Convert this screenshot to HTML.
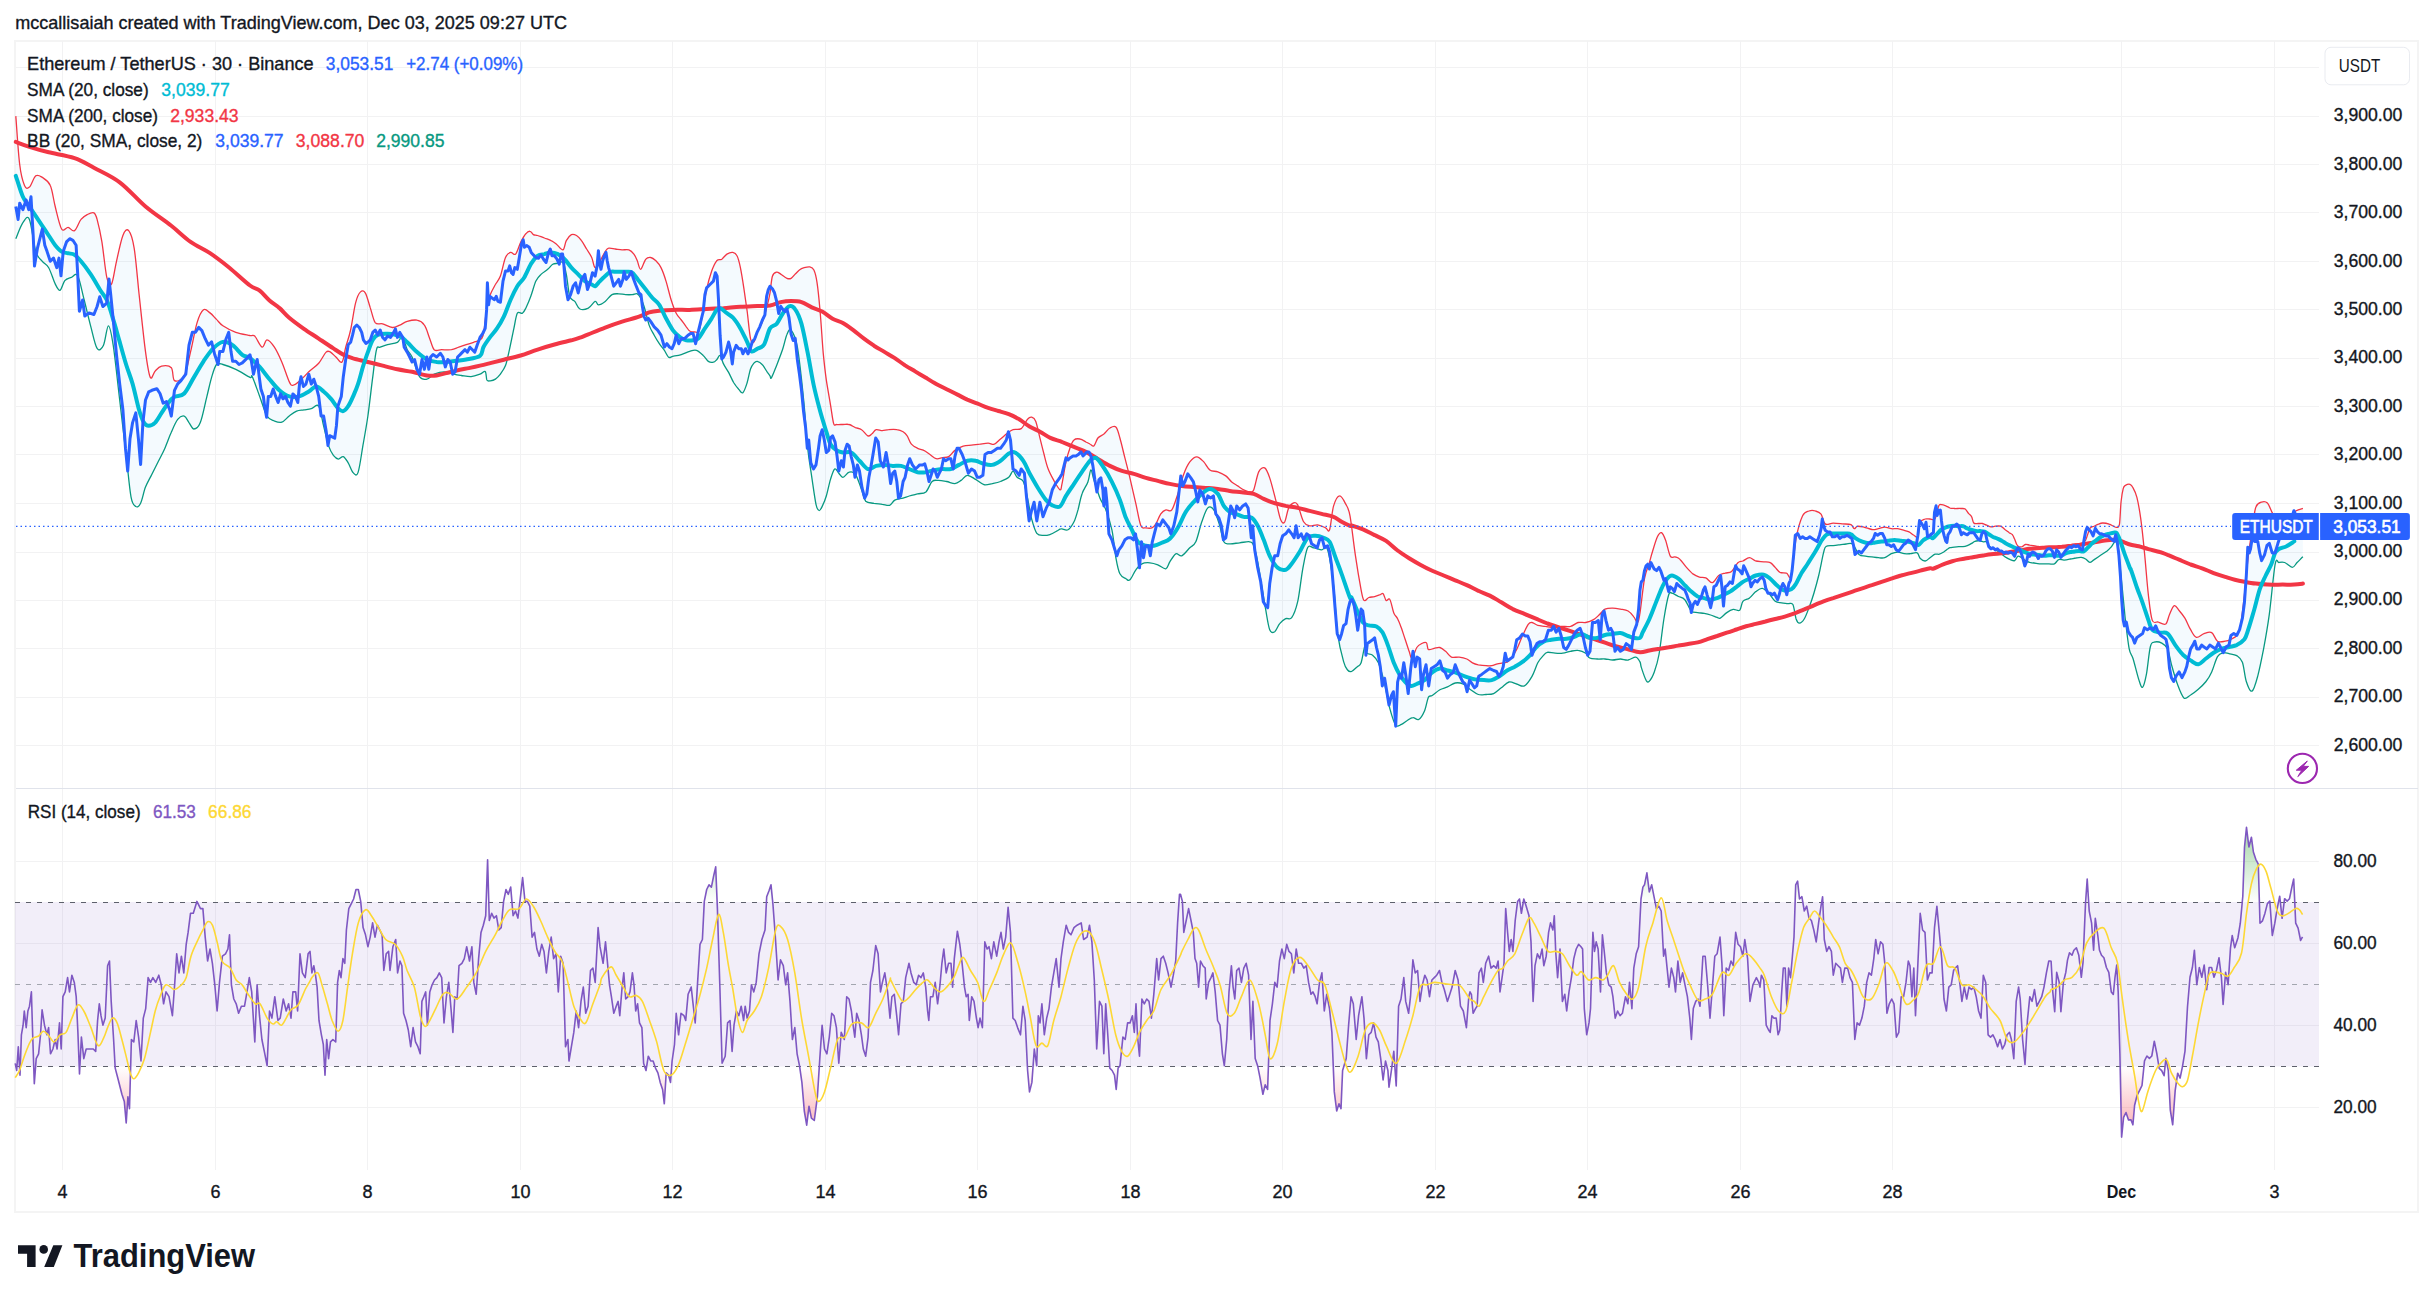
<!DOCTYPE html>
<html><head><meta charset="utf-8"><style>
html,body{margin:0;padding:0;background:#fff;width:2433px;height:1302px;overflow:hidden}
svg{position:absolute;left:0;top:0;font-family:"Liberation Sans", sans-serif}
</style></head><body>
<svg width="2433" height="1302" viewBox="0 0 2433 1302">
<rect x="15" y="41" width="2403" height="1171" fill="none" stroke="#f4f4f4" stroke-width="2"/>
<line x1="62.5" y1="41" x2="62.5" y2="1170" stroke="#f2f2f3" stroke-width="1"/>
<line x1="215.5" y1="41" x2="215.5" y2="1170" stroke="#f2f2f3" stroke-width="1"/>
<line x1="367.5" y1="41" x2="367.5" y2="1170" stroke="#f2f2f3" stroke-width="1"/>
<line x1="520.5" y1="41" x2="520.5" y2="1170" stroke="#f2f2f3" stroke-width="1"/>
<line x1="672.5" y1="41" x2="672.5" y2="1170" stroke="#f2f2f3" stroke-width="1"/>
<line x1="825.5" y1="41" x2="825.5" y2="1170" stroke="#f2f2f3" stroke-width="1"/>
<line x1="977.5" y1="41" x2="977.5" y2="1170" stroke="#f2f2f3" stroke-width="1"/>
<line x1="1130.5" y1="41" x2="1130.5" y2="1170" stroke="#f2f2f3" stroke-width="1"/>
<line x1="1282.5" y1="41" x2="1282.5" y2="1170" stroke="#f2f2f3" stroke-width="1"/>
<line x1="1435.5" y1="41" x2="1435.5" y2="1170" stroke="#f2f2f3" stroke-width="1"/>
<line x1="1587.5" y1="41" x2="1587.5" y2="1170" stroke="#f2f2f3" stroke-width="1"/>
<line x1="1740.5" y1="41" x2="1740.5" y2="1170" stroke="#f2f2f3" stroke-width="1"/>
<line x1="1892.5" y1="41" x2="1892.5" y2="1170" stroke="#f2f2f3" stroke-width="1"/>
<line x1="2121.5" y1="41" x2="2121.5" y2="1170" stroke="#f2f2f3" stroke-width="1"/>
<line x1="2274.5" y1="41" x2="2274.5" y2="1170" stroke="#f2f2f3" stroke-width="1"/>
<line x1="16" y1="67.5" x2="2319" y2="67.5" stroke="#f2f2f3" stroke-width="1"/>
<line x1="16" y1="116.5" x2="2319" y2="116.5" stroke="#f2f2f3" stroke-width="1"/>
<line x1="16" y1="164.5" x2="2319" y2="164.5" stroke="#f2f2f3" stroke-width="1"/>
<line x1="16" y1="212.5" x2="2319" y2="212.5" stroke="#f2f2f3" stroke-width="1"/>
<line x1="16" y1="261.5" x2="2319" y2="261.5" stroke="#f2f2f3" stroke-width="1"/>
<line x1="16" y1="309.5" x2="2319" y2="309.5" stroke="#f2f2f3" stroke-width="1"/>
<line x1="16" y1="358.5" x2="2319" y2="358.5" stroke="#f2f2f3" stroke-width="1"/>
<line x1="16" y1="406.5" x2="2319" y2="406.5" stroke="#f2f2f3" stroke-width="1"/>
<line x1="16" y1="454.5" x2="2319" y2="454.5" stroke="#f2f2f3" stroke-width="1"/>
<line x1="16" y1="503.5" x2="2319" y2="503.5" stroke="#f2f2f3" stroke-width="1"/>
<line x1="16" y1="552.5" x2="2319" y2="552.5" stroke="#f2f2f3" stroke-width="1"/>
<line x1="16" y1="600.5" x2="2319" y2="600.5" stroke="#f2f2f3" stroke-width="1"/>
<line x1="16" y1="648.5" x2="2319" y2="648.5" stroke="#f2f2f3" stroke-width="1"/>
<line x1="16" y1="697.5" x2="2319" y2="697.5" stroke="#f2f2f3" stroke-width="1"/>
<line x1="16" y1="745.5" x2="2319" y2="745.5" stroke="#f2f2f3" stroke-width="1"/>
<line x1="16" y1="861.5" x2="2319" y2="861.5" stroke="#f2f2f3" stroke-width="1"/>
<line x1="16" y1="943.5" x2="2319" y2="943.5" stroke="#f2f2f3" stroke-width="1"/>
<line x1="16" y1="1025.5" x2="2319" y2="1025.5" stroke="#f2f2f3" stroke-width="1"/>
<line x1="16" y1="1107.5" x2="2319" y2="1107.5" stroke="#f2f2f3" stroke-width="1"/>
<line x1="16" y1="788.5" x2="2418" y2="788.5" stroke="#e0e3eb" stroke-width="1"/>
<rect x="15" y="902" width="2304" height="164.5" fill="#7e57c2" fill-opacity="0.1"/>
<line x1="15" y1="902.5" x2="2319" y2="902.5" stroke="#5d606b" stroke-width="1" stroke-dasharray="5,6"/>
<line x1="15" y1="1066.5" x2="2319" y2="1066.5" stroke="#5d606b" stroke-width="1" stroke-dasharray="5,6"/>
<line x1="15" y1="984.5" x2="2319" y2="984.5" stroke="#a3a6af" stroke-width="1" stroke-dasharray="5,6"/>
<path d="M15.8,116.1 L19.7,164.5 L24.5,185.5 L29.4,187.1 L35.8,175.8 L42.3,177.4 L50.3,185.5 L55.2,206.5 L61.6,229.0 L68.1,227.4 L74.5,230.6 L81.0,219.4 L87.4,214.5 L93.9,212.9 L97.1,219.4 L101.9,241.9 L106.8,277.4 L111.6,283.9 L116.5,261.3 L122.9,235.5 L128.7,230.6 L134.2,248.4 L139.0,293.5 L145.5,351.6 L150.3,377.4 L155.2,371.0 L161.6,366.1 L171.3,367.7 L174.5,380.6 L184.2,375.8 L190.6,351.6 L197.1,322.6 L203.5,309.7 L210.0,312.9 L216.5,319.4 L222.9,325.8 L235.8,332.3 L250.0,335.5 L254.8,336.1 L262.1,347.2 L267.0,339.8 L274.4,347.2 L281.8,362.0 L289.2,381.6 L292.9,385.3 L299.0,381.6 L308.8,371.8 L318.7,363.2 L326.1,352.1 L330.5,352.1 L335.9,357.0 L342.0,362.0 L345.7,347.2 L350.6,330.0 L355.6,302.9 L360.5,291.9 L365.4,293.1 L370.3,307.9 L375.2,322.6 L382.6,323.8 L392.4,327.5 L399.8,325.1 L407.2,321.4 L417.0,320.2 L424.4,325.1 L429.3,337.4 L434.2,349.7 L441.6,349.7 L451.5,349.7 L458.8,347.2 L466.2,344.7 L473.6,342.3 L480.0,339.8 L483.5,333.5 L486.9,306.5 L490.3,294.6 L495.4,284.5 L500.4,276.1 L505.5,257.5 L510.6,252.4 L515.6,254.1 L520.7,242.3 L525.8,233.8 L530.0,231.3 L533.4,234.6 L537.6,235.5 L544.4,238.0 L551.1,240.6 L556.2,243.9 L563.0,249.9 L566.3,240.6 L571.4,234.6 L576.5,235.5 L581.5,240.6 L586.6,249.0 L591.7,257.5 L595.1,267.6 L600.1,260.8 L605.2,251.5 L608.6,248.2 L615.3,249.0 L622.1,249.9 L628.9,249.9 L633.9,254.1 L637.3,260.8 L640.7,269.3 L645.8,259.2 L650.8,257.5 L655.9,260.8 L661.0,267.6 L666.0,281.1 L671.1,299.7 L676.2,313.2 L681.3,320.0 L686.3,326.8 L689.7,331.0 L694.8,331.8 L699.8,328.4 L706.6,289.6 L711.7,271.0 L716.7,260.8 L721.8,259.2 L726.9,254.1 L732.8,252.4 L737.0,255.8 L740.4,267.6 L743.8,287.9 L747.2,311.5 L750.5,338.6 L753.9,342.0 L757.3,331.8 L762.4,321.7 L767.4,304.8 L770.0,293.0 L772.4,276.2 L776.6,272.1 L780.7,274.1 L787.0,278.3 L791.1,278.3 L795.2,274.1 L799.4,270.0 L803.5,267.9 L809.8,266.9 L813.9,270.0 L817.0,282.4 L820.1,311.5 L823.2,352.9 L826.3,379.9 L830.5,404.8 L833.6,423.4 L836.7,424.5 L842.9,424.5 L849.2,424.5 L855.4,427.6 L861.6,429.7 L867.8,435.9 L872.0,433.8 L876.1,429.7 L882.3,430.7 L888.6,429.7 L896.8,429.7 L903.1,431.7 L907.2,435.9 L911.4,444.2 L917.6,448.3 L923.8,450.4 L930.0,454.5 L936.2,458.7 L942.5,457.6 L948.7,456.6 L954.9,450.4 L963.2,446.2 L971.5,445.2 L979.8,444.2 L988.1,443.1 L994.3,444.2 L1000.5,439.0 L1006.7,433.8 L1013.0,429.7 L1021.2,428.6 L1027.5,419.3 L1031.6,417.2 L1035.8,421.4 L1039.9,437.9 L1044.1,454.5 L1048.2,469.0 L1054.4,481.5 L1060.0,489.8 L1062.0,483.9 L1066.0,461.9 L1070.0,447.9 L1074.0,440.0 L1080.0,439.0 L1085.9,442.0 L1089.9,444.0 L1093.9,445.9 L1097.9,438.0 L1103.9,434.0 L1109.9,428.0 L1115.9,427.0 L1119.9,438.0 L1124.9,457.9 L1129.9,477.9 L1135.9,503.9 L1140.9,525.8 L1145.9,527.8 L1151.9,527.8 L1155.9,523.8 L1160.8,513.9 L1165.8,509.9 L1171.8,509.9 L1177.8,493.9 L1183.8,473.9 L1189.8,461.9 L1196.8,456.9 L1203.8,461.9 L1209.8,469.9 L1217.8,471.9 L1225.8,475.9 L1231.7,481.9 L1237.7,485.9 L1243.7,489.9 L1249.7,491.9 L1253.7,489.9 L1258.7,471.9 L1264.7,467.9 L1269.7,477.9 L1275.7,499.9 L1280.7,519.8 L1284.7,521.8 L1288.7,507.9 L1293.7,502.9 L1297.7,504.9 L1303.6,521.8 L1309.6,525.8 L1317.6,524.8 L1325.6,527.8 L1329.6,529.8 L1333.6,505.9 L1339.6,495.9 L1345.6,503.9 L1350.0,515.9 L1355.4,555.3 L1361.1,589.9 L1364.0,600.4 L1368.8,597.5 L1374.6,596.6 L1380.3,594.7 L1383.2,593.7 L1386.1,600.4 L1389.9,599.5 L1393.8,612.9 L1397.6,618.7 L1401.5,628.3 L1405.3,639.8 L1409.1,651.3 L1412.0,658.0 L1416.8,647.5 L1421.6,643.6 L1426.4,642.7 L1428.3,649.4 L1434.1,648.4 L1439.9,647.5 L1445.6,651.3 L1451.4,657.1 L1459.1,657.1 L1466.8,659.0 L1472.5,662.8 L1478.3,664.8 L1486.0,665.7 L1491.7,665.7 L1497.5,663.8 L1503.2,662.8 L1509.0,660.9 L1516.7,649.4 L1522.4,636.0 L1528.2,624.4 L1532.0,622.5 L1537.8,625.4 L1545.5,626.4 L1553.2,627.3 L1560.9,626.4 L1570.5,626.4 L1578.1,622.5 L1585.8,622.5 L1593.5,619.6 L1599.3,614.8 L1605.0,609.1 L1612.7,608.1 L1620.4,609.1 L1628.1,611.0 L1633.8,616.8 L1637.7,622.5 L1640.0,612.9 L1644.5,578.7 L1649.4,562.6 L1652.6,551.3 L1657.4,536.8 L1661.5,532.7 L1665.5,540.0 L1670.3,556.1 L1675.2,556.9 L1680.0,559.4 L1686.5,567.4 L1692.9,573.9 L1699.4,577.1 L1705.8,577.9 L1712.3,582.7 L1718.7,575.5 L1725.2,573.1 L1731.6,571.5 L1738.1,562.6 L1742.9,561.0 L1749.4,557.7 L1755.8,561.0 L1763.9,561.8 L1770.3,562.6 L1775.2,567.4 L1780.0,572.3 L1786.5,573.1 L1791.3,575.5 L1796.1,538.4 L1802.6,515.8 L1809.0,511.0 L1815.5,511.0 L1821.1,514.2 L1825.2,523.9 L1833.2,523.1 L1842.9,523.9 L1851.0,524.7 L1854.2,528.7 L1857.4,526.3 L1863.9,527.1 L1871.9,529.5 L1878.4,528.7 L1884.8,527.1 L1891.3,528.7 L1897.7,528.7 L1904.2,530.3 L1909.0,531.9 L1913.9,535.2 L1917.9,536.8 L1920.3,522.3 L1925.2,519.0 L1930.0,519.0 L1935.1,518.7 L1938.8,505.8 L1941.5,504.7 L1945.8,505.8 L1950.1,508.0 L1954.4,508.5 L1960.9,508.5 L1965.2,509.0 L1968.4,513.3 L1971.6,516.6 L1973.8,523.0 L1978.1,523.5 L1982.4,523.5 L1986.7,525.2 L1991.0,526.8 L1995.3,526.2 L2000.6,526.2 L2004.9,529.5 L2009.2,532.7 L2012.5,534.8 L2014.6,539.1 L2016.8,544.5 L2018.9,546.7 L2022.2,546.7 L2025.4,544.5 L2029.7,545.1 L2036.1,546.1 L2042.6,547.2 L2049.0,546.7 L2055.5,546.7 L2061.9,546.1 L2068.4,545.1 L2074.8,544.0 L2081.3,543.4 L2085.6,540.2 L2089.9,528.4 L2094.2,526.2 L2098.5,524.1 L2102.8,523.0 L2109.2,524.1 L2113.5,526.2 L2116.8,527.3 L2119.5,524.1 L2121.1,501.5 L2123.2,488.6 L2125.4,485.4 L2130.0,484.3 L2133.0,487.7 L2136.9,497.3 L2140.7,518.4 L2144.5,552.9 L2148.4,595.2 L2152.2,620.1 L2158.0,622.0 L2165.7,624.0 L2169.5,614.4 L2174.3,605.7 L2179.1,610.5 L2184.9,618.2 L2190.6,629.7 L2196.4,637.4 L2204.0,633.6 L2211.7,632.6 L2217.5,641.2 L2225.2,641.2 L2230.9,639.3 L2236.7,635.5 L2240.5,625.9 L2244.4,595.2 L2248.2,556.8 L2253.0,524.1 L2255.9,506.9 L2261.6,502.1 L2267.4,503.0 L2272.2,512.6 L2275.1,518.4 L2278.9,528.0 L2284.7,522.2 L2290.4,516.5 L2296.2,510.7 L2302.9,508.4 L2302.9,556.8 L2297.1,562.5 L2292.3,567.3 L2284.7,562.5 L2278.9,562.5 L2275.1,564.5 L2269.3,614.4 L2263.6,648.9 L2257.8,675.8 L2252.0,691.1 L2246.3,681.5 L2242.4,662.3 L2236.7,655.6 L2229.0,653.7 L2223.2,652.7 L2217.5,656.6 L2211.7,671.9 L2206.0,681.5 L2198.3,689.2 L2190.6,695.0 L2183.9,697.9 L2177.2,683.5 L2171.4,664.3 L2167.6,648.9 L2161.8,643.1 L2154.1,642.2 L2150.3,647.0 L2146.5,673.9 L2142.6,687.3 L2138.8,679.6 L2133.0,658.5 L2129.2,648.9 L2125.4,620.0 L2124.3,609.0 L2121.1,576.8 L2117.8,544.5 L2114.6,542.4 L2111.4,546.7 L2107.1,551.0 L2100.6,555.3 L2094.2,559.6 L2089.9,562.3 L2085.6,559.0 L2081.3,557.4 L2075.9,558.0 L2070.5,559.0 L2064.1,560.1 L2058.7,559.6 L2054.4,563.9 L2049.0,563.9 L2042.6,563.9 L2036.1,563.3 L2029.7,562.3 L2025.4,560.6 L2021.1,557.4 L2017.8,556.3 L2014.6,560.6 L2010.3,559.6 L2006.0,557.4 L2001.7,554.2 L1997.4,551.0 L1993.1,548.8 L1988.8,545.6 L1986.7,541.8 L1983.4,541.8 L1979.1,540.8 L1974.8,541.3 L1971.6,543.4 L1967.3,545.6 L1963.0,546.7 L1958.7,546.7 L1954.4,547.2 L1950.1,547.7 L1948.0,548.8 L1943.7,552.0 L1939.4,554.2 L1935.1,554.2 L1930.0,557.7 L1925.2,561.0 L1920.3,558.5 L1917.1,552.9 L1910.6,553.7 L1904.2,553.7 L1897.7,552.1 L1891.3,553.7 L1884.8,557.7 L1878.4,557.7 L1871.9,556.9 L1865.5,556.1 L1859.0,554.5 L1852.6,544.0 L1846.1,544.0 L1839.7,544.8 L1833.2,545.6 L1826.0,546.5 L1823.5,552.9 L1818.7,575.5 L1813.9,593.2 L1809.0,607.7 L1804.2,619.0 L1799.4,623.1 L1796.1,619.0 L1792.9,604.5 L1788.1,603.7 L1781.6,602.9 L1775.2,601.3 L1768.7,593.2 L1762.3,588.4 L1755.8,591.6 L1749.4,598.1 L1742.9,601.3 L1739.7,610.2 L1733.2,609.4 L1726.8,612.6 L1720.3,618.2 L1717.1,617.4 L1710.6,615.0 L1704.2,613.4 L1697.7,612.6 L1691.3,611.0 L1684.8,599.7 L1678.4,596.5 L1671.9,593.2 L1668.7,594.8 L1663.9,619.0 L1659.0,654.5 L1654.2,672.3 L1649.4,681.1 L1646.1,680.3 L1641.3,667.4 L1640.0,661.9 L1635.8,657.1 L1628.1,660.0 L1620.4,659.0 L1612.7,660.0 L1605.0,659.0 L1597.3,659.0 L1589.7,658.0 L1585.8,653.2 L1578.1,650.4 L1570.5,651.3 L1562.8,653.2 L1555.1,653.2 L1547.4,652.3 L1543.6,655.2 L1537.8,662.8 L1532.0,676.3 L1524.4,685.9 L1516.7,684.0 L1509.0,682.0 L1501.3,687.8 L1493.6,693.6 L1486.0,694.5 L1478.3,694.5 L1470.6,689.7 L1462.9,684.0 L1455.2,683.0 L1447.5,686.9 L1439.9,689.7 L1432.2,695.5 L1428.3,697.4 L1424.5,710.9 L1418.7,719.5 L1413.0,717.6 L1407.2,720.5 L1401.5,724.3 L1395.7,725.3 L1389.9,708.9 L1384.2,682.0 L1378.4,662.8 L1372.6,655.2 L1366.9,653.2 L1365.0,645.6 L1361.1,662.8 L1357.3,666.7 L1351.5,671.5 L1347.6,670.0 L1343.6,661.6 L1337.6,633.7 L1333.6,585.8 L1327.6,549.8 L1321.6,549.8 L1313.6,547.8 L1307.6,547.8 L1302.6,569.8 L1297.7,601.7 L1291.7,617.7 L1285.7,618.7 L1279.7,623.7 L1274.7,631.7 L1269.7,629.7 L1265.7,609.7 L1261.7,585.8 L1257.7,561.8 L1253.7,545.8 L1249.7,541.8 L1239.7,542.8 L1229.7,543.8 L1223.8,541.8 L1219.8,525.8 L1213.8,509.9 L1207.8,507.9 L1201.8,521.8 L1195.8,541.8 L1189.8,547.8 L1181.8,555.8 L1175.8,553.8 L1169.8,561.8 L1165.8,568.8 L1157.8,564.8 L1149.9,562.8 L1141.9,563.8 L1135.9,569.8 L1129.9,579.8 L1125.9,578.8 L1119.9,573.8 L1115.9,557.8 L1111.9,529.8 L1105.9,509.9 L1099.9,497.9 L1093.9,479.9 L1090.9,469.9 L1087.9,481.9 L1082.0,493.9 L1078.0,509.9 L1074.0,521.8 L1068.0,529.8 L1062.0,528.8 L1060.0,529.2 L1056.5,531.2 L1050.3,534.4 L1044.1,535.4 L1036.8,533.3 L1031.6,518.8 L1027.5,498.1 L1023.3,481.5 L1017.1,477.3 L1013.0,471.1 L1008.8,477.3 L1000.5,481.5 L992.2,483.6 L983.9,484.6 L975.6,479.4 L967.3,475.3 L961.1,480.4 L954.9,483.6 L946.6,481.5 L938.3,480.4 L932.1,481.5 L925.9,491.9 L917.6,493.9 L909.3,496.0 L903.1,498.1 L894.8,500.1 L889.6,505.3 L882.3,504.3 L874.0,503.3 L865.7,501.2 L861.6,489.8 L855.4,474.2 L849.2,472.2 L842.9,477.3 L838.8,473.2 L834.6,469.0 L830.5,479.4 L826.3,496.0 L822.2,506.4 L819.1,510.5 L816.0,504.3 L811.8,477.3 L807.7,448.3 L803.5,398.6 L797.3,346.7 L791.1,330.1 L787.0,334.3 L782.8,348.8 L776.6,365.4 L771.4,377.8 L770.0,375.8 L767.4,372.4 L762.4,364.8 L757.3,361.4 L753.9,363.1 L750.5,369.0 L747.2,382.5 L742.9,392.7 L738.7,389.3 L733.6,382.5 L728.6,372.4 L723.5,363.9 L720.1,355.5 L716.7,359.7 L713.4,362.2 L708.3,361.4 L703.2,355.5 L696.5,350.4 L689.7,351.3 L681.3,354.6 L672.8,356.3 L668.6,357.2 L664.4,350.4 L659.3,343.7 L654.2,335.2 L649.1,325.1 L644.1,306.5 L640.7,298.0 L637.3,293.8 L632.2,294.6 L625.5,294.6 L618.7,293.8 L612.0,294.6 L605.2,301.4 L598.4,304.8 L595.1,301.4 L588.3,308.2 L579.9,309.0 L574.8,301.4 L569.7,296.3 L566.3,274.4 L563.0,262.5 L557.9,263.4 L552.8,264.2 L547.7,269.3 L541.0,274.4 L535.9,281.1 L530.8,296.3 L525.8,308.2 L522.4,313.2 L517.3,313.2 L513.9,328.4 L508.9,352.1 L505.5,365.6 L500.4,374.1 L495.4,379.1 L490.3,380.8 L486.9,380.0 L485.2,371.5 L480.0,374.2 L471.1,376.7 L461.3,375.5 L453.9,374.2 L444.1,371.8 L434.2,374.2 L426.9,379.2 L419.5,376.7 L412.1,357.0 L407.2,349.7 L402.3,337.4 L397.4,342.3 L387.5,344.7 L380.2,347.2 L376.5,349.7 L372.8,376.7 L367.9,416.0 L362.9,445.6 L358.0,472.6 L353.1,472.6 L348.2,462.8 L343.3,456.6 L338.4,459.1 L333.4,455.4 L328.5,445.6 L323.6,425.9 L318.7,406.2 L311.3,408.7 L303.9,409.9 L296.6,411.1 L289.2,416.0 L281.8,422.2 L274.4,421.0 L267.0,416.0 L259.7,396.4 L252.3,376.7 L250.0,377.4 L235.8,369.4 L222.9,364.5 L216.5,364.5 L211.6,377.4 L206.8,396.8 L200.3,422.6 L193.9,429.0 L189.0,422.6 L184.2,416.1 L177.7,419.4 L171.3,432.3 L164.8,448.4 L158.4,461.3 L151.9,474.2 L145.5,487.1 L140.6,503.2 L135.8,506.5 L131.0,496.8 L126.1,454.8 L119.7,400.0 L113.2,345.2 L108.4,325.8 L103.5,345.2 L97.1,348.4 L90.6,325.8 L84.2,300.0 L77.7,275.8 L71.3,277.4 L64.8,280.6 L60.0,290.3 L55.2,283.9 L48.7,267.7 L42.3,261.3 L35.8,251.6 L29.4,219.4 L22.9,222.6 L15.8,238.7 Z" fill="#2196f3" fill-opacity="0.05" stroke="none"/>
<path d="M15.8,116.1 C16.5,124.2 18.2,153.0 19.7,164.5 C21.1,176.1 22.9,181.7 24.5,185.5 C26.1,189.2 27.5,188.7 29.4,187.1 C31.2,185.5 33.7,177.4 35.8,175.8 C38.0,174.2 39.8,175.8 42.3,177.4 C44.7,179.0 48.2,180.6 50.3,185.5 C52.5,190.3 53.3,199.2 55.2,206.5 C57.0,213.7 59.5,225.5 61.6,229.0 C63.8,232.5 65.9,227.2 68.1,227.4 C70.2,227.7 72.4,232.0 74.5,230.6 C76.7,229.3 78.8,222.0 81.0,219.4 C83.1,216.7 85.3,215.6 87.4,214.5 C89.6,213.4 92.3,212.1 93.9,212.9 C95.5,213.7 95.8,214.5 97.1,219.4 C98.4,224.2 100.3,232.3 101.9,241.9 C103.5,251.6 105.2,270.4 106.8,277.4 C108.4,284.4 110.0,286.6 111.6,283.9 C113.2,281.2 114.6,269.4 116.5,261.3 C118.3,253.2 120.9,240.6 122.9,235.5 C124.9,230.4 126.8,228.5 128.7,230.6 C130.6,232.8 132.5,237.9 134.2,248.4 C135.9,258.9 137.2,276.3 139.0,293.5 C140.9,310.8 143.6,337.6 145.5,351.6 C147.4,365.6 148.7,374.2 150.3,377.4 C151.9,380.6 153.3,372.8 155.2,371.0 C157.0,369.1 158.9,366.7 161.6,366.1 C164.3,365.6 169.1,365.3 171.3,367.7 C173.4,370.2 172.4,379.3 174.5,380.6 C176.7,382.0 181.5,380.6 184.2,375.8 C186.9,371.0 188.5,360.5 190.6,351.6 C192.8,342.7 194.9,329.6 197.1,322.6 C199.2,315.6 201.4,311.3 203.5,309.7 C205.7,308.1 207.8,311.3 210.0,312.9 C212.2,314.5 214.3,317.2 216.5,319.4 C218.6,321.5 219.7,323.7 222.9,325.8 C226.1,328.0 231.3,330.6 235.8,332.3 C240.3,333.9 246.8,334.8 250.0,335.5 C253.2,336.1 252.7,334.2 254.8,336.1 C256.8,338.1 260.1,346.6 262.1,347.2 C264.2,347.8 265.0,339.8 267.0,339.8 C269.1,339.8 272.0,343.5 274.4,347.2 C276.9,350.9 279.3,356.2 281.8,362.0 C284.3,367.7 287.3,377.7 289.2,381.6 C291.0,385.5 291.2,385.3 292.9,385.3 C294.5,385.3 296.3,383.9 299.0,381.6 C301.7,379.4 305.6,374.9 308.8,371.8 C312.1,368.7 315.8,366.5 318.7,363.2 C321.6,359.9 324.1,354.0 326.1,352.1 C328.0,350.3 328.8,351.3 330.5,352.1 C332.1,352.9 334.0,355.4 335.9,357.0 C337.8,358.7 340.4,363.6 342.0,362.0 C343.7,360.3 344.3,352.5 345.7,347.2 C347.2,341.9 349.0,337.4 350.6,330.0 C352.3,322.6 353.9,309.3 355.6,302.9 C357.2,296.6 358.8,293.5 360.5,291.9 C362.1,290.2 363.8,290.4 365.4,293.1 C367.0,295.8 368.7,302.9 370.3,307.9 C372.0,312.8 373.2,319.9 375.2,322.6 C377.3,325.3 379.7,323.0 382.6,323.8 C385.5,324.7 389.6,327.3 392.4,327.5 C395.3,327.7 397.4,326.1 399.8,325.1 C402.3,324.0 404.3,322.2 407.2,321.4 C410.1,320.6 414.2,319.5 417.0,320.2 C419.9,320.8 422.4,322.2 424.4,325.1 C426.5,327.9 427.7,333.3 429.3,337.4 C431.0,341.5 432.2,347.6 434.2,349.7 C436.3,351.7 438.8,349.7 441.6,349.7 C444.5,349.7 448.6,350.1 451.5,349.7 C454.3,349.2 456.4,348.0 458.8,347.2 C461.3,346.4 463.8,345.6 466.2,344.7 C468.7,343.9 471.3,343.1 473.6,342.3 C475.9,341.5 478.3,341.3 480.0,339.8 C481.6,338.4 482.4,339.1 483.5,333.5 C484.7,328.0 485.8,313.0 486.9,306.5 C488.0,300.0 488.9,298.3 490.3,294.6 C491.7,291.0 493.7,287.6 495.4,284.5 C497.0,281.4 498.7,280.6 500.4,276.1 C502.1,271.5 503.8,261.4 505.5,257.5 C507.2,253.5 508.9,253.0 510.6,252.4 C512.3,251.8 513.9,255.8 515.6,254.1 C517.3,252.4 519.0,245.6 520.7,242.3 C522.4,238.9 524.2,235.6 525.8,233.8 C527.3,232.0 528.7,231.1 530.0,231.3 C531.3,231.4 532.1,233.9 533.4,234.6 C534.6,235.4 535.8,234.9 537.6,235.5 C539.4,236.1 542.1,237.2 544.4,238.0 C546.6,238.9 549.2,239.6 551.1,240.6 C553.1,241.5 554.2,242.4 556.2,243.9 C558.2,245.5 561.3,250.4 563.0,249.9 C564.6,249.3 564.9,243.1 566.3,240.6 C567.7,238.0 569.7,235.5 571.4,234.6 C573.1,233.8 574.8,234.5 576.5,235.5 C578.2,236.5 579.9,238.3 581.5,240.6 C583.2,242.8 584.9,246.2 586.6,249.0 C588.3,251.8 590.3,254.4 591.7,257.5 C593.1,260.6 593.7,267.0 595.1,267.6 C596.5,268.2 598.4,263.5 600.1,260.8 C601.8,258.2 603.8,253.7 605.2,251.5 C606.6,249.4 606.9,248.6 608.6,248.2 C610.3,247.7 613.1,248.7 615.3,249.0 C617.6,249.3 619.9,249.7 622.1,249.9 C624.4,250.0 626.9,249.2 628.9,249.9 C630.8,250.6 632.5,252.3 633.9,254.1 C635.3,255.9 636.2,258.3 637.3,260.8 C638.4,263.4 639.3,269.6 640.7,269.3 C642.1,269.0 644.1,261.1 645.8,259.2 C647.5,257.2 649.1,257.2 650.8,257.5 C652.5,257.7 654.2,259.2 655.9,260.8 C657.6,262.5 659.3,264.2 661.0,267.6 C662.7,271.0 664.4,275.8 666.0,281.1 C667.7,286.5 669.4,294.4 671.1,299.7 C672.8,305.1 674.5,309.9 676.2,313.2 C677.9,316.6 679.6,317.7 681.3,320.0 C682.9,322.2 684.9,324.9 686.3,326.8 C687.7,328.6 688.3,330.1 689.7,331.0 C691.1,331.8 693.1,332.2 694.8,331.8 C696.5,331.4 697.9,335.5 699.8,328.4 C701.8,321.4 704.6,299.1 706.6,289.6 C708.6,280.0 710.0,275.8 711.7,271.0 C713.4,266.2 715.1,262.8 716.7,260.8 C718.4,258.9 720.1,260.3 721.8,259.2 C723.5,258.0 725.1,255.2 726.9,254.1 C728.7,253.0 731.1,252.1 732.8,252.4 C734.5,252.7 735.8,253.2 737.0,255.8 C738.3,258.3 739.3,262.3 740.4,267.6 C741.5,273.0 742.7,280.6 743.8,287.9 C744.9,295.2 746.0,303.1 747.2,311.5 C748.3,320.0 749.4,333.5 750.5,338.6 C751.7,343.7 752.8,343.1 753.9,342.0 C755.1,340.8 755.9,335.2 757.3,331.8 C758.7,328.4 760.7,326.2 762.4,321.7 C764.1,317.2 766.2,309.6 767.4,304.8 C768.7,300.0 769.2,297.7 770.0,293.0 C770.8,288.2 771.3,279.7 772.4,276.2 C773.5,272.7 775.2,272.4 776.6,272.1 C778.0,271.7 779.0,273.1 780.7,274.1 C782.5,275.2 785.2,277.6 787.0,278.3 C788.7,279.0 789.7,279.0 791.1,278.3 C792.5,277.6 793.9,275.5 795.2,274.1 C796.6,272.8 798.0,271.0 799.4,270.0 C800.8,269.0 801.8,268.4 803.5,267.9 C805.3,267.4 808.0,266.5 809.8,266.9 C811.5,267.2 812.7,267.4 813.9,270.0 C815.1,272.6 816.0,275.5 817.0,282.4 C818.1,289.4 819.1,299.7 820.1,311.5 C821.2,323.2 822.2,341.5 823.2,352.9 C824.3,364.3 825.1,371.3 826.3,379.9 C827.6,388.5 829.3,397.5 830.5,404.8 C831.7,412.0 832.6,420.1 833.6,423.4 C834.6,426.7 835.2,424.3 836.7,424.5 C838.3,424.6 840.9,424.5 842.9,424.5 C845.0,424.5 847.1,423.9 849.2,424.5 C851.2,425.0 853.3,426.7 855.4,427.6 C857.4,428.4 859.5,428.3 861.6,429.7 C863.7,431.0 866.1,435.2 867.8,435.9 C869.5,436.6 870.6,434.8 872.0,433.8 C873.3,432.8 874.4,430.2 876.1,429.7 C877.8,429.1 880.3,430.7 882.3,430.7 C884.4,430.7 886.1,429.8 888.6,429.7 C891.0,429.5 894.4,429.3 896.8,429.7 C899.3,430.0 901.3,430.7 903.1,431.7 C904.8,432.8 905.8,433.8 907.2,435.9 C908.6,437.9 909.6,442.1 911.4,444.2 C913.1,446.2 915.5,447.3 917.6,448.3 C919.7,449.3 921.7,449.3 923.8,450.4 C925.9,451.4 927.9,453.2 930.0,454.5 C932.1,455.9 934.2,458.2 936.2,458.7 C938.3,459.2 940.4,458.0 942.5,457.6 C944.5,457.3 946.6,457.8 948.7,456.6 C950.8,455.4 952.5,452.1 954.9,450.4 C957.3,448.7 960.4,447.1 963.2,446.2 C966.0,445.4 968.7,445.5 971.5,445.2 C974.3,444.9 977.0,444.5 979.8,444.2 C982.5,443.8 985.7,443.1 988.1,443.1 C990.5,443.1 992.2,444.9 994.3,444.2 C996.4,443.5 998.4,440.7 1000.5,439.0 C1002.6,437.3 1004.7,435.4 1006.7,433.8 C1008.8,432.2 1010.5,430.5 1013.0,429.7 C1015.4,428.8 1018.8,430.3 1021.2,428.6 C1023.7,426.9 1025.7,421.2 1027.5,419.3 C1029.2,417.4 1030.2,416.9 1031.6,417.2 C1033.0,417.6 1034.4,417.9 1035.8,421.4 C1037.1,424.8 1038.5,432.4 1039.9,437.9 C1041.3,443.5 1042.7,449.3 1044.1,454.5 C1045.4,459.7 1046.5,464.6 1048.2,469.0 C1049.9,473.5 1052.5,478.0 1054.4,481.5 C1056.4,484.9 1058.8,489.4 1060.0,489.8 C1061.3,490.2 1061.0,488.5 1062.0,483.9 C1063.0,479.3 1064.6,467.9 1066.0,461.9 C1067.3,455.9 1068.6,451.6 1070.0,447.9 C1071.3,444.3 1072.3,441.5 1074.0,440.0 C1075.6,438.5 1078.0,438.6 1080.0,439.0 C1082.0,439.3 1084.3,441.1 1085.9,442.0 C1087.6,442.8 1088.6,443.3 1089.9,444.0 C1091.3,444.6 1092.6,446.9 1093.9,445.9 C1095.3,445.0 1096.3,440.0 1097.9,438.0 C1099.6,436.0 1101.9,435.6 1103.9,434.0 C1105.9,432.3 1107.9,429.1 1109.9,428.0 C1111.9,426.8 1114.2,425.3 1115.9,427.0 C1117.6,428.6 1118.4,432.8 1119.9,438.0 C1121.4,443.1 1123.2,451.3 1124.9,457.9 C1126.6,464.6 1128.1,470.2 1129.9,477.9 C1131.7,485.6 1134.0,495.9 1135.9,503.9 C1137.7,511.9 1139.2,521.8 1140.9,525.8 C1142.5,529.8 1144.0,527.5 1145.9,527.8 C1147.7,528.2 1150.2,528.5 1151.9,527.8 C1153.5,527.2 1154.4,526.2 1155.9,523.8 C1157.3,521.5 1159.2,516.2 1160.8,513.9 C1162.5,511.5 1164.0,510.5 1165.8,509.9 C1167.7,509.2 1169.8,512.5 1171.8,509.9 C1173.8,507.2 1175.8,499.9 1177.8,493.9 C1179.8,487.9 1181.8,479.2 1183.8,473.9 C1185.8,468.6 1187.6,464.8 1189.8,461.9 C1192.0,459.1 1194.5,456.9 1196.8,456.9 C1199.1,456.9 1201.6,459.8 1203.8,461.9 C1205.9,464.1 1207.4,468.3 1209.8,469.9 C1212.1,471.6 1215.1,470.9 1217.8,471.9 C1220.4,472.9 1223.4,474.2 1225.8,475.9 C1228.1,477.6 1229.7,480.2 1231.7,481.9 C1233.7,483.6 1235.7,484.6 1237.7,485.9 C1239.7,487.2 1241.7,488.9 1243.7,489.9 C1245.7,490.9 1248.1,491.9 1249.7,491.9 C1251.4,491.9 1252.2,493.2 1253.7,489.9 C1255.2,486.6 1256.9,475.6 1258.7,471.9 C1260.5,468.3 1262.9,466.9 1264.7,467.9 C1266.5,468.9 1267.9,472.6 1269.7,477.9 C1271.5,483.2 1273.9,492.9 1275.7,499.9 C1277.5,506.9 1279.2,516.2 1280.7,519.8 C1282.2,523.5 1283.3,523.8 1284.7,521.8 C1286.0,519.8 1287.2,511.0 1288.7,507.9 C1290.2,504.7 1292.2,503.4 1293.7,502.9 C1295.2,502.4 1296.0,501.7 1297.7,504.9 C1299.3,508.0 1301.6,518.3 1303.6,521.8 C1305.6,525.3 1307.3,525.3 1309.6,525.8 C1312.0,526.3 1315.0,524.5 1317.6,524.8 C1320.3,525.2 1323.6,527.0 1325.6,527.8 C1327.6,528.7 1328.3,533.5 1329.6,529.8 C1330.9,526.2 1331.9,511.5 1333.6,505.9 C1335.3,500.2 1337.6,496.2 1339.6,495.9 C1341.6,495.5 1343.9,500.5 1345.6,503.9 C1347.3,507.2 1348.4,507.3 1350.0,515.9 C1351.6,524.4 1353.5,543.0 1355.4,555.3 C1357.2,567.6 1359.7,582.3 1361.1,589.9 C1362.6,597.4 1362.7,599.1 1364.0,600.4 C1365.3,601.7 1367.0,598.2 1368.8,597.5 C1370.6,596.9 1372.6,597.1 1374.6,596.6 C1376.5,596.1 1378.9,595.1 1380.3,594.7 C1381.8,594.2 1382.3,592.7 1383.2,593.7 C1384.2,594.7 1385.0,599.5 1386.1,600.4 C1387.2,601.4 1388.7,597.4 1389.9,599.5 C1391.2,601.5 1392.5,609.7 1393.8,612.9 C1395.1,616.1 1396.3,616.1 1397.6,618.7 C1398.9,621.2 1400.2,624.8 1401.5,628.3 C1402.7,631.8 1404.0,636.0 1405.3,639.8 C1406.6,643.6 1408.0,648.3 1409.1,651.3 C1410.3,654.4 1410.7,658.7 1412.0,658.0 C1413.3,657.4 1415.2,649.9 1416.8,647.5 C1418.4,645.1 1420.0,644.4 1421.6,643.6 C1423.2,642.8 1425.3,641.7 1426.4,642.7 C1427.5,643.6 1427.1,648.4 1428.3,649.4 C1429.6,650.4 1432.2,648.8 1434.1,648.4 C1436.0,648.1 1437.9,647.0 1439.9,647.5 C1441.8,648.0 1443.7,649.7 1445.6,651.3 C1447.5,652.9 1449.1,656.1 1451.4,657.1 C1453.6,658.0 1456.5,656.8 1459.1,657.1 C1461.6,657.4 1464.5,658.0 1466.8,659.0 C1469.0,660.0 1470.6,661.9 1472.5,662.8 C1474.4,663.8 1476.0,664.3 1478.3,664.8 C1480.5,665.2 1483.7,665.6 1486.0,665.7 C1488.2,665.9 1489.8,666.0 1491.7,665.7 C1493.6,665.4 1495.6,664.3 1497.5,663.8 C1499.4,663.3 1501.3,663.3 1503.2,662.8 C1505.2,662.4 1506.8,663.2 1509.0,660.9 C1511.2,658.7 1514.4,653.6 1516.7,649.4 C1518.9,645.2 1520.5,640.1 1522.4,636.0 C1524.4,631.8 1526.6,626.7 1528.2,624.4 C1529.8,622.2 1530.4,622.4 1532.0,622.5 C1533.6,622.7 1535.6,624.8 1537.8,625.4 C1540.1,626.0 1542.9,626.0 1545.5,626.4 C1548.1,626.7 1550.6,627.3 1553.2,627.3 C1555.7,627.3 1558.0,626.5 1560.9,626.4 C1563.7,626.2 1567.6,627.0 1570.5,626.4 C1573.3,625.7 1575.6,623.2 1578.1,622.5 C1580.7,621.9 1583.3,623.0 1585.8,622.5 C1588.4,622.0 1591.3,620.9 1593.5,619.6 C1595.7,618.4 1597.3,616.6 1599.3,614.8 C1601.2,613.1 1602.8,610.2 1605.0,609.1 C1607.3,608.0 1610.1,608.1 1612.7,608.1 C1615.3,608.1 1617.8,608.6 1620.4,609.1 C1623.0,609.6 1625.8,609.7 1628.1,611.0 C1630.3,612.3 1632.2,614.8 1633.8,616.8 C1635.4,618.7 1636.7,623.2 1637.7,622.5 C1638.7,621.9 1638.8,620.2 1640.0,612.9 C1641.1,605.6 1643.0,587.1 1644.5,578.7 C1646.1,570.3 1648.0,567.2 1649.4,562.6 C1650.7,558.0 1651.2,555.6 1652.6,551.3 C1653.9,547.0 1655.9,539.9 1657.4,536.8 C1658.9,533.7 1660.1,532.2 1661.5,532.7 C1662.8,533.3 1664.0,536.1 1665.5,540.0 C1667.0,543.9 1668.7,553.3 1670.3,556.1 C1671.9,559.0 1673.5,556.4 1675.2,556.9 C1676.8,557.5 1678.1,557.6 1680.0,559.4 C1681.9,561.1 1684.3,565.0 1686.5,567.4 C1688.6,569.8 1690.8,572.3 1692.9,573.9 C1695.1,575.5 1697.2,576.4 1699.4,577.1 C1701.5,577.8 1703.7,577.0 1705.8,577.9 C1708.0,578.8 1710.1,583.1 1712.3,582.7 C1714.4,582.3 1716.6,577.1 1718.7,575.5 C1720.9,573.9 1723.0,573.7 1725.2,573.1 C1727.3,572.4 1729.5,573.2 1731.6,571.5 C1733.8,569.7 1736.2,564.3 1738.1,562.6 C1739.9,560.8 1741.0,561.8 1742.9,561.0 C1744.8,560.2 1747.2,557.7 1749.4,557.7 C1751.5,557.7 1753.4,560.3 1755.8,561.0 C1758.2,561.6 1761.5,561.5 1763.9,561.8 C1766.3,562.0 1768.4,561.6 1770.3,562.6 C1772.2,563.5 1773.5,565.8 1775.2,567.4 C1776.8,569.0 1778.1,571.3 1780.0,572.3 C1781.9,573.2 1784.6,572.5 1786.5,573.1 C1788.3,573.6 1789.7,581.3 1791.3,575.5 C1792.9,569.7 1794.2,548.3 1796.1,538.4 C1798.0,528.4 1800.4,520.4 1802.6,515.8 C1804.7,511.2 1806.9,511.8 1809.0,511.0 C1811.2,510.2 1813.5,510.4 1815.5,511.0 C1817.5,511.5 1819.5,512.0 1821.1,514.2 C1822.7,516.3 1823.1,522.4 1825.2,523.9 C1827.2,525.3 1830.3,523.1 1833.2,523.1 C1836.2,523.1 1839.9,523.6 1842.9,523.9 C1845.9,524.1 1849.1,523.9 1851.0,524.7 C1852.8,525.5 1853.1,528.4 1854.2,528.7 C1855.3,529.0 1855.8,526.6 1857.4,526.3 C1859.0,526.0 1861.5,526.6 1863.9,527.1 C1866.3,527.6 1869.5,529.2 1871.9,529.5 C1874.4,529.8 1876.2,529.1 1878.4,528.7 C1880.5,528.3 1882.7,527.1 1884.8,527.1 C1887.0,527.1 1889.1,528.4 1891.3,528.7 C1893.4,529.0 1895.6,528.4 1897.7,528.7 C1899.9,529.0 1902.3,529.8 1904.2,530.3 C1906.1,530.9 1907.4,531.1 1909.0,531.9 C1910.6,532.7 1912.4,534.4 1913.9,535.2 C1915.3,536.0 1916.8,538.9 1917.9,536.8 C1919.0,534.6 1919.1,525.2 1920.3,522.3 C1921.5,519.3 1923.5,519.6 1925.2,519.0 C1926.8,518.5 1928.4,519.1 1930.0,519.0 C1931.6,519.0 1933.6,520.9 1935.1,518.7 C1936.5,516.5 1937.7,508.1 1938.8,505.8 C1939.9,503.5 1940.3,504.7 1941.5,504.7 C1942.7,504.7 1944.4,505.3 1945.8,505.8 C1947.2,506.3 1948.7,507.5 1950.1,508.0 C1951.5,508.4 1952.6,508.4 1954.4,508.5 C1956.2,508.6 1959.1,508.4 1960.9,508.5 C1962.7,508.6 1963.9,508.2 1965.2,509.0 C1966.4,509.8 1967.3,512.1 1968.4,513.3 C1969.5,514.6 1970.7,514.9 1971.6,516.6 C1972.5,518.2 1972.7,521.8 1973.8,523.0 C1974.8,524.2 1976.6,523.5 1978.1,523.5 C1979.5,523.6 1980.9,523.3 1982.4,523.5 C1983.8,523.8 1985.2,524.6 1986.7,525.2 C1988.1,525.7 1989.5,526.6 1991.0,526.8 C1992.4,527.0 1993.7,526.3 1995.3,526.2 C1996.9,526.1 1999.0,525.7 2000.6,526.2 C2002.3,526.8 2003.5,528.4 2004.9,529.5 C2006.4,530.5 2008.0,531.8 2009.2,532.7 C2010.5,533.6 2011.6,533.8 2012.5,534.8 C2013.4,535.9 2013.9,537.5 2014.6,539.1 C2015.3,540.8 2016.1,543.3 2016.8,544.5 C2017.5,545.8 2018.0,546.3 2018.9,546.7 C2019.8,547.0 2021.1,547.0 2022.2,546.7 C2023.2,546.3 2024.1,544.8 2025.4,544.5 C2026.6,544.2 2027.9,544.8 2029.7,545.1 C2031.5,545.3 2034.0,545.8 2036.1,546.1 C2038.3,546.5 2040.4,547.1 2042.6,547.2 C2044.7,547.3 2046.9,546.8 2049.0,546.7 C2051.2,546.6 2053.3,546.8 2055.5,546.7 C2057.6,546.6 2059.8,546.4 2061.9,546.1 C2064.1,545.9 2066.2,545.4 2068.4,545.1 C2070.5,544.7 2072.7,544.2 2074.8,544.0 C2077.0,543.7 2079.5,544.1 2081.3,543.4 C2083.1,542.8 2084.2,542.7 2085.6,540.2 C2087.0,537.7 2088.5,530.7 2089.9,528.4 C2091.3,526.1 2092.8,527.0 2094.2,526.2 C2095.6,525.5 2097.1,524.6 2098.5,524.1 C2099.9,523.5 2101.0,523.0 2102.8,523.0 C2104.6,523.0 2107.5,523.5 2109.2,524.1 C2111.0,524.6 2112.3,525.7 2113.5,526.2 C2114.8,526.8 2115.8,527.7 2116.8,527.3 C2117.8,527.0 2118.7,528.4 2119.5,524.1 C2120.2,519.8 2120.4,507.4 2121.1,501.5 C2121.7,495.6 2122.5,491.3 2123.2,488.6 C2123.9,485.9 2124.2,486.1 2125.4,485.4 C2126.5,484.7 2128.7,483.9 2130.0,484.3 C2131.3,484.7 2131.9,485.5 2133.0,487.7 C2134.2,489.8 2135.6,492.2 2136.9,497.3 C2138.2,502.4 2139.4,509.1 2140.7,518.4 C2142.0,527.7 2143.3,540.1 2144.5,552.9 C2145.8,565.7 2147.1,584.0 2148.4,595.2 C2149.7,606.4 2150.6,615.6 2152.2,620.1 C2153.8,624.6 2155.7,621.4 2158.0,622.0 C2160.2,622.7 2163.7,625.2 2165.7,624.0 C2167.6,622.7 2168.1,617.4 2169.5,614.4 C2170.9,611.3 2172.7,606.4 2174.3,605.7 C2175.9,605.1 2177.3,608.4 2179.1,610.5 C2180.9,612.6 2182.9,615.0 2184.9,618.2 C2186.8,621.4 2188.7,626.5 2190.6,629.7 C2192.5,632.9 2194.1,636.7 2196.4,637.4 C2198.6,638.0 2201.5,634.4 2204.0,633.6 C2206.6,632.8 2209.5,631.3 2211.7,632.6 C2214.0,633.9 2215.2,639.8 2217.5,641.2 C2219.7,642.7 2222.9,641.5 2225.2,641.2 C2227.4,640.9 2229.0,640.3 2230.9,639.3 C2232.8,638.3 2235.1,637.7 2236.7,635.5 C2238.3,633.2 2239.2,632.6 2240.5,625.9 C2241.8,619.2 2243.1,606.7 2244.4,595.2 C2245.6,583.6 2246.8,568.6 2248.2,556.8 C2249.6,544.9 2251.7,532.5 2253.0,524.1 C2254.3,515.8 2254.4,510.6 2255.9,506.9 C2257.3,503.2 2259.7,502.7 2261.6,502.1 C2263.6,501.4 2265.6,501.3 2267.4,503.0 C2269.1,504.8 2270.9,510.1 2272.2,512.6 C2273.5,515.2 2273.9,515.8 2275.1,518.4 C2276.2,520.9 2277.3,527.3 2278.9,528.0 C2280.5,528.6 2282.7,524.1 2284.7,522.2 C2286.6,520.3 2288.5,518.4 2290.4,516.5 C2292.3,514.5 2294.1,512.1 2296.2,510.7 C2298.3,509.4 2301.8,508.8 2302.9,508.4" fill="none" stroke="#f23645" stroke-width="1.3" stroke-linejoin="round"/>
<path d="M15.8,238.7 C17.0,236.0 20.6,225.8 22.9,222.6 C25.2,219.4 27.2,214.5 29.4,219.4 C31.5,224.2 33.7,244.6 35.8,251.6 C38.0,258.6 40.1,258.6 42.3,261.3 C44.4,264.0 46.6,264.0 48.7,267.7 C50.9,271.5 53.3,280.1 55.2,283.9 C57.0,287.6 58.4,290.9 60.0,290.3 C61.6,289.8 63.0,282.8 64.8,280.6 C66.7,278.5 69.1,278.2 71.3,277.4 C73.4,276.6 75.6,272.0 77.7,275.8 C79.9,279.6 82.0,291.7 84.2,300.0 C86.3,308.3 88.5,317.7 90.6,325.8 C92.8,333.9 94.9,345.2 97.1,348.4 C99.2,351.6 101.7,348.9 103.5,345.2 C105.4,341.4 106.8,325.8 108.4,325.8 C110.0,325.8 111.3,332.8 113.2,345.2 C115.1,357.5 117.5,381.7 119.7,400.0 C121.8,418.3 124.2,438.7 126.1,454.8 C128.0,471.0 129.4,488.2 131.0,496.8 C132.6,505.4 134.2,505.4 135.8,506.5 C137.4,507.5 139.0,506.5 140.6,503.2 C142.3,500.0 143.6,491.9 145.5,487.1 C147.4,482.3 149.8,478.5 151.9,474.2 C154.1,469.9 156.2,465.6 158.4,461.3 C160.5,457.0 162.7,453.2 164.8,448.4 C167.0,443.5 169.1,437.1 171.3,432.3 C173.4,427.4 175.6,422.0 177.7,419.4 C179.9,416.7 182.3,415.6 184.2,416.1 C186.1,416.7 187.4,420.4 189.0,422.6 C190.6,424.7 192.0,429.0 193.9,429.0 C195.8,429.0 198.2,428.0 200.3,422.6 C202.5,417.2 204.9,404.3 206.8,396.8 C208.7,389.2 210.0,382.8 211.6,377.4 C213.2,372.0 214.6,366.7 216.5,364.5 C218.3,362.4 219.7,363.7 222.9,364.5 C226.1,365.3 231.3,367.2 235.8,369.4 C240.3,371.5 247.3,376.2 250.0,377.4 C252.7,378.6 250.7,373.5 252.3,376.7 C253.9,379.9 257.2,389.8 259.7,396.4 C262.1,402.9 264.6,411.9 267.0,416.0 C269.5,420.1 272.0,419.9 274.4,421.0 C276.9,422.0 279.3,423.0 281.8,422.2 C284.3,421.4 286.7,417.9 289.2,416.0 C291.6,414.2 294.1,412.2 296.6,411.1 C299.0,410.1 301.5,410.3 303.9,409.9 C306.4,409.5 308.8,409.3 311.3,408.7 C313.8,408.1 316.6,403.3 318.7,406.2 C320.7,409.1 322.0,419.3 323.6,425.9 C325.2,432.4 326.9,440.6 328.5,445.6 C330.2,450.5 331.8,453.1 333.4,455.4 C335.1,457.6 336.7,458.9 338.4,459.1 C340.0,459.3 341.6,456.0 343.3,456.6 C344.9,457.2 346.5,460.1 348.2,462.8 C349.8,465.4 351.5,471.0 353.1,472.6 C354.7,474.2 356.4,477.1 358.0,472.6 C359.7,468.1 361.3,455.0 362.9,445.6 C364.6,436.1 366.2,427.5 367.9,416.0 C369.5,404.6 371.3,387.8 372.8,376.7 C374.2,365.6 375.2,354.6 376.5,349.7 C377.7,344.7 378.3,348.0 380.2,347.2 C382.0,346.4 384.7,345.6 387.5,344.7 C390.4,343.9 394.9,343.5 397.4,342.3 C399.8,341.1 400.6,336.1 402.3,337.4 C403.9,338.6 405.6,346.4 407.2,349.7 C408.8,352.9 410.1,352.5 412.1,357.0 C414.2,361.5 417.0,373.0 419.5,376.7 C422.0,380.4 424.4,379.6 426.9,379.2 C429.3,378.8 431.4,375.5 434.2,374.2 C437.1,373.0 440.8,371.8 444.1,371.8 C447.4,371.8 451.0,373.6 453.9,374.2 C456.8,374.9 458.4,375.1 461.3,375.5 C464.2,375.9 468.0,376.9 471.1,376.7 C474.2,376.5 477.6,375.1 480.0,374.2 C482.3,373.4 484.1,370.6 485.2,371.5 C486.4,372.5 486.1,378.4 486.9,380.0 C487.7,381.5 488.9,381.0 490.3,380.8 C491.7,380.7 493.7,380.3 495.4,379.1 C497.0,378.0 498.7,376.3 500.4,374.1 C502.1,371.8 504.1,369.3 505.5,365.6 C506.9,362.0 507.5,358.3 508.9,352.1 C510.3,345.9 512.5,334.9 513.9,328.4 C515.3,322.0 515.9,315.8 517.3,313.2 C518.7,310.7 521.0,314.1 522.4,313.2 C523.8,312.4 524.4,311.0 525.8,308.2 C527.2,305.3 529.2,300.8 530.8,296.3 C532.5,291.8 534.2,284.8 535.9,281.1 C537.6,277.5 539.0,276.3 541.0,274.4 C543.0,272.4 545.8,271.0 547.7,269.3 C549.7,267.6 551.1,265.2 552.8,264.2 C554.5,263.2 556.2,263.7 557.9,263.4 C559.6,263.1 561.5,260.7 563.0,262.5 C564.4,264.4 565.2,268.7 566.3,274.4 C567.5,280.0 568.3,291.8 569.7,296.3 C571.1,300.8 573.1,299.3 574.8,301.4 C576.5,303.5 577.6,307.9 579.9,309.0 C582.1,310.1 585.8,309.4 588.3,308.2 C590.8,306.9 593.4,302.0 595.1,301.4 C596.8,300.8 596.8,304.8 598.4,304.8 C600.1,304.8 603.0,303.1 605.2,301.4 C607.5,299.7 609.7,295.9 612.0,294.6 C614.2,293.4 616.5,293.8 618.7,293.8 C621.0,293.8 623.2,294.5 625.5,294.6 C627.7,294.8 630.3,294.8 632.2,294.6 C634.2,294.5 635.9,293.2 637.3,293.8 C638.7,294.4 639.6,295.9 640.7,298.0 C641.8,300.1 642.7,302.0 644.1,306.5 C645.5,311.0 647.5,320.3 649.1,325.1 C650.8,329.9 652.5,332.1 654.2,335.2 C655.9,338.3 657.6,341.1 659.3,343.7 C661.0,346.2 662.8,348.2 664.4,350.4 C665.9,352.7 667.2,356.2 668.6,357.2 C670.0,358.2 670.7,356.8 672.8,356.3 C674.9,355.9 678.4,355.5 681.3,354.6 C684.1,353.8 687.2,352.0 689.7,351.3 C692.2,350.6 694.2,349.7 696.5,350.4 C698.7,351.1 701.3,353.7 703.2,355.5 C705.2,357.3 706.6,360.3 708.3,361.4 C710.0,362.5 712.0,362.5 713.4,362.2 C714.8,362.0 715.6,360.8 716.7,359.7 C717.9,358.6 719.0,354.8 720.1,355.5 C721.3,356.2 722.1,361.1 723.5,363.9 C724.9,366.8 726.9,369.3 728.6,372.4 C730.3,375.5 732.0,379.7 733.6,382.5 C735.3,385.3 737.2,387.6 738.7,389.3 C740.3,391.0 741.5,393.8 742.9,392.7 C744.4,391.5 745.9,386.5 747.2,382.5 C748.4,378.6 749.4,372.2 750.5,369.0 C751.7,365.8 752.8,364.4 753.9,363.1 C755.1,361.8 755.9,361.1 757.3,361.4 C758.7,361.7 760.7,362.9 762.4,364.8 C764.1,366.6 766.2,370.6 767.4,372.4 C768.7,374.2 769.3,374.9 770.0,375.8 C770.6,376.7 770.3,379.5 771.4,377.8 C772.5,376.1 774.7,370.2 776.6,365.4 C778.5,360.5 781.1,354.0 782.8,348.8 C784.5,343.6 785.6,337.4 787.0,334.3 C788.3,331.2 789.4,328.1 791.1,330.1 C792.8,332.2 795.2,335.3 797.3,346.7 C799.4,358.1 801.8,381.6 803.5,398.6 C805.3,415.5 806.3,435.2 807.7,448.3 C809.1,461.4 810.5,468.0 811.8,477.3 C813.2,486.7 814.8,498.8 816.0,504.3 C817.2,509.8 818.1,510.2 819.1,510.5 C820.1,510.9 821.0,508.8 822.2,506.4 C823.4,503.9 825.0,500.5 826.3,496.0 C827.7,491.5 829.1,483.9 830.5,479.4 C831.9,474.9 833.3,470.1 834.6,469.0 C836.0,468.0 837.4,471.8 838.8,473.2 C840.2,474.6 841.2,477.5 842.9,477.3 C844.7,477.2 847.1,472.7 849.2,472.2 C851.2,471.6 853.3,471.3 855.4,474.2 C857.4,477.2 859.9,485.3 861.6,489.8 C863.3,494.3 863.7,498.9 865.7,501.2 C867.8,503.4 871.3,502.7 874.0,503.3 C876.8,503.8 879.7,503.9 882.3,504.3 C884.9,504.6 887.5,506.0 889.6,505.3 C891.7,504.6 892.5,501.4 894.8,500.1 C897.0,498.9 900.6,498.8 903.1,498.1 C905.5,497.4 906.9,496.7 909.3,496.0 C911.7,495.3 914.8,494.6 917.6,493.9 C920.3,493.2 923.5,493.9 925.9,491.9 C928.3,489.8 930.0,483.4 932.1,481.5 C934.2,479.6 935.9,480.4 938.3,480.4 C940.7,480.4 943.8,481.0 946.6,481.5 C949.4,482.0 952.5,483.7 954.9,483.6 C957.3,483.4 959.0,481.8 961.1,480.4 C963.2,479.1 964.9,475.4 967.3,475.3 C969.8,475.1 972.9,477.9 975.6,479.4 C978.4,481.0 981.2,483.9 983.9,484.6 C986.7,485.3 989.5,484.1 992.2,483.6 C995.0,483.0 997.7,482.5 1000.5,481.5 C1003.3,480.4 1006.7,479.1 1008.8,477.3 C1010.9,475.6 1011.6,471.1 1013.0,471.1 C1014.3,471.1 1015.4,475.6 1017.1,477.3 C1018.8,479.1 1021.6,478.0 1023.3,481.5 C1025.0,484.9 1026.1,491.9 1027.5,498.1 C1028.9,504.3 1030.1,512.9 1031.6,518.8 C1033.2,524.7 1034.7,530.6 1036.8,533.3 C1038.9,536.1 1041.8,535.2 1044.1,535.4 C1046.3,535.6 1048.2,535.0 1050.3,534.4 C1052.3,533.7 1054.9,532.1 1056.5,531.2 C1058.1,530.4 1059.1,529.6 1060.0,529.2 C1060.9,528.8 1060.7,528.7 1062.0,528.8 C1063.3,528.9 1066.0,531.0 1068.0,529.8 C1070.0,528.7 1072.3,525.2 1074.0,521.8 C1075.6,518.5 1076.6,514.5 1078.0,509.9 C1079.3,505.2 1080.3,498.5 1082.0,493.9 C1083.6,489.2 1086.4,485.9 1087.9,481.9 C1089.4,477.9 1089.9,470.2 1090.9,469.9 C1091.9,469.6 1092.4,475.2 1093.9,479.9 C1095.4,484.6 1097.9,492.9 1099.9,497.9 C1101.9,502.9 1103.9,504.5 1105.9,509.9 C1107.9,515.2 1110.2,521.8 1111.9,529.8 C1113.6,537.8 1114.6,550.5 1115.9,557.8 C1117.2,565.1 1118.2,570.3 1119.9,573.8 C1121.6,577.3 1124.2,577.8 1125.9,578.8 C1127.6,579.8 1128.2,581.3 1129.9,579.8 C1131.6,578.3 1133.9,572.4 1135.9,569.8 C1137.9,567.1 1139.5,564.9 1141.9,563.8 C1144.2,562.6 1147.2,562.6 1149.9,562.8 C1152.5,563.0 1155.2,563.8 1157.8,564.8 C1160.5,565.8 1163.8,569.3 1165.8,568.8 C1167.8,568.3 1168.2,564.3 1169.8,561.8 C1171.5,559.3 1173.8,554.8 1175.8,553.8 C1177.8,552.8 1179.5,556.8 1181.8,555.8 C1184.1,554.8 1187.5,550.1 1189.8,547.8 C1192.1,545.5 1193.8,546.1 1195.8,541.8 C1197.8,537.5 1199.8,527.5 1201.8,521.8 C1203.8,516.2 1205.8,509.9 1207.8,507.9 C1209.8,505.9 1211.8,506.9 1213.8,509.9 C1215.8,512.9 1218.1,520.5 1219.8,525.8 C1221.4,531.2 1222.1,538.8 1223.8,541.8 C1225.4,544.8 1227.1,543.6 1229.7,543.8 C1232.4,544.0 1236.4,543.1 1239.7,542.8 C1243.1,542.5 1247.4,541.3 1249.7,541.8 C1252.1,542.3 1252.4,542.5 1253.7,545.8 C1255.0,549.1 1256.4,555.1 1257.7,561.8 C1259.0,568.4 1260.4,577.8 1261.7,585.8 C1263.0,593.7 1264.4,602.4 1265.7,609.7 C1267.0,617.0 1268.2,626.0 1269.7,629.7 C1271.2,633.4 1273.0,632.7 1274.7,631.7 C1276.3,630.7 1277.8,625.9 1279.7,623.7 C1281.5,621.5 1283.7,619.7 1285.7,618.7 C1287.7,617.7 1289.7,620.5 1291.7,617.7 C1293.7,614.9 1295.8,609.7 1297.7,601.7 C1299.5,593.7 1301.0,578.8 1302.6,569.8 C1304.3,560.8 1305.8,551.5 1307.6,547.8 C1309.5,544.1 1311.3,547.5 1313.6,547.8 C1316.0,548.1 1319.3,549.5 1321.6,549.8 C1323.9,550.1 1325.6,543.8 1327.6,549.8 C1329.6,555.8 1331.9,571.8 1333.6,585.8 C1335.3,599.7 1335.9,621.0 1337.6,633.7 C1339.3,646.3 1341.9,655.6 1343.6,661.6 C1345.3,667.7 1346.3,668.4 1347.6,670.0 C1348.9,671.7 1349.9,672.0 1351.5,671.5 C1353.1,670.9 1355.7,668.1 1357.3,666.7 C1358.9,665.2 1359.8,666.4 1361.1,662.8 C1362.4,659.3 1364.0,647.2 1365.0,645.6 C1365.9,644.0 1365.6,651.6 1366.9,653.2 C1368.2,654.8 1370.7,653.6 1372.6,655.2 C1374.6,656.8 1376.5,658.4 1378.4,662.8 C1380.3,667.3 1382.3,674.4 1384.2,682.0 C1386.1,689.7 1388.0,701.7 1389.9,708.9 C1391.9,716.1 1393.8,722.7 1395.7,725.3 C1397.6,727.8 1399.5,725.1 1401.5,724.3 C1403.4,723.5 1405.3,721.6 1407.2,720.5 C1409.1,719.3 1411.1,717.7 1413.0,717.6 C1414.9,717.4 1416.8,720.6 1418.7,719.5 C1420.7,718.4 1422.9,714.5 1424.5,710.9 C1426.1,707.2 1427.1,700.0 1428.3,697.4 C1429.6,694.9 1430.3,696.8 1432.2,695.5 C1434.1,694.2 1437.3,691.2 1439.9,689.7 C1442.4,688.3 1445.0,688.0 1447.5,686.9 C1450.1,685.7 1452.7,683.5 1455.2,683.0 C1457.8,682.5 1460.4,682.8 1462.9,684.0 C1465.5,685.1 1468.0,688.0 1470.6,689.7 C1473.2,691.5 1475.7,693.7 1478.3,694.5 C1480.8,695.3 1483.4,694.7 1486.0,694.5 C1488.5,694.4 1491.1,694.7 1493.6,693.6 C1496.2,692.5 1498.8,689.7 1501.3,687.8 C1503.9,685.9 1506.4,682.7 1509.0,682.0 C1511.6,681.4 1514.1,683.3 1516.7,684.0 C1519.2,684.6 1521.8,687.2 1524.4,685.9 C1526.9,684.6 1529.8,680.1 1532.0,676.3 C1534.3,672.4 1535.9,666.4 1537.8,662.8 C1539.7,659.3 1542.0,656.9 1543.6,655.2 C1545.2,653.4 1545.5,652.6 1547.4,652.3 C1549.3,652.0 1552.5,653.1 1555.1,653.2 C1557.7,653.4 1560.2,653.6 1562.8,653.2 C1565.3,652.9 1567.9,651.8 1570.5,651.3 C1573.0,650.8 1575.6,650.0 1578.1,650.4 C1580.7,650.7 1583.9,652.0 1585.8,653.2 C1587.7,654.5 1587.7,657.1 1589.7,658.0 C1591.6,659.0 1594.8,658.8 1597.3,659.0 C1599.9,659.2 1602.5,658.8 1605.0,659.0 C1607.6,659.2 1610.1,660.0 1612.7,660.0 C1615.3,660.0 1617.8,659.0 1620.4,659.0 C1623.0,659.0 1625.5,660.3 1628.1,660.0 C1630.6,659.6 1633.8,656.8 1635.8,657.1 C1637.7,657.4 1639.1,660.2 1640.0,661.9 C1640.9,663.6 1640.3,664.3 1641.3,667.4 C1642.3,670.5 1644.8,678.0 1646.1,680.3 C1647.5,682.6 1648.0,682.5 1649.4,681.1 C1650.7,679.8 1652.6,676.7 1654.2,672.3 C1655.8,667.8 1657.4,663.4 1659.0,654.5 C1660.6,645.6 1662.3,629.0 1663.9,619.0 C1665.5,609.1 1667.4,599.1 1668.7,594.8 C1670.1,590.5 1670.3,593.0 1671.9,593.2 C1673.5,593.5 1676.2,595.4 1678.4,596.5 C1680.5,597.5 1682.7,597.3 1684.8,599.7 C1687.0,602.1 1689.1,608.8 1691.3,611.0 C1693.4,613.1 1695.6,612.2 1697.7,612.6 C1699.9,613.0 1702.0,613.0 1704.2,613.4 C1706.3,613.8 1708.5,614.3 1710.6,615.0 C1712.8,615.7 1715.5,616.9 1717.1,617.4 C1718.7,618.0 1718.7,619.0 1720.3,618.2 C1721.9,617.4 1724.6,614.1 1726.8,612.6 C1728.9,611.1 1731.1,609.8 1733.2,609.4 C1735.4,609.0 1738.1,611.5 1739.7,610.2 C1741.3,608.8 1741.3,603.3 1742.9,601.3 C1744.5,599.3 1747.2,599.7 1749.4,598.1 C1751.5,596.5 1753.7,593.2 1755.8,591.6 C1758.0,590.0 1760.1,588.1 1762.3,588.4 C1764.4,588.7 1766.6,591.1 1768.7,593.2 C1770.9,595.4 1773.0,599.7 1775.2,601.3 C1777.3,602.9 1779.5,602.5 1781.6,602.9 C1783.8,603.3 1786.2,603.4 1788.1,603.7 C1789.9,604.0 1791.6,602.0 1792.9,604.5 C1794.2,607.1 1795.1,615.9 1796.1,619.0 C1797.2,622.1 1798.0,623.1 1799.4,623.1 C1800.7,623.1 1802.6,621.6 1804.2,619.0 C1805.8,616.5 1807.4,612.0 1809.0,607.7 C1810.6,603.4 1812.3,598.6 1813.9,593.2 C1815.5,587.8 1817.1,582.2 1818.7,575.5 C1820.3,568.8 1822.3,557.7 1823.5,552.9 C1824.8,548.1 1824.4,547.7 1826.0,546.5 C1827.6,545.2 1830.9,545.9 1833.2,545.6 C1835.5,545.4 1837.5,545.1 1839.7,544.8 C1841.8,544.6 1844.0,544.2 1846.1,544.0 C1848.3,543.9 1850.4,542.3 1852.6,544.0 C1854.7,545.8 1856.9,552.5 1859.0,554.5 C1861.2,556.5 1863.3,555.7 1865.5,556.1 C1867.6,556.5 1869.8,556.7 1871.9,556.9 C1874.1,557.2 1876.2,557.6 1878.4,557.7 C1880.5,557.9 1882.7,558.4 1884.8,557.7 C1887.0,557.1 1889.1,554.7 1891.3,553.7 C1893.4,552.8 1895.6,552.1 1897.7,552.1 C1899.9,552.1 1902.0,553.4 1904.2,553.7 C1906.3,554.0 1908.5,553.8 1910.6,553.7 C1912.8,553.6 1915.5,552.1 1917.1,552.9 C1918.7,553.7 1919.0,557.2 1920.3,558.5 C1921.7,559.9 1923.5,561.1 1925.2,561.0 C1926.8,560.8 1928.4,558.9 1930.0,557.7 C1931.6,556.6 1933.5,554.8 1935.1,554.2 C1936.6,553.6 1937.9,554.6 1939.4,554.2 C1940.8,553.8 1942.2,552.9 1943.7,552.0 C1945.1,551.1 1946.9,549.5 1948.0,548.8 C1949.0,548.1 1949.0,548.0 1950.1,547.7 C1951.2,547.5 1953.0,547.4 1954.4,547.2 C1955.8,547.0 1957.3,546.8 1958.7,546.7 C1960.1,546.6 1961.6,546.8 1963.0,546.7 C1964.4,546.5 1965.9,546.1 1967.3,545.6 C1968.7,545.1 1970.4,544.2 1971.6,543.4 C1972.9,542.7 1973.6,541.7 1974.8,541.3 C1976.1,540.8 1977.7,540.7 1979.1,540.8 C1980.6,540.8 1982.2,541.6 1983.4,541.8 C1984.7,542.0 1985.8,541.2 1986.7,541.8 C1987.6,542.5 1987.7,544.4 1988.8,545.6 C1989.9,546.8 1991.7,547.9 1993.1,548.8 C1994.6,549.7 1996.0,550.1 1997.4,551.0 C1998.9,551.9 2000.3,553.1 2001.7,554.2 C2003.2,555.3 2004.6,556.5 2006.0,557.4 C2007.5,558.3 2008.9,559.0 2010.3,559.6 C2011.8,560.1 2013.4,561.2 2014.6,560.6 C2015.9,560.1 2016.8,556.9 2017.8,556.3 C2018.9,555.8 2019.8,556.7 2021.1,557.4 C2022.3,558.1 2023.9,559.8 2025.4,560.6 C2026.8,561.5 2027.9,561.8 2029.7,562.3 C2031.5,562.7 2034.0,563.1 2036.1,563.3 C2038.3,563.6 2040.4,563.8 2042.6,563.9 C2044.7,564.0 2047.1,563.9 2049.0,563.9 C2051.0,563.9 2052.8,564.6 2054.4,563.9 C2056.0,563.2 2057.1,560.2 2058.7,559.6 C2060.3,558.9 2062.1,560.2 2064.1,560.1 C2066.1,560.0 2068.6,559.4 2070.5,559.0 C2072.5,558.7 2074.1,558.2 2075.9,558.0 C2077.7,557.7 2079.7,557.2 2081.3,557.4 C2082.9,557.6 2084.2,558.2 2085.6,559.0 C2087.0,559.8 2088.5,562.2 2089.9,562.3 C2091.3,562.3 2092.4,560.7 2094.2,559.6 C2096.0,558.4 2098.5,556.7 2100.6,555.3 C2102.8,553.8 2105.3,552.4 2107.1,551.0 C2108.9,549.5 2110.1,548.1 2111.4,546.7 C2112.7,545.2 2113.5,542.7 2114.6,542.4 C2115.7,542.0 2116.8,538.8 2117.8,544.5 C2118.9,550.3 2120.0,566.0 2121.1,576.8 C2122.2,587.5 2123.6,601.8 2124.3,609.0 C2125.0,616.2 2124.6,613.4 2125.4,620.0 C2126.2,626.6 2127.9,642.5 2129.2,648.9 C2130.5,655.3 2131.4,653.4 2133.0,658.5 C2134.6,663.6 2137.2,674.8 2138.8,679.6 C2140.4,684.4 2141.3,688.3 2142.6,687.3 C2143.9,686.3 2145.2,680.6 2146.5,673.9 C2147.7,667.1 2149.0,652.3 2150.3,647.0 C2151.6,641.7 2152.2,642.8 2154.1,642.2 C2156.1,641.5 2159.6,642.0 2161.8,643.1 C2164.1,644.3 2166.0,645.4 2167.6,648.9 C2169.2,652.4 2169.8,658.5 2171.4,664.3 C2173.0,670.0 2175.1,677.9 2177.2,683.5 C2179.3,689.1 2181.7,695.9 2183.9,697.9 C2186.1,699.8 2188.2,696.4 2190.6,695.0 C2193.0,693.5 2195.7,691.5 2198.3,689.2 C2200.9,687.0 2203.7,684.4 2206.0,681.5 C2208.2,678.7 2209.8,676.1 2211.7,671.9 C2213.6,667.8 2215.6,659.8 2217.5,656.6 C2219.4,653.4 2221.3,653.2 2223.2,652.7 C2225.2,652.3 2226.8,653.2 2229.0,653.7 C2231.2,654.2 2234.4,654.2 2236.7,655.6 C2238.9,657.1 2240.8,658.0 2242.4,662.3 C2244.0,666.7 2244.7,676.7 2246.3,681.5 C2247.9,686.3 2250.1,692.1 2252.0,691.1 C2254.0,690.2 2255.9,682.8 2257.8,675.8 C2259.7,668.7 2261.6,659.1 2263.6,648.9 C2265.5,638.7 2267.4,628.4 2269.3,614.4 C2271.2,600.3 2273.5,573.1 2275.1,564.5 C2276.7,555.8 2277.3,562.9 2278.9,562.5 C2280.5,562.2 2282.4,561.7 2284.7,562.5 C2286.9,563.3 2290.3,567.3 2292.3,567.3 C2294.4,567.3 2295.4,564.3 2297.1,562.5 C2298.9,560.8 2301.9,557.7 2302.9,556.8" fill="none" stroke="#089981" stroke-width="1.3" stroke-linejoin="round"/>
<path d="M15.8,141.9 C18.1,142.7 23.9,145.1 29.4,146.8 C34.8,148.5 41.2,150.4 48.7,152.3 C56.2,154.1 67.0,155.5 74.5,158.1 C82.0,160.6 86.3,163.7 93.9,167.7 C101.4,171.8 111.1,175.8 119.7,182.3 C128.3,188.7 136.9,199.2 145.5,206.5 C154.1,213.7 163.8,219.9 171.3,225.8 C178.8,231.7 184.2,237.4 190.6,241.9 C197.1,246.5 203.5,248.9 210.0,253.2 C216.5,257.5 222.7,262.4 229.4,267.7 C236.0,273.1 244.9,281.7 250.0,285.5 C255.1,289.3 256.4,288.1 259.7,290.6 C262.9,293.1 266.2,297.6 269.5,300.5 C272.8,303.4 276.1,305.0 279.3,307.9 C282.6,310.7 285.1,314.2 289.2,317.7 C293.3,321.2 299.0,325.3 303.9,328.8 C308.8,332.2 313.8,335.3 318.7,338.6 C323.6,341.9 329.3,345.8 333.4,348.4 C337.5,351.1 340.0,352.9 343.3,354.6 C346.5,356.2 349.0,357.0 353.1,358.3 C357.2,359.5 362.9,360.7 367.9,362.0 C372.8,363.2 377.7,364.4 382.6,365.6 C387.5,366.9 392.4,368.3 397.4,369.3 C402.3,370.4 407.2,370.8 412.1,371.8 C417.0,372.8 422.8,374.9 426.9,375.5 C431.0,376.1 433.4,375.9 436.7,375.5 C440.0,375.1 443.3,373.8 446.5,373.0 C449.8,372.2 452.7,371.4 456.4,370.6 C460.1,369.7 464.7,368.9 468.7,368.1 C472.6,367.3 476.4,366.5 480.0,365.6 C483.6,364.8 486.3,364.1 490.3,363.1 C494.3,362.1 498.7,361.0 503.8,359.7 C508.9,358.4 515.1,357.2 520.7,355.5 C526.3,353.8 532.0,351.4 537.6,349.6 C543.2,347.7 548.9,346.0 554.5,344.5 C560.1,342.9 567.2,341.4 571.4,340.3 C575.6,339.1 577.0,338.7 579.9,337.7 C582.7,336.8 584.1,336.0 588.3,334.4 C592.5,332.7 599.6,329.7 605.2,327.6 C610.8,325.5 616.5,323.5 622.1,321.7 C627.7,319.9 634.5,318.2 639.0,316.6 C643.5,315.1 645.8,313.4 649.1,312.4 C652.5,311.4 655.3,311.1 659.3,310.7 C663.2,310.3 667.7,310.0 672.8,309.9 C677.9,309.7 684.1,310.0 689.7,309.9 C695.3,309.7 701.0,309.3 706.6,309.0 C712.2,308.7 717.9,308.5 723.5,308.2 C729.1,307.8 734.8,307.1 740.4,306.8 C746.0,306.5 752.4,306.3 757.3,306.1 C762.2,305.9 766.1,306.3 770.0,305.6 C773.9,305.0 777.2,302.9 780.7,302.1 C784.3,301.4 787.6,301.1 791.1,301.1 C794.6,301.1 798.0,301.1 801.5,302.1 C804.9,303.2 808.4,305.8 811.8,307.3 C815.3,308.9 818.7,309.6 822.2,311.5 C825.7,313.4 829.1,316.8 832.6,318.7 C836.0,320.6 839.5,321.0 842.9,322.9 C846.4,324.8 849.8,327.5 853.3,330.1 C856.8,332.7 860.2,335.8 863.7,338.4 C867.1,341.0 870.6,343.4 874.0,345.7 C877.5,347.9 880.9,349.8 884.4,351.9 C887.9,354.0 891.3,355.9 894.8,358.1 C898.2,360.4 901.7,363.1 905.1,365.4 C908.6,367.6 912.0,369.5 915.5,371.6 C919.0,373.7 922.4,375.7 925.9,377.8 C929.3,379.9 932.8,382.1 936.2,384.0 C939.7,385.9 943.2,387.5 946.6,389.2 C950.1,390.9 953.5,392.7 957.0,394.4 C960.4,396.1 963.9,398.0 967.3,399.6 C970.8,401.1 974.3,402.4 977.7,403.7 C981.2,405.1 984.6,406.7 988.1,407.9 C991.5,409.1 995.0,410.0 998.4,411.0 C1001.9,412.0 1005.4,412.7 1008.8,414.1 C1012.3,415.5 1015.7,417.2 1019.2,419.3 C1022.6,421.4 1026.1,424.5 1029.5,426.5 C1033.0,428.6 1036.5,429.8 1039.9,431.7 C1043.4,433.6 1046.9,436.4 1050.3,437.9 C1053.6,439.5 1058.1,440.4 1060.0,441.1 C1062.0,441.7 1059.7,441.0 1062.0,442.0 C1064.3,442.9 1070.0,445.3 1074.0,446.9 C1078.0,448.6 1082.0,449.9 1085.9,451.9 C1089.9,453.9 1093.9,456.6 1097.9,458.9 C1101.9,461.3 1105.9,463.9 1109.9,465.9 C1113.9,467.9 1117.9,469.6 1121.9,470.9 C1125.9,472.2 1129.9,472.7 1133.9,473.9 C1137.9,475.1 1141.9,476.7 1145.9,477.9 C1149.9,479.1 1153.9,479.9 1157.8,480.9 C1161.8,481.9 1165.8,483.1 1169.8,483.9 C1173.8,484.7 1177.8,485.4 1181.8,485.9 C1185.8,486.4 1189.8,486.6 1193.8,486.9 C1197.8,487.2 1201.8,487.6 1205.8,487.9 C1209.8,488.2 1213.8,488.4 1217.8,488.9 C1221.8,489.4 1225.8,490.3 1229.7,490.9 C1233.7,491.5 1237.7,491.8 1241.7,492.3 C1245.7,492.8 1250.1,492.8 1253.7,493.9 C1257.4,495.0 1260.4,497.4 1263.7,498.9 C1267.0,500.4 1270.0,501.7 1273.7,502.9 C1277.3,504.0 1281.7,505.0 1285.7,505.9 C1289.7,506.7 1293.7,507.0 1297.7,507.9 C1301.6,508.7 1305.6,509.9 1309.6,510.9 C1313.6,511.9 1317.6,512.9 1321.6,513.9 C1325.6,514.9 1330.3,515.5 1333.6,516.9 C1336.9,518.2 1338.9,520.3 1341.6,521.8 C1344.3,523.3 1348.3,525.2 1350.0,525.8 C1351.6,526.5 1349.3,524.9 1351.5,525.5 C1353.7,526.1 1359.2,527.8 1363.0,529.4 C1366.9,531.0 1370.7,533.2 1374.6,535.1 C1378.4,537.1 1382.3,538.3 1386.1,540.9 C1389.9,543.5 1393.8,547.6 1397.6,550.5 C1401.5,553.4 1405.3,555.8 1409.1,558.2 C1413.0,560.6 1416.8,562.8 1420.7,564.9 C1424.5,567.0 1428.3,568.9 1432.2,570.7 C1436.0,572.4 1439.9,573.9 1443.7,575.5 C1447.5,577.1 1451.4,578.7 1455.2,580.3 C1459.1,581.9 1462.9,583.3 1466.8,585.1 C1470.6,586.8 1474.4,589.1 1478.3,590.8 C1482.1,592.6 1486.0,593.7 1489.8,595.6 C1493.6,597.5 1497.5,600.1 1501.3,602.3 C1505.2,604.6 1509.0,607.1 1512.8,609.1 C1516.7,611.0 1520.5,612.3 1524.4,613.9 C1528.2,615.5 1532.0,617.1 1535.9,618.7 C1539.7,620.3 1543.6,622.0 1547.4,623.5 C1551.3,624.9 1555.1,626.0 1558.9,627.3 C1562.8,628.6 1566.6,629.9 1570.5,631.2 C1574.3,632.4 1578.1,633.7 1582.0,635.0 C1585.8,636.3 1589.7,637.6 1593.5,638.8 C1597.3,640.1 1601.2,641.4 1605.0,642.7 C1608.9,644.0 1612.7,645.4 1616.6,646.5 C1620.4,647.6 1624.2,648.4 1628.1,649.4 C1632.0,650.4 1636.4,652.1 1640.0,652.3 C1643.5,652.5 1646.2,651.1 1649.4,650.5 C1652.5,649.9 1655.8,649.4 1659.0,648.9 C1662.3,648.3 1665.5,647.8 1668.7,647.3 C1671.9,646.7 1675.2,646.2 1678.4,645.6 C1681.6,645.1 1684.8,644.6 1688.1,644.0 C1691.3,643.5 1694.5,643.2 1697.7,642.4 C1701.0,641.6 1704.2,640.3 1707.4,639.2 C1710.6,638.1 1713.9,637.0 1717.1,636.0 C1720.3,634.9 1723.5,633.8 1726.8,632.7 C1730.0,631.7 1733.2,630.6 1736.5,629.5 C1739.7,628.4 1742.9,627.2 1746.1,626.3 C1749.4,625.3 1752.6,624.7 1755.8,623.9 C1759.0,623.1 1762.3,622.3 1765.5,621.5 C1768.7,620.6 1771.9,619.8 1775.2,619.0 C1778.4,618.2 1781.6,617.6 1784.8,616.6 C1788.1,615.7 1791.3,614.6 1794.5,613.4 C1797.7,612.2 1801.0,610.7 1804.2,609.4 C1807.4,608.0 1810.6,606.7 1813.9,605.3 C1817.1,604.0 1820.3,602.5 1823.5,601.3 C1826.8,600.1 1830.0,599.1 1833.2,598.1 C1836.5,597.0 1839.7,595.9 1842.9,594.8 C1846.1,593.8 1849.4,592.7 1852.6,591.6 C1855.8,590.5 1859.0,589.5 1862.3,588.4 C1865.5,587.3 1868.7,586.2 1871.9,585.2 C1875.2,584.1 1878.4,583.0 1881.6,581.9 C1884.8,580.9 1888.1,579.8 1891.3,578.7 C1894.5,577.6 1897.7,576.4 1901.0,575.5 C1904.2,574.5 1907.4,573.9 1910.6,573.1 C1913.9,572.3 1917.1,571.5 1920.3,570.6 C1923.5,569.8 1927.9,568.5 1930.0,568.2 C1932.1,567.9 1931.3,569.1 1932.9,568.7 C1934.5,568.3 1937.2,566.9 1939.4,566.0 C1941.5,565.1 1943.7,564.1 1945.8,563.3 C1948.0,562.5 1950.1,561.8 1952.3,561.2 C1954.4,560.6 1956.6,560.0 1958.7,559.6 C1960.9,559.1 1963.0,558.9 1965.2,558.5 C1967.3,558.1 1969.5,557.8 1971.6,557.4 C1973.8,557.1 1975.9,556.7 1978.1,556.3 C1980.2,556.0 1982.4,555.6 1984.5,555.3 C1986.7,554.9 1988.8,554.5 1991.0,554.2 C1993.1,553.9 1995.3,553.8 1997.4,553.7 C1999.6,553.5 2001.7,553.4 2003.9,553.1 C2006.0,552.8 2008.2,552.4 2010.3,552.0 C2012.5,551.7 2014.6,551.3 2016.8,551.0 C2018.9,550.6 2021.1,550.3 2023.2,549.9 C2025.4,549.5 2027.5,549.1 2029.7,548.8 C2031.8,548.5 2034.0,548.5 2036.1,548.3 C2038.3,548.1 2040.4,547.9 2042.6,547.7 C2044.7,547.6 2046.9,547.3 2049.0,547.2 C2051.2,547.1 2053.3,547.3 2055.5,547.2 C2057.6,547.1 2059.8,546.8 2061.9,546.7 C2064.1,546.5 2066.2,546.3 2068.4,546.1 C2070.5,545.9 2072.7,545.9 2074.8,545.6 C2077.0,545.3 2079.1,544.9 2081.3,544.5 C2083.4,544.2 2085.6,543.8 2087.7,543.4 C2089.9,543.1 2092.0,542.7 2094.2,542.4 C2096.3,542.0 2098.5,541.6 2100.6,541.3 C2102.8,540.9 2104.9,540.5 2107.1,540.2 C2109.2,539.9 2111.4,539.6 2113.5,539.7 C2115.7,539.8 2118.2,540.3 2120.0,540.8 C2121.8,541.2 2122.6,541.7 2124.3,542.4 C2126.0,543.0 2127.6,543.9 2130.0,544.5 C2132.4,545.2 2135.7,545.5 2138.8,546.2 C2141.9,547.0 2144.9,548.1 2148.4,549.1 C2151.9,550.1 2156.7,551.0 2159.9,552.0 C2163.1,552.9 2164.4,553.6 2167.6,554.9 C2170.8,556.1 2175.3,558.1 2179.1,559.7 C2182.9,561.3 2186.8,563.0 2190.6,564.5 C2194.5,565.9 2198.3,566.9 2202.1,568.3 C2206.0,569.7 2209.8,571.7 2213.6,573.1 C2217.5,574.5 2221.6,575.8 2225.2,576.9 C2228.7,578.0 2231.6,579.0 2234.8,579.8 C2238.0,580.6 2240.8,581.1 2244.4,581.7 C2247.9,582.4 2252.0,583.2 2255.9,583.6 C2259.7,584.1 2262.9,584.4 2267.4,584.6 C2271.9,584.8 2278.3,584.6 2282.7,584.6 C2287.2,584.6 2290.9,584.8 2294.3,584.6 C2297.6,584.4 2301.5,583.8 2302.9,583.6" fill="none" stroke="#f23645" stroke-width="4" stroke-linejoin="round" stroke-linecap="round"/>
<path d="M15.8,175.8 C17.0,179.3 20.6,191.7 22.9,196.8 C25.2,201.9 27.2,203.2 29.4,206.5 C31.5,209.7 33.7,212.9 35.8,216.1 C38.0,219.4 40.1,222.6 42.3,225.8 C44.4,229.0 46.6,232.3 48.7,235.5 C50.9,238.7 53.0,242.5 55.2,245.2 C57.3,247.8 59.5,250.3 61.6,251.6 C63.8,253.0 65.9,252.7 68.1,253.2 C70.2,253.8 72.4,253.5 74.5,254.8 C76.7,256.2 78.3,258.1 81.0,261.3 C83.7,264.5 87.4,269.4 90.6,274.2 C93.9,279.0 97.6,286.0 100.3,290.3 C103.0,294.6 104.6,295.2 106.8,300.0 C108.9,304.8 111.1,312.4 113.2,319.4 C115.4,326.3 117.5,334.4 119.7,341.9 C121.8,349.5 124.0,357.5 126.1,364.5 C128.3,371.5 130.4,376.3 132.6,383.9 C134.7,391.4 137.2,403.2 139.0,409.7 C140.9,416.1 142.3,419.9 143.9,422.6 C145.5,425.3 146.8,425.8 148.7,425.8 C150.6,425.8 153.0,424.7 155.2,422.6 C157.3,420.4 159.5,416.1 161.6,412.9 C163.8,409.7 165.9,405.9 168.1,403.2 C170.2,400.5 171.8,398.4 174.5,396.8 C177.2,395.2 181.0,396.8 184.2,393.5 C187.4,390.3 190.6,382.8 193.9,377.4 C197.1,372.0 200.3,366.1 203.5,361.3 C206.8,356.5 210.0,351.6 213.2,348.4 C216.5,345.2 219.7,342.5 222.9,341.9 C226.1,341.4 229.4,343.0 232.6,345.2 C235.8,347.3 239.4,352.7 242.3,354.8 C245.2,357.0 247.1,356.1 250.0,358.1 C252.9,360.1 256.4,363.4 259.7,366.9 C262.9,370.4 266.2,375.3 269.5,379.2 C272.8,383.1 276.1,387.4 279.3,390.2 C282.6,393.1 285.9,395.4 289.2,396.4 C292.5,397.4 295.7,397.2 299.0,396.4 C302.3,395.6 306.0,393.1 308.8,391.5 C311.7,389.8 313.8,386.5 316.2,386.5 C318.7,386.5 321.1,389.4 323.6,391.5 C326.1,393.5 328.5,396.0 331.0,398.8 C333.4,401.7 336.3,406.6 338.4,408.7 C340.4,410.7 341.6,411.5 343.3,411.1 C344.9,410.7 346.5,408.7 348.2,406.2 C349.8,403.8 351.5,400.1 353.1,396.4 C354.7,392.7 356.4,389.0 358.0,384.1 C359.7,379.2 361.3,372.2 362.9,366.9 C364.6,361.5 366.2,356.6 367.9,352.1 C369.5,347.6 371.1,342.7 372.8,339.8 C374.4,337.0 375.2,335.9 377.7,334.9 C380.2,333.9 383.8,333.5 387.5,333.7 C391.2,333.9 396.5,334.7 399.8,336.1 C403.1,337.6 404.3,339.6 407.2,342.3 C410.1,344.9 413.8,349.2 417.0,352.1 C420.3,355.0 423.6,357.9 426.9,359.5 C430.1,361.1 433.4,361.5 436.7,362.0 C440.0,362.4 443.3,362.2 446.5,362.0 C449.8,361.7 453.1,361.1 456.4,360.7 C459.7,360.3 462.3,360.3 466.2,359.5 C470.1,358.7 477.1,357.9 480.0,355.8 C482.9,353.7 481.8,350.2 483.5,347.0 C485.2,343.9 488.0,340.0 490.3,336.9 C492.5,333.8 494.8,331.8 497.0,328.4 C499.3,325.1 501.5,321.4 503.8,316.6 C506.1,311.8 508.3,304.8 510.6,299.7 C512.8,294.6 515.1,289.9 517.3,286.2 C519.6,282.5 521.8,281.4 524.1,277.7 C526.3,274.1 528.6,267.9 530.8,264.2 C533.1,260.6 535.3,257.5 537.6,255.8 C539.9,254.1 542.1,254.6 544.4,254.1 C546.6,253.5 548.9,252.4 551.1,252.4 C553.4,252.4 555.6,253.0 557.9,254.1 C560.1,255.2 562.4,256.9 564.6,259.2 C566.9,261.4 569.1,265.1 571.4,267.6 C573.7,270.1 575.9,272.1 578.2,274.4 C580.4,276.6 582.7,279.4 584.9,281.1 C587.2,282.8 590.0,283.7 591.7,284.5 C593.4,285.3 593.9,286.5 595.1,286.2 C596.2,285.9 596.8,284.5 598.4,282.8 C600.1,281.1 603.2,277.9 605.2,276.1 C607.2,274.2 608.3,272.5 610.3,271.8 C612.2,271.1 614.5,271.8 617.0,271.8 C619.6,271.8 622.9,271.7 625.5,271.8 C628.0,272.0 630.0,271.1 632.2,272.7 C634.5,274.2 636.8,278.3 639.0,281.1 C641.3,283.9 643.5,286.8 645.8,289.6 C648.0,292.4 650.3,295.5 652.5,298.0 C654.8,300.6 657.0,301.4 659.3,304.8 C661.5,308.2 663.8,314.1 666.0,318.3 C668.3,322.5 670.6,327.0 672.8,330.1 C675.1,333.2 677.3,335.2 679.6,336.9 C681.8,338.6 684.1,339.7 686.3,340.3 C688.6,340.8 691.1,340.6 693.1,340.3 C695.1,340.0 696.2,340.6 698.2,338.6 C700.1,336.6 702.7,331.8 704.9,328.4 C707.2,325.1 709.7,321.4 711.7,318.3 C713.6,315.2 715.3,311.5 716.7,309.9 C718.2,308.2 718.4,307.6 720.1,308.2 C721.8,308.7 724.6,311.5 726.9,313.2 C729.1,314.9 731.4,315.8 733.6,318.3 C735.9,320.8 738.2,324.5 740.4,328.4 C742.7,332.4 745.3,338.2 747.2,342.0 C749.0,345.8 749.7,350.1 751.4,351.3 C753.1,352.4 755.2,349.9 757.3,348.7 C759.4,347.6 762.0,347.9 764.1,344.5 C766.2,341.1 767.9,331.9 770.0,328.4 C772.1,325.0 774.4,326.4 776.6,323.9 C778.7,321.4 780.7,316.5 782.8,313.5 C784.9,310.6 787.0,307.0 789.0,306.3 C791.1,305.6 793.2,306.5 795.2,309.4 C797.3,312.3 799.4,316.7 801.5,323.9 C803.5,331.2 805.6,342.6 807.7,352.9 C809.8,363.3 811.8,376.4 813.9,386.1 C816.0,395.8 818.1,403.4 820.1,411.0 C822.2,418.6 824.6,426.2 826.3,431.7 C828.1,437.3 828.8,441.1 830.5,444.2 C832.2,447.3 834.6,449.0 836.7,450.4 C838.8,451.8 840.5,452.1 842.9,452.5 C845.4,452.8 848.5,451.1 851.2,452.5 C854.0,453.8 856.8,458.0 859.5,460.8 C862.3,463.5 865.1,468.2 867.8,469.0 C870.6,469.9 873.3,466.6 876.1,465.9 C878.9,465.2 881.6,464.9 884.4,464.9 C887.2,464.9 889.9,465.8 892.7,465.9 C895.5,466.1 898.2,465.4 901.0,465.9 C903.8,466.5 906.5,468.0 909.3,469.0 C912.0,470.1 914.8,471.6 917.6,472.2 C920.3,472.7 923.1,472.5 925.9,472.2 C928.6,471.8 931.4,470.6 934.2,470.1 C936.9,469.6 939.7,469.2 942.5,469.0 C945.2,468.9 948.0,469.7 950.8,469.0 C953.5,468.4 956.3,466.3 959.0,464.9 C961.8,463.5 964.6,461.4 967.3,460.8 C970.1,460.1 972.9,460.2 975.6,460.8 C978.4,461.3 981.2,463.2 983.9,463.9 C986.7,464.6 989.5,465.4 992.2,464.9 C995.0,464.4 997.7,462.7 1000.5,460.8 C1003.3,458.9 1006.4,454.9 1008.8,453.5 C1011.2,452.1 1012.6,451.2 1015.0,452.5 C1017.4,453.7 1020.9,457.3 1023.3,460.8 C1025.7,464.2 1027.1,468.7 1029.5,473.2 C1032.0,477.7 1035.1,483.2 1037.8,487.7 C1040.6,492.2 1043.7,497.2 1046.1,500.1 C1048.5,503.1 1050.0,504.3 1052.3,505.3 C1054.7,506.4 1057.7,507.9 1060.0,506.4 C1062.3,504.8 1063.7,499.6 1066.0,495.9 C1068.3,492.1 1071.3,487.9 1074.0,483.9 C1076.6,479.9 1079.3,475.7 1082.0,471.9 C1084.6,468.1 1087.6,463.3 1089.9,460.9 C1092.3,458.6 1093.6,456.8 1095.9,457.9 C1098.3,459.1 1101.3,463.9 1103.9,467.9 C1106.6,471.9 1109.3,476.6 1111.9,481.9 C1114.6,487.2 1117.6,493.9 1119.9,499.9 C1122.2,505.9 1123.9,512.9 1125.9,517.8 C1127.9,522.8 1129.9,525.8 1131.9,529.8 C1133.9,533.8 1135.5,539.2 1137.9,541.8 C1140.2,544.5 1143.2,545.1 1145.9,545.8 C1148.5,546.5 1151.2,546.3 1153.9,545.8 C1156.5,545.3 1159.2,544.0 1161.8,542.8 C1164.5,541.6 1167.2,541.3 1169.8,538.8 C1172.5,536.3 1175.2,532.3 1177.8,527.8 C1180.5,523.3 1183.1,516.2 1185.8,511.9 C1188.5,507.5 1191.1,504.9 1193.8,501.9 C1196.5,498.9 1199.1,496.0 1201.8,493.9 C1204.5,491.7 1207.1,488.9 1209.8,488.9 C1212.4,488.9 1215.4,491.1 1217.8,493.9 C1220.1,496.7 1221.8,502.9 1223.8,505.9 C1225.8,508.9 1227.8,510.5 1229.7,511.9 C1231.7,513.2 1233.4,513.0 1235.7,513.9 C1238.1,514.7 1241.1,516.2 1243.7,516.9 C1246.4,517.5 1249.4,516.4 1251.7,517.8 C1254.0,519.3 1255.7,522.2 1257.7,525.8 C1259.7,529.5 1261.7,534.8 1263.7,539.8 C1265.7,544.8 1267.4,551.1 1269.7,555.8 C1272.0,560.5 1275.0,565.4 1277.7,567.8 C1280.3,570.1 1283.3,570.4 1285.7,569.8 C1288.0,569.1 1289.3,566.8 1291.7,563.8 C1294.0,560.8 1297.0,556.1 1299.7,551.8 C1302.3,547.5 1305.0,540.5 1307.6,537.8 C1310.3,535.2 1313.0,535.8 1315.6,535.8 C1318.3,535.8 1321.3,536.8 1323.6,537.8 C1325.9,538.8 1327.6,538.5 1329.6,541.8 C1331.6,545.1 1333.6,552.5 1335.6,557.8 C1337.6,563.1 1339.2,567.1 1341.6,573.8 C1344.0,580.4 1348.3,593.8 1350.0,597.7 C1351.6,601.7 1350.3,595.3 1351.5,597.5 C1352.7,599.8 1355.4,606.8 1357.3,611.0 C1359.2,615.2 1361.1,620.1 1363.0,622.5 C1365.0,624.9 1366.6,624.8 1368.8,625.4 C1371.0,626.0 1374.2,625.2 1376.5,626.4 C1378.7,627.5 1380.3,628.9 1382.3,632.1 C1384.2,635.3 1386.1,640.4 1388.0,645.6 C1389.9,650.7 1391.9,658.0 1393.8,662.8 C1395.7,667.6 1397.6,671.2 1399.5,674.4 C1401.5,677.6 1403.4,680.1 1405.3,682.0 C1407.2,684.0 1409.1,685.6 1411.1,685.9 C1413.0,686.2 1414.6,684.9 1416.8,684.0 C1419.1,683.0 1421.9,682.0 1424.5,680.1 C1427.1,678.2 1429.6,674.4 1432.2,672.4 C1434.7,670.5 1437.3,668.9 1439.9,668.6 C1442.4,668.3 1445.0,669.9 1447.5,670.5 C1450.1,671.2 1452.3,671.5 1455.2,672.4 C1458.1,673.4 1461.6,675.2 1464.8,676.3 C1468.0,677.4 1471.2,678.5 1474.4,679.2 C1477.6,679.8 1481.2,680.0 1484.0,680.1 C1486.9,680.3 1489.2,680.8 1491.7,680.1 C1494.3,679.5 1496.8,677.9 1499.4,676.3 C1502.0,674.7 1504.5,672.1 1507.1,670.5 C1509.6,668.9 1512.2,668.1 1514.8,666.7 C1517.3,665.2 1519.9,663.8 1522.4,661.9 C1525.0,660.0 1527.9,657.6 1530.1,655.2 C1532.4,652.8 1533.6,649.7 1535.9,647.5 C1538.1,645.2 1541.0,643.0 1543.6,641.7 C1546.1,640.4 1548.7,640.3 1551.3,639.8 C1553.8,639.3 1556.4,639.0 1558.9,638.8 C1561.5,638.7 1564.1,639.2 1566.6,638.8 C1569.2,638.5 1571.7,637.7 1574.3,636.9 C1576.9,636.1 1579.4,633.9 1582.0,634.0 C1584.5,634.2 1587.1,637.2 1589.7,637.9 C1592.2,638.5 1594.8,638.4 1597.3,637.9 C1599.9,637.4 1602.5,635.6 1605.0,635.0 C1607.6,634.4 1610.1,634.4 1612.7,634.0 C1615.3,633.7 1617.8,632.8 1620.4,633.1 C1623.0,633.4 1625.8,635.2 1628.1,636.0 C1630.3,636.8 1631.9,637.6 1633.8,637.9 C1635.8,638.2 1638.5,638.9 1640.0,637.9 C1641.5,636.9 1641.3,635.1 1642.9,631.9 C1644.5,628.8 1647.2,623.9 1649.4,619.0 C1651.5,614.2 1653.7,608.3 1655.8,602.9 C1658.0,597.5 1660.4,590.8 1662.3,586.8 C1664.1,582.7 1665.5,580.6 1667.1,578.7 C1668.7,576.8 1670.1,575.5 1671.9,575.5 C1673.8,575.5 1676.2,577.1 1678.4,578.7 C1680.5,580.3 1682.7,583.0 1684.8,585.2 C1687.0,587.3 1689.1,589.7 1691.3,591.6 C1693.4,593.5 1695.6,595.4 1697.7,596.5 C1699.9,597.5 1702.0,597.5 1704.2,598.1 C1706.3,598.6 1708.5,599.7 1710.6,599.7 C1712.8,599.7 1714.9,598.9 1717.1,598.1 C1719.2,597.3 1721.4,595.9 1723.5,594.8 C1725.7,593.8 1727.8,593.0 1730.0,591.6 C1732.2,590.3 1734.3,588.4 1736.5,586.8 C1738.6,585.2 1740.8,583.3 1742.9,581.9 C1745.1,580.6 1747.2,579.8 1749.4,578.7 C1751.5,577.6 1753.4,576.2 1755.8,575.5 C1758.2,574.8 1761.5,574.1 1763.9,574.7 C1766.3,575.2 1768.2,577.0 1770.3,578.7 C1772.5,580.5 1774.6,583.3 1776.8,585.2 C1778.9,587.0 1780.8,589.3 1783.2,590.0 C1785.6,590.7 1789.1,590.3 1791.3,589.2 C1793.4,588.1 1794.5,586.1 1796.1,583.5 C1797.7,581.0 1799.1,577.1 1801.0,573.9 C1802.8,570.6 1805.0,568.0 1807.4,564.2 C1809.8,560.4 1813.1,555.3 1815.5,551.3 C1817.9,547.3 1820.1,542.8 1821.9,540.0 C1823.8,537.2 1824.9,535.4 1826.8,534.4 C1828.7,533.3 1831.1,533.7 1833.2,533.5 C1835.4,533.4 1837.5,533.5 1839.7,533.5 C1841.8,533.5 1844.2,533.4 1846.1,533.5 C1848.0,533.7 1849.4,533.5 1851.0,534.4 C1852.6,535.2 1853.9,537.2 1855.8,538.4 C1857.7,539.6 1860.1,540.8 1862.3,541.6 C1864.4,542.4 1866.6,543.1 1868.7,543.2 C1870.9,543.4 1873.0,542.7 1875.2,542.4 C1877.3,542.2 1879.5,541.9 1881.6,541.6 C1883.8,541.3 1885.9,541.1 1888.1,540.8 C1890.2,540.5 1892.4,540.0 1894.5,540.0 C1896.7,540.0 1898.8,540.5 1901.0,540.8 C1903.1,541.1 1905.3,541.2 1907.4,541.6 C1909.6,542.0 1912.0,542.7 1913.9,543.2 C1915.8,543.8 1917.1,545.4 1918.7,544.8 C1920.3,544.3 1921.7,541.3 1923.5,540.0 C1925.4,538.7 1928.4,537.1 1930.0,536.8 C1931.6,536.5 1931.7,538.6 1932.9,538.1 C1934.1,537.6 1935.8,535.2 1937.2,533.8 C1938.6,532.3 1940.1,530.5 1941.5,529.5 C1942.9,528.4 1944.4,527.8 1945.8,527.3 C1947.2,526.8 1948.7,526.5 1950.1,526.2 C1951.5,526.0 1953.0,525.7 1954.4,525.7 C1955.8,525.7 1957.3,526.1 1958.7,526.2 C1960.1,526.3 1961.6,525.9 1963.0,526.2 C1964.4,526.6 1965.9,527.8 1967.3,528.4 C1968.7,529.0 1970.2,529.6 1971.6,530.0 C1973.0,530.4 1974.5,530.9 1975.9,531.1 C1977.3,531.3 1978.8,531.0 1980.2,531.1 C1981.6,531.2 1983.1,531.1 1984.5,531.6 C1985.9,532.2 1987.4,533.4 1988.8,534.3 C1990.3,535.2 1991.7,536.3 1993.1,537.0 C1994.6,537.7 1996.0,538.0 1997.4,538.6 C1998.9,539.2 2000.3,539.9 2001.7,540.8 C2003.2,541.6 2004.6,542.6 2006.0,543.4 C2007.5,544.2 2008.9,544.9 2010.3,545.6 C2011.8,546.3 2013.2,547.1 2014.6,547.7 C2016.1,548.4 2017.5,548.7 2018.9,549.4 C2020.4,550.0 2021.8,550.9 2023.2,551.5 C2024.7,552.1 2026.1,552.7 2027.5,553.1 C2029.0,553.6 2030.4,553.9 2031.8,554.2 C2033.3,554.5 2034.7,554.6 2036.1,554.7 C2037.6,554.9 2039.0,555.1 2040.4,555.3 C2041.9,555.4 2043.3,555.8 2044.7,555.8 C2046.2,555.8 2047.6,555.4 2049.0,555.3 C2050.5,555.2 2051.9,555.2 2053.3,555.3 C2054.8,555.4 2056.2,555.8 2057.6,555.8 C2059.1,555.8 2060.5,555.7 2061.9,555.3 C2063.4,554.8 2064.8,553.7 2066.2,553.1 C2067.7,552.6 2069.1,552.3 2070.5,552.0 C2072.0,551.8 2073.4,551.7 2074.8,551.5 C2076.3,551.3 2077.7,551.0 2079.1,551.0 C2080.6,551.0 2082.0,552.0 2083.4,551.5 C2084.9,551.0 2086.3,549.1 2087.7,547.7 C2089.2,546.4 2090.6,544.7 2092.0,543.4 C2093.5,542.2 2094.9,541.3 2096.3,540.2 C2097.8,539.1 2099.2,537.9 2100.6,537.0 C2102.1,536.1 2103.5,535.4 2104.9,534.8 C2106.4,534.3 2107.8,534.1 2109.2,533.8 C2110.7,533.4 2112.3,532.8 2113.5,532.7 C2114.8,532.6 2115.7,532.0 2116.8,533.2 C2117.8,534.5 2118.7,536.9 2120.0,540.2 C2121.3,543.5 2122.6,548.5 2124.3,553.1 C2126.0,557.8 2128.9,565.3 2130.0,568.2 C2131.1,571.0 2130.0,567.0 2131.1,570.2 C2132.3,573.4 2135.0,582.0 2136.9,587.5 C2138.8,592.9 2140.7,597.4 2142.6,602.8 C2144.5,608.3 2146.8,615.6 2148.4,620.1 C2150.0,624.6 2150.3,627.6 2152.2,629.7 C2154.1,631.8 2157.3,632.0 2159.9,632.6 C2162.5,633.2 2165.0,631.5 2167.6,633.6 C2170.1,635.6 2172.7,641.5 2175.3,645.1 C2177.8,648.6 2180.4,652.1 2182.9,654.7 C2185.5,657.2 2188.1,658.8 2190.6,660.4 C2193.2,662.0 2195.7,664.6 2198.3,664.3 C2200.9,663.9 2203.4,660.4 2206.0,658.5 C2208.5,656.6 2211.1,654.3 2213.6,652.7 C2216.2,651.1 2218.8,649.9 2221.3,648.9 C2223.9,647.9 2226.4,647.6 2229.0,647.0 C2231.6,646.3 2234.1,646.3 2236.7,645.1 C2239.2,643.8 2242.4,641.9 2244.4,639.3 C2246.3,636.7 2246.6,634.5 2248.2,629.7 C2249.8,624.9 2252.0,617.2 2254.0,610.5 C2255.9,603.8 2257.8,595.2 2259.7,589.4 C2261.6,583.6 2263.6,580.1 2265.5,576.0 C2267.4,571.8 2269.6,568.3 2271.2,564.5 C2272.8,560.6 2273.8,555.5 2275.1,552.9 C2276.3,550.4 2277.0,550.2 2278.9,549.1 C2280.8,548.0 2284.0,547.5 2286.6,546.2 C2289.1,544.9 2293.0,542.2 2294.3,541.4" fill="none" stroke="#00bcd4" stroke-width="4" stroke-linejoin="round" stroke-linecap="round"/>
<path d="M15.8,206.5 L18.1,219.4 L19.7,203.2 L22.9,209.7 L26.1,200.0 L28.7,209.7 L31.0,196.8 L33.2,235.5 L34.5,266.1 L37.4,248.4 L42.3,229.0 L44.8,245.2 L47.1,251.6 L50.3,261.3 L53.5,258.1 L56.8,267.7 L59.0,258.1 L61.0,275.8 L63.2,251.6 L66.5,241.9 L69.7,238.7 L72.9,240.3 L76.1,245.2 L77.7,274.2 L79.4,311.3 L82.6,300.0 L84.8,316.1 L89.0,312.9 L93.9,314.5 L97.1,306.5 L99.7,296.8 L102.9,306.5 L106.8,303.2 L109.0,279.0 L110.6,293.5 L113.2,319.4 L116.5,354.8 L119.7,383.9 L122.9,409.7 L125.5,448.4 L127.7,471.0 L130.0,438.7 L132.6,422.6 L135.8,412.9 L138.4,438.7 L140.6,464.5 L142.9,422.6 L145.5,400.0 L148.7,391.9 L151.9,390.3 L156.8,388.7 L160.0,393.5 L163.2,403.2 L166.5,401.6 L169.7,409.7 L171.3,416.1 L174.5,390.3 L177.7,383.9 L181.0,380.6 L185.8,374.2 L189.0,345.2 L192.3,332.3 L195.5,332.3 L198.7,327.4 L201.9,330.6 L205.2,338.7 L208.4,345.2 L211.6,341.9 L214.8,354.8 L218.1,364.5 L219.7,351.6 L222.9,351.6 L226.1,338.7 L228.7,332.3 L231.0,351.6 L232.6,361.3 L235.8,361.3 L239.0,364.5 L242.3,362.9 L247.1,358.1 L250.0,354.8 L251.1,359.5 L253.5,374.2 L255.2,366.9 L257.2,359.5 L259.2,376.7 L260.9,389.0 L263.4,396.4 L264.6,406.2 L266.6,417.3 L268.3,396.4 L270.7,396.4 L273.2,389.0 L275.7,396.4 L278.1,402.5 L280.6,393.9 L283.0,398.8 L285.5,396.4 L287.9,402.5 L290.4,406.2 L292.9,393.9 L295.3,396.4 L297.8,402.5 L299.5,384.1 L301.0,376.7 L303.4,386.5 L305.9,384.1 L308.8,374.2 L311.3,384.1 L313.8,379.2 L316.2,386.5 L318.7,396.4 L321.1,416.0 L323.6,416.0 L326.1,430.8 L328.0,445.6 L329.7,435.7 L332.2,436.9 L334.7,438.2 L336.4,425.9 L337.9,406.2 L339.6,401.3 L341.3,396.4 L343.3,376.7 L345.7,359.5 L348.2,344.7 L350.6,342.3 L352.6,334.9 L354.3,327.5 L356.8,325.1 L359.3,327.5 L361.7,332.4 L363.4,339.8 L365.9,343.5 L367.9,342.3 L370.3,339.8 L372.8,332.4 L375.2,330.0 L377.7,334.9 L380.2,330.0 L382.6,337.4 L385.1,339.8 L387.5,336.1 L390.5,337.4 L393.7,332.4 L395.4,328.8 L397.4,337.4 L399.8,332.4 L402.8,337.4 L404.2,347.2 L407.2,352.1 L409.7,357.0 L412.1,362.0 L414.6,359.5 L417.0,369.3 L419.5,374.2 L422.0,359.5 L424.4,369.3 L426.9,357.0 L428.8,369.3 L430.6,357.0 L433.0,354.6 L436.7,357.0 L440.4,353.3 L442.9,357.0 L445.3,366.9 L447.8,359.5 L450.2,362.0 L452.7,374.2 L455.1,371.8 L457.6,357.0 L460.1,354.6 L462.5,352.1 L465.0,349.7 L467.4,352.1 L469.9,347.2 L472.4,349.7 L474.8,352.1 L477.3,344.7 L480.0,337.4 L482.7,333.5 L485.2,328.4 L486.6,309.9 L487.4,282.8 L488.6,304.8 L489.9,296.3 L492.0,298.0 L494.5,299.7 L496.2,296.3 L497.9,301.4 L500.4,302.2 L503.0,281.1 L505.5,271.0 L508.0,271.0 L509.7,265.9 L511.4,272.7 L513.1,274.4 L514.8,267.6 L517.3,269.3 L519.3,257.5 L521.5,243.9 L523.2,239.7 L524.4,247.3 L526.6,245.6 L529.2,247.3 L531.2,252.4 L533.4,254.9 L535.9,257.5 L538.4,258.3 L541.0,254.9 L543.5,259.2 L546.1,262.5 L548.6,252.4 L550.3,249.0 L552.0,255.8 L554.5,255.8 L557.0,259.2 L559.2,264.2 L561.3,254.1 L562.6,254.1 L563.8,264.2 L565.5,286.2 L568.0,299.7 L570.6,294.6 L573.1,286.2 L575.6,282.8 L578.2,293.0 L581.5,279.4 L584.9,274.4 L587.5,289.6 L590.0,282.8 L592.5,272.7 L595.1,276.1 L597.1,265.9 L598.4,250.7 L599.8,264.2 L601.0,269.3 L602.7,260.8 L604.4,255.8 L606.0,252.4 L607.2,260.8 L608.6,267.6 L611.1,276.1 L613.7,286.2 L616.2,282.8 L618.7,279.4 L620.4,286.2 L622.9,279.4 L624.1,271.8 L626.3,279.4 L628.9,276.1 L631.4,271.8 L633.1,277.7 L635.6,284.5 L639.0,293.0 L641.0,294.6 L642.4,306.5 L644.1,316.6 L645.8,320.0 L648.3,318.3 L650.8,321.7 L654.2,326.8 L657.6,330.1 L661.0,335.2 L664.4,347.0 L666.9,343.7 L669.4,347.0 L672.0,348.7 L674.2,343.7 L676.2,335.2 L678.7,343.7 L681.3,338.6 L684.6,338.6 L688.0,335.2 L690.6,333.5 L693.1,333.5 L695.6,343.7 L698.2,331.8 L700.7,321.7 L703.2,311.5 L704.9,294.6 L706.6,287.9 L710.0,284.5 L713.4,281.1 L715.4,272.7 L717.1,276.1 L718.4,298.0 L720.1,335.2 L721.8,358.9 L723.5,357.2 L726.0,352.1 L728.6,342.0 L730.3,348.7 L732.3,363.9 L733.6,352.1 L736.2,345.3 L738.7,348.7 L741.3,348.7 L742.9,353.8 L745.5,348.7 L748.0,353.8 L750.2,348.7 L752.2,342.0 L754.8,338.6 L757.3,331.8 L759.8,326.8 L762.4,320.0 L764.9,314.9 L766.6,296.3 L768.3,289.6 L770.0,286.2 L772.4,288.7 L774.5,292.8 L776.6,301.1 L778.7,313.5 L780.7,306.3 L782.8,309.4 L784.9,311.5 L787.0,309.4 L789.0,317.7 L791.1,334.3 L793.2,340.5 L795.2,338.4 L797.3,359.2 L799.4,373.7 L801.5,390.3 L803.5,411.0 L805.6,427.6 L807.3,448.3 L808.7,440.0 L810.8,462.8 L813.5,469.0 L816.0,464.9 L818.5,448.3 L820.1,435.9 L822.2,429.7 L824.3,440.0 L826.3,452.5 L828.8,450.4 L830.5,437.9 L832.6,435.9 L835.1,442.1 L837.1,456.6 L838.8,471.1 L841.3,460.8 L843.4,467.0 L845.0,450.4 L847.1,444.2 L849.2,446.2 L851.2,456.6 L853.3,464.9 L855.0,477.3 L857.4,464.9 L859.5,471.1 L862.0,487.7 L864.7,498.1 L866.8,493.9 L868.9,477.3 L870.9,467.0 L873.0,454.5 L875.7,437.9 L878.2,442.1 L880.3,460.8 L883.4,467.0 L886.1,452.5 L888.6,467.0 L890.6,483.6 L892.7,473.2 L894.8,471.1 L896.8,481.5 L898.5,498.1 L900.6,496.0 L903.1,481.5 L905.1,477.3 L907.6,464.9 L909.7,458.7 L912.4,464.9 L915.5,469.0 L917.6,467.0 L919.7,464.9 L922.8,464.9 L924.8,463.9 L926.9,471.1 L929.0,481.5 L931.1,475.3 L933.1,469.0 L935.2,471.1 L937.3,477.3 L939.3,473.2 L941.4,469.0 L943.5,458.7 L945.6,460.8 L948.7,458.7 L950.8,458.7 L953.2,469.0 L954.9,456.6 L957.0,448.3 L959.0,448.3 L962.2,454.5 L965.3,462.8 L968.4,473.2 L971.5,469.0 L974.6,471.1 L977.3,477.3 L979.8,477.3 L982.9,475.3 L985.0,454.5 L988.1,452.5 L991.2,452.5 L994.3,450.4 L997.4,448.3 L1000.5,448.3 L1003.6,444.2 L1006.3,440.0 L1008.4,431.7 L1010.5,440.0 L1013.0,469.0 L1016.1,471.1 L1019.2,475.3 L1021.2,469.0 L1024.4,473.2 L1026.4,496.0 L1029.1,520.9 L1031.6,510.5 L1034.1,502.2 L1036.8,520.9 L1039.9,502.2 L1043.0,516.7 L1046.1,508.4 L1049.2,502.2 L1052.3,489.8 L1055.5,483.6 L1058.6,479.4 L1060.0,477.3 L1062.0,473.9 L1064.0,465.9 L1066.0,457.9 L1068.0,459.9 L1070.0,457.9 L1073.0,455.9 L1076.0,455.9 L1079.0,453.9 L1081.0,451.9 L1083.0,455.9 L1085.0,453.9 L1086.9,451.9 L1088.9,451.9 L1090.9,455.9 L1092.9,465.9 L1094.9,479.9 L1096.9,491.9 L1098.9,479.9 L1100.9,477.9 L1102.9,489.9 L1103.9,505.9 L1105.5,487.9 L1106.9,501.9 L1108.9,533.8 L1111.9,539.8 L1114.9,549.8 L1116.9,555.8 L1118.9,549.8 L1121.9,545.8 L1124.9,539.8 L1127.9,537.8 L1130.9,537.8 L1133.5,539.8 L1135.5,533.8 L1137.5,549.8 L1139.5,567.8 L1141.5,541.8 L1143.5,557.8 L1145.5,545.8 L1148.3,545.8 L1150.3,555.8 L1152.3,541.8 L1154.3,533.8 L1156.9,523.8 L1159.8,525.8 L1162.8,519.8 L1165.8,523.8 L1168.8,527.8 L1170.8,533.8 L1173.8,525.8 L1176.8,511.9 L1178.8,493.9 L1180.8,475.9 L1182.8,485.9 L1184.8,481.9 L1187.8,473.9 L1190.8,477.9 L1193.4,481.9 L1195.8,491.9 L1197.8,501.9 L1199.8,489.9 L1202.8,493.9 L1205.4,503.9 L1207.8,495.9 L1210.8,497.9 L1213.4,495.9 L1215.8,513.9 L1218.8,517.8 L1221.4,525.8 L1223.4,539.8 L1225.8,537.8 L1228.4,521.8 L1230.7,505.9 L1232.7,509.9 L1234.7,517.8 L1236.7,505.9 L1239.7,509.9 L1242.7,505.9 L1245.7,503.9 L1248.1,507.9 L1249.7,521.8 L1251.3,537.8 L1252.7,525.8 L1254.7,549.8 L1257.7,567.8 L1260.7,581.8 L1263.3,601.7 L1265.7,605.7 L1267.7,607.7 L1269.7,583.8 L1272.1,567.8 L1274.7,555.8 L1277.7,555.8 L1280.1,543.8 L1282.7,535.8 L1285.7,533.8 L1288.7,529.8 L1291.7,533.8 L1294.1,537.8 L1296.1,525.8 L1298.1,537.8 L1301.2,533.8 L1303.6,539.8 L1306.6,533.8 L1309.2,535.8 L1311.6,543.8 L1314.6,545.8 L1317.2,547.8 L1319.6,539.8 L1322.0,537.8 L1324.6,547.8 L1327.6,545.8 L1329.6,551.8 L1331.6,565.8 L1333.6,589.7 L1335.2,609.7 L1337.2,633.7 L1339.6,639.7 L1341.6,633.7 L1343.6,625.7 L1346.0,623.7 L1348.0,609.7 L1350.0,601.7 L1351.9,599.5 L1353.8,603.3 L1355.7,614.8 L1357.7,630.2 L1359.2,620.6 L1361.1,609.1 L1362.7,611.0 L1364.6,624.4 L1365.9,655.2 L1367.3,643.6 L1369.8,641.7 L1372.6,639.8 L1374.6,637.9 L1376.5,647.5 L1378.4,655.2 L1380.3,666.7 L1382.3,685.9 L1384.6,678.2 L1387.1,693.6 L1389.0,705.1 L1391.5,695.5 L1393.4,691.7 L1395.7,726.2 L1397.6,682.0 L1399.5,674.4 L1401.5,678.2 L1403.8,662.8 L1405.7,674.4 L1408.2,693.6 L1410.7,668.6 L1413.0,651.3 L1415.3,666.7 L1417.2,657.1 L1419.7,659.0 L1421.6,689.7 L1423.5,674.4 L1426.0,664.8 L1428.7,685.9 L1431.2,668.6 L1434.1,666.7 L1437.0,664.8 L1439.9,660.9 L1442.7,670.5 L1445.2,672.4 L1447.5,678.2 L1450.4,674.4 L1453.3,672.4 L1455.2,664.8 L1457.5,670.5 L1460.0,676.3 L1462.9,682.0 L1465.2,684.0 L1467.1,691.7 L1469.6,680.1 L1472.1,684.0 L1474.4,687.8 L1476.7,685.9 L1478.7,676.3 L1481.7,674.4 L1484.4,672.4 L1486.9,670.5 L1489.8,668.6 L1493.6,670.5 L1496.5,671.5 L1499.0,676.3 L1501.3,672.4 L1503.2,666.7 L1505.2,653.2 L1507.1,660.9 L1510.0,659.0 L1512.8,657.1 L1514.8,649.4 L1516.7,639.8 L1519.6,637.9 L1522.4,634.0 L1525.3,636.0 L1527.8,636.0 L1530.1,641.7 L1532.0,655.2 L1534.0,649.4 L1536.9,643.6 L1539.7,641.7 L1542.6,641.7 L1545.5,639.8 L1548.4,630.2 L1551.3,630.2 L1553.6,626.4 L1556.1,632.1 L1558.9,628.3 L1561.2,636.0 L1563.7,647.5 L1566.2,649.4 L1568.5,645.6 L1571.4,639.8 L1574.3,634.0 L1577.2,630.2 L1580.1,628.3 L1582.9,636.0 L1585.4,647.5 L1587.7,655.2 L1590.0,651.3 L1592.5,622.5 L1595.4,622.5 L1598.3,620.6 L1600.2,639.8 L1602.1,614.8 L1604.1,611.0 L1606.0,620.6 L1608.5,630.2 L1610.8,628.3 L1612.7,632.1 L1615.0,651.3 L1617.5,647.5 L1620.4,651.3 L1623.3,649.4 L1626.2,643.6 L1629.0,645.6 L1631.5,649.4 L1633.8,632.1 L1636.7,624.4 L1638.6,609.1 L1640.0,589.9 L1641.3,581.9 L1642.9,580.3 L1644.5,570.6 L1646.1,565.8 L1647.7,564.2 L1649.4,569.0 L1651.0,562.6 L1652.6,565.8 L1654.2,569.0 L1656.6,570.6 L1659.0,567.4 L1660.6,570.6 L1662.3,575.5 L1663.9,580.3 L1665.5,578.7 L1667.1,585.2 L1668.7,591.6 L1670.3,586.8 L1672.3,588.4 L1674.4,591.6 L1676.8,583.5 L1678.4,585.2 L1680.3,586.8 L1682.4,588.4 L1684.8,590.0 L1686.8,594.8 L1688.4,599.7 L1690.0,602.9 L1691.3,612.6 L1693.2,604.5 L1695.3,601.3 L1697.4,604.5 L1699.4,599.7 L1701.0,598.1 L1703.4,590.0 L1705.0,586.8 L1707.1,594.8 L1709.0,601.3 L1710.6,607.7 L1712.3,599.7 L1713.9,586.8 L1716.3,585.2 L1718.4,580.3 L1720.6,575.5 L1721.9,586.8 L1723.5,606.1 L1725.2,586.8 L1727.6,585.2 L1730.0,581.9 L1732.4,583.5 L1734.0,573.9 L1735.6,565.8 L1737.3,569.0 L1739.7,570.6 L1742.1,573.9 L1743.7,565.8 L1745.3,569.0 L1747.4,573.9 L1749.4,578.7 L1751.0,586.8 L1752.6,583.5 L1755.0,580.3 L1757.4,581.9 L1759.8,578.7 L1762.3,577.1 L1764.2,580.3 L1765.8,588.4 L1767.9,593.2 L1770.3,593.2 L1772.3,594.8 L1774.4,593.2 L1776.0,596.5 L1777.6,599.7 L1779.2,594.8 L1780.8,588.4 L1782.9,583.5 L1784.8,586.8 L1786.8,594.8 L1788.9,583.5 L1790.5,580.3 L1792.1,570.6 L1793.7,554.5 L1795.3,535.2 L1797.7,533.5 L1800.2,538.4 L1802.6,536.8 L1805.0,538.4 L1807.4,538.4 L1809.8,536.8 L1812.3,538.4 L1814.7,540.0 L1817.1,541.6 L1819.5,535.2 L1821.1,528.7 L1822.3,519.0 L1823.5,525.5 L1825.2,530.3 L1827.6,531.9 L1830.0,531.9 L1832.4,536.8 L1834.8,536.8 L1837.3,535.2 L1839.7,538.4 L1842.1,536.8 L1844.5,536.8 L1846.9,535.2 L1849.4,536.8 L1851.8,538.4 L1853.4,544.8 L1855.0,554.5 L1856.6,552.9 L1859.0,551.3 L1861.5,552.9 L1863.9,549.7 L1866.3,546.5 L1868.7,543.2 L1871.1,541.6 L1873.5,538.4 L1875.2,533.5 L1877.6,535.2 L1880.0,533.5 L1882.4,533.5 L1884.8,538.4 L1886.8,544.8 L1888.9,544.8 L1891.3,546.5 L1893.7,544.8 L1896.1,549.7 L1898.5,551.3 L1901.0,548.1 L1903.4,544.8 L1905.8,543.2 L1908.2,540.0 L1910.6,541.6 L1913.1,544.8 L1915.5,549.7 L1917.9,535.2 L1919.5,520.6 L1921.9,523.9 L1924.4,528.7 L1926.0,522.3 L1927.6,536.8 L1930.0,535.2 L1931.8,533.8 L1933.4,532.7 L1934.5,512.3 L1936.1,505.8 L1937.2,515.5 L1938.3,510.1 L1939.4,513.3 L1940.4,510.1 L1941.5,520.9 L1942.6,529.5 L1944.2,535.9 L1945.8,541.3 L1946.9,542.4 L1948.0,534.8 L1950.1,531.6 L1952.3,526.2 L1954.4,526.2 L1956.6,524.1 L1958.2,525.2 L1959.8,529.5 L1961.4,534.8 L1963.0,532.7 L1965.2,533.8 L1967.3,534.8 L1969.5,532.7 L1971.6,532.7 L1973.8,532.7 L1975.9,535.9 L1978.1,539.1 L1980.2,540.2 L1981.8,533.8 L1983.4,531.6 L1985.6,533.8 L1987.2,541.3 L1988.8,546.7 L1991.0,548.8 L1993.1,547.7 L1995.3,549.9 L1997.4,548.8 L1999.6,551.0 L2001.7,551.0 L2003.9,553.1 L2006.0,552.0 L2008.2,553.1 L2010.3,552.0 L2012.5,553.1 L2014.6,556.3 L2016.2,551.0 L2017.8,547.7 L2019.5,548.8 L2021.6,554.2 L2023.2,559.6 L2024.8,566.0 L2026.5,561.7 L2028.1,554.2 L2029.7,556.3 L2031.3,553.1 L2032.9,552.0 L2035.1,553.1 L2036.7,555.3 L2038.3,558.5 L2039.9,555.3 L2041.5,556.3 L2043.7,555.3 L2045.8,551.0 L2048.0,548.8 L2050.1,548.8 L2052.3,551.0 L2054.4,557.4 L2056.6,549.9 L2058.7,552.0 L2060.9,557.4 L2063.0,554.2 L2065.2,551.0 L2067.3,548.8 L2069.5,546.7 L2071.6,547.7 L2073.8,545.6 L2075.9,546.7 L2078.1,545.6 L2080.2,548.8 L2082.4,549.9 L2084.0,540.2 L2085.6,531.6 L2087.2,527.3 L2088.8,529.5 L2091.0,531.6 L2093.1,535.9 L2095.3,528.4 L2097.4,531.6 L2099.6,533.8 L2101.7,533.8 L2103.9,534.8 L2106.0,535.9 L2108.2,535.9 L2110.3,538.1 L2112.5,540.2 L2114.1,541.3 L2115.7,534.8 L2117.3,542.4 L2118.9,555.3 L2120.5,576.8 L2121.6,598.3 L2123.2,620.0 L2124.4,625.9 L2126.3,622.0 L2128.2,631.6 L2130.7,635.5 L2132.6,637.4 L2134.6,643.1 L2136.9,637.4 L2139.8,635.5 L2142.6,633.6 L2144.5,627.8 L2147.4,629.7 L2150.3,627.8 L2153.2,629.7 L2155.7,625.9 L2158.0,631.6 L2160.9,635.5 L2163.7,637.4 L2166.0,639.3 L2167.6,647.0 L2169.5,668.1 L2171.4,677.7 L2173.7,681.5 L2176.2,675.8 L2179.1,671.9 L2182.0,677.7 L2184.9,671.9 L2186.8,666.2 L2188.7,656.6 L2190.6,648.9 L2192.9,645.1 L2194.8,641.2 L2196.8,648.9 L2199.3,648.9 L2201.7,645.1 L2204.0,647.0 L2206.9,648.9 L2209.8,645.1 L2212.7,647.0 L2215.6,648.9 L2218.4,643.1 L2220.4,647.0 L2223.2,652.7 L2226.1,647.0 L2229.0,645.1 L2230.9,635.5 L2233.8,633.6 L2236.7,635.5 L2239.6,629.7 L2242.4,618.2 L2244.4,602.8 L2246.3,576.0 L2247.8,547.2 L2249.2,552.9 L2250.5,549.1 L2252.0,539.5 L2254.9,541.4 L2257.8,541.4 L2259.7,552.9 L2261.6,560.6 L2264.5,554.9 L2267.0,545.3 L2269.3,543.3 L2272.2,552.9 L2275.1,552.9 L2277.9,543.3 L2279.9,537.6 L2282.7,528.0 L2290.4,522.2 L2293.9,510.7 L2297.1,518.4 L2301.9,526.1" fill="none" stroke="#2962ff" stroke-width="3" stroke-linejoin="round"/>
<defs><linearGradient id="gob" x1="0" y1="829.1" x2="0" y2="902.7" gradientUnits="userSpaceOnUse"><stop offset="0" stop-color="#4caf50" stop-opacity="0.5"/><stop offset="1" stop-color="#4caf50" stop-opacity="0"/></linearGradient><linearGradient id="gos" x1="0" y1="1066.3" x2="0" y2="1139.9" gradientUnits="userSpaceOnUse"><stop offset="0" stop-color="#f23645" stop-opacity="0"/><stop offset="1" stop-color="#f23645" stop-opacity="0.45"/></linearGradient></defs>
<path d="M15.2,902.7 L16.7,902.7 L18.3,902.7 L20.0,902.7 L21.4,902.7 L23.1,902.7 L24.3,902.7 L26.2,902.7 L27.9,902.7 L29.5,902.7 L31.4,902.7 L32.6,902.7 L34.3,902.7 L36.2,902.7 L38.6,902.7 L40.5,902.7 L42.1,902.7 L44.5,902.7 L46.9,902.7 L48.6,902.7 L50.5,902.7 L52.9,902.7 L55.2,902.7 L57.1,902.7 L59.5,902.7 L61.2,902.7 L62.9,902.7 L65.2,902.7 L67.6,902.7 L69.5,902.7 L71.9,902.7 L74.3,902.7 L76.2,902.7 L77.9,902.7 L79.5,902.7 L81.4,902.7 L83.8,902.7 L86.2,902.7 L89.8,902.7 L93.3,902.7 L95.7,902.7 L97.6,902.7 L99.3,902.7 L101.0,902.7 L102.9,902.7 L105.2,902.7 L107.6,902.7 L109.5,902.7 L111.2,902.7 L113.6,902.7 L115.2,902.7 L118.3,902.7 L121.9,902.7 L124.3,902.7 L126.2,902.7 L127.9,902.7 L129.5,902.7 L131.4,902.7 L133.8,902.7 L136.2,902.7 L138.6,902.7 L141.0,902.7 L143.3,902.7 L145.7,902.7 L148.1,902.7 L150.5,902.7 L152.9,902.7 L155.7,902.7 L158.8,902.7 L161.2,902.7 L163.6,902.7 L166.0,902.7 L169.0,902.7 L172.4,902.7 L174.8,902.7 L176.7,902.7 L179.0,902.7 L181.4,902.7 L183.8,902.7 L186.2,902.7 L188.1,902.7 L190.5,902.7 L193.3,902.7 L196.9,901.4 L200.5,902.7 L202.9,902.7 L205.2,902.7 L207.6,902.7 L210.0,902.7 L212.4,902.7 L214.8,902.7 L217.1,902.7 L219.5,902.7 L222.4,902.7 L225.5,902.7 L227.9,902.7 L229.5,902.7 L231.4,902.7 L233.8,902.7 L236.2,902.7 L238.6,902.7 L241.4,902.7 L244.5,902.7 L246.2,902.7 L249.3,902.7 L251.7,902.7 L254.8,902.7 L257.1,902.7 L259.5,902.7 L261.9,902.7 L264.3,902.7 L267.1,902.7 L269.5,902.7 L271.9,902.7 L274.8,902.7 L277.9,902.7 L280.2,902.7 L283.3,902.7 L286.2,902.7 L288.6,902.7 L291.0,902.7 L292.9,902.7 L295.7,902.7 L297.6,902.7 L300.0,902.7 L302.4,902.7 L305.2,902.7 L308.1,902.7 L310.0,902.7 L311.9,902.7 L313.8,902.7 L315.5,902.7 L317.1,902.7 L319.0,902.7 L321.4,902.7 L323.3,902.7 L325.0,902.7 L326.7,902.7 L328.6,902.7 L330.5,902.7 L332.9,902.7 L335.7,902.7 L337.6,902.7 L339.3,902.7 L341.0,902.7 L342.9,902.7 L344.8,902.7 L346.4,902.7 L348.8,902.7 L351.2,902.7 L353.6,899.0 L356.0,889.5 L358.3,889.5 L360.7,901.4 L363.1,902.7 L365.5,902.7 L367.9,902.7 L370.2,902.7 L372.6,902.7 L375.0,902.7 L377.4,902.7 L379.8,902.7 L382.1,902.7 L383.8,902.7 L386.2,902.7 L388.6,902.7 L390.0,902.7 L392.9,902.7 L395.7,902.7 L397.6,902.7 L400.0,902.7 L401.9,902.7 L403.6,902.7 L406.0,902.7 L408.3,902.7 L410.7,902.7 L413.1,902.7 L415.5,902.7 L417.9,902.7 L420.2,902.7 L421.9,902.7 L423.8,902.7 L425.7,902.7 L427.4,902.7 L429.8,902.7 L432.1,902.7 L434.5,902.7 L436.9,902.7 L439.3,902.7 L441.7,902.7 L444.0,902.7 L446.4,902.7 L448.8,902.7 L451.2,902.7 L452.9,902.7 L454.8,902.7 L457.1,902.7 L459.0,902.7 L461.9,902.7 L464.3,902.7 L466.7,902.7 L469.5,902.7 L471.9,902.7 L473.8,902.7 L476.2,902.7 L478.6,902.7 L481.0,902.7 L483.3,902.7 L485.7,902.7 L487.6,859.8 L489.3,902.7 L491.7,902.7 L494.0,902.7 L496.4,902.7 L498.8,902.7 L501.2,902.7 L503.6,901.4 L506.0,889.5 L508.3,894.3 L510.7,887.1 L513.1,902.7 L515.5,902.7 L517.9,902.7 L520.2,899.0 L522.6,877.6 L525.0,901.4 L527.4,901.4 L529.8,902.7 L532.1,902.7 L534.5,902.7 L536.9,902.7 L539.3,902.7 L541.7,902.7 L544.0,902.7 L546.4,902.7 L548.8,902.7 L551.2,902.7 L553.6,902.7 L556.0,902.7 L558.3,902.7 L560.7,902.7 L563.1,902.7 L565.5,902.7 L567.9,902.7 L569.0,902.7 L571.4,902.7 L573.8,902.7 L576.2,902.7 L578.6,902.7 L581.0,902.7 L583.3,902.7 L585.7,902.7 L588.1,902.7 L590.5,902.7 L592.9,902.7 L595.2,902.7 L598.1,902.7 L600.0,902.7 L603.1,902.7 L605.5,902.7 L607.1,902.7 L609.5,902.7 L611.4,902.7 L613.8,902.7 L616.2,902.7 L618.1,902.7 L619.8,902.7 L622.1,902.7 L623.8,902.7 L625.7,902.7 L628.1,902.7 L630.0,902.7 L632.4,902.7 L634.0,902.7 L635.7,902.7 L637.6,902.7 L639.5,902.7 L641.9,902.7 L643.6,902.7 L646.0,902.7 L648.3,902.7 L650.7,902.7 L653.1,902.7 L655.5,902.7 L657.9,902.7 L660.2,902.7 L662.6,902.7 L664.3,902.7 L666.2,902.7 L668.6,902.7 L670.5,902.7 L672.1,902.7 L674.5,902.7 L676.2,902.7 L678.6,902.7 L681.0,902.7 L684.0,902.7 L685.7,902.7 L688.1,902.7 L691.2,902.7 L693.6,902.7 L695.2,902.7 L697.6,902.7 L700.0,902.7 L702.4,902.7 L704.3,901.4 L706.7,889.5 L709.0,884.8 L711.4,887.1 L713.8,875.2 L715.7,866.9 L717.4,902.7 L719.8,902.7 L722.1,902.7 L725.2,902.7 L727.6,902.7 L730.0,902.7 L732.1,902.7 L734.0,902.7 L736.4,902.7 L738.8,902.7 L741.2,902.7 L743.6,902.7 L745.2,902.7 L747.1,902.7 L749.5,902.7 L751.4,902.7 L753.8,902.7 L756.2,902.7 L759.0,902.7 L761.9,902.7 L765.0,902.7 L766.7,896.7 L769.0,890.7 L771.0,884.8 L772.9,902.7 L775.2,902.7 L778.1,902.7 L780.5,902.7 L783.3,902.7 L785.7,902.7 L787.6,902.7 L790.0,902.7 L792.4,902.7 L794.8,902.7 L797.1,902.7 L799.5,902.7 L801.9,902.7 L804.3,902.7 L806.7,902.7 L809.0,902.7 L811.4,902.7 L814.3,902.7 L817.4,902.7 L819.8,902.7 L822.1,902.7 L824.5,902.7 L826.9,902.7 L829.3,902.7 L831.7,902.7 L834.0,902.7 L836.4,902.7 L838.8,902.7 L841.2,902.7 L844.3,902.7 L846.7,902.7 L849.0,902.7 L851.4,902.7 L853.1,902.7 L854.8,902.7 L856.7,902.7 L859.0,902.7 L861.4,902.7 L863.3,902.7 L865.7,902.7 L868.1,902.7 L870.5,902.7 L872.9,902.7 L875.7,902.7 L878.1,902.7 L880.5,902.7 L882.4,902.7 L884.8,902.7 L887.6,902.7 L890.0,902.7 L891.9,902.7 L894.3,902.7 L896.7,902.7 L898.6,902.7 L901.0,902.7 L903.3,902.7 L905.7,902.7 L909.0,902.7 L911.0,902.7 L913.8,902.7 L916.2,902.7 L918.6,902.7 L921.0,902.7 L923.3,902.7 L925.7,902.7 L927.6,902.7 L928.8,902.7 L930.5,902.7 L932.9,902.7 L935.2,902.7 L937.6,902.7 L940.0,902.7 L941.9,902.7 L943.8,902.7 L946.2,902.7 L948.6,902.7 L951.0,902.7 L952.6,902.7 L954.3,902.7 L957.4,902.7 L959.8,902.7 L962.1,902.7 L964.5,902.7 L966.2,902.7 L968.1,902.7 L969.3,902.7 L971.7,902.7 L974.0,902.7 L976.4,902.7 L978.1,902.7 L980.0,902.7 L982.4,902.7 L984.8,902.7 L987.1,902.7 L989.0,902.7 L991.4,902.7 L993.8,902.7 L996.7,902.7 L999.0,902.7 L1001.0,902.7 L1003.3,902.7 L1005.7,902.7 L1008.1,902.7 L1010.5,902.7 L1012.9,902.7 L1015.2,902.7 L1017.6,902.7 L1020.5,902.7 L1022.9,902.7 L1025.2,902.7 L1027.6,902.7 L1029.5,902.7 L1031.9,902.7 L1034.3,902.7 L1036.7,902.7 L1038.3,902.7 L1040.0,902.7 L1041.9,902.7 L1044.3,902.7 L1046.7,902.7 L1049.0,902.7 L1051.4,902.7 L1053.8,902.7 L1056.2,902.7 L1059.0,902.7 L1061.0,902.7 L1063.3,902.7 L1066.2,902.7 L1068.6,902.7 L1071.0,902.7 L1074.0,902.7 L1077.1,902.7 L1081.2,902.7 L1083.6,902.7 L1087.1,902.7 L1089.5,902.7 L1091.9,902.7 L1094.3,902.7 L1096.7,902.7 L1099.5,902.7 L1101.9,902.7 L1103.8,902.7 L1105.7,902.7 L1108.1,902.7 L1109.8,902.7 L1112.1,902.7 L1114.5,902.7 L1116.2,902.7 L1118.1,902.7 L1120.0,902.7 L1122.9,902.7 L1125.2,902.7 L1127.6,902.7 L1130.0,902.7 L1132.4,902.7 L1134.3,902.7 L1136.0,902.7 L1137.6,902.7 L1139.5,902.7 L1141.9,902.7 L1144.3,902.7 L1146.7,902.7 L1149.0,902.7 L1151.4,902.7 L1153.8,902.7 L1156.7,902.7 L1158.6,902.7 L1161.0,902.7 L1163.3,902.7 L1165.7,902.7 L1168.1,902.7 L1171.0,902.7 L1173.3,902.7 L1175.7,902.7 L1177.6,902.7 L1179.5,894.3 L1180.5,894.3 L1182.4,901.4 L1183.8,902.7 L1186.2,902.7 L1188.6,902.7 L1191.0,902.7 L1193.3,902.7 L1195.0,902.7 L1196.7,902.7 L1198.6,902.7 L1200.5,902.7 L1202.9,902.7 L1205.2,902.7 L1206.2,902.7 L1208.6,902.7 L1211.0,902.7 L1212.9,902.7 L1215.2,902.7 L1217.6,902.7 L1220.0,902.7 L1222.4,902.7 L1224.3,902.7 L1226.7,902.7 L1229.0,902.7 L1231.4,902.7 L1233.1,902.7 L1234.8,902.7 L1236.7,902.7 L1239.0,902.7 L1241.4,902.7 L1243.8,902.7 L1246.2,902.7 L1248.6,902.7 L1251.0,902.7 L1252.9,902.7 L1255.2,902.7 L1257.6,902.7 L1260.0,902.7 L1262.9,902.7 L1265.2,902.7 L1267.6,902.7 L1270.0,902.7 L1272.4,902.7 L1274.8,902.7 L1277.1,902.7 L1279.5,902.7 L1281.9,902.7 L1284.3,902.7 L1286.7,902.7 L1289.0,902.7 L1291.4,902.7 L1293.8,902.7 L1296.2,902.7 L1298.6,902.7 L1301.4,902.7 L1303.8,902.7 L1306.2,902.7 L1308.6,902.7 L1311.0,902.7 L1312.9,902.7 L1315.2,902.7 L1317.1,902.7 L1319.5,902.7 L1321.9,902.7 L1324.3,902.7 L1326.7,902.7 L1329.5,902.7 L1331.9,902.7 L1334.3,902.7 L1336.7,902.7 L1339.0,902.7 L1341.0,902.7 L1342.6,902.7 L1346.2,902.7 L1348.6,902.7 L1351.0,902.7 L1353.3,902.7 L1356.2,902.7 L1358.6,902.7 L1361.9,902.7 L1364.0,902.7 L1366.4,902.7 L1368.8,902.7 L1371.2,902.7 L1373.6,902.7 L1376.0,902.7 L1378.3,902.7 L1380.7,902.7 L1383.1,902.7 L1385.5,902.7 L1387.9,902.7 L1389.0,902.7 L1391.4,902.7 L1393.8,902.7 L1396.2,902.7 L1398.6,902.7 L1401.0,902.7 L1403.8,902.7 L1405.7,902.7 L1408.6,902.7 L1410.5,902.7 L1412.9,902.7 L1415.2,902.7 L1417.6,902.7 L1420.0,902.7 L1422.4,902.7 L1424.8,902.7 L1427.1,902.7 L1429.5,902.7 L1431.9,902.7 L1434.3,902.7 L1436.7,902.7 L1439.5,902.7 L1441.9,902.7 L1444.3,902.7 L1447.4,902.7 L1449.8,902.7 L1452.1,902.7 L1455.2,902.7 L1458.1,902.7 L1460.5,902.7 L1463.3,902.7 L1466.4,902.7 L1468.8,902.7 L1470.0,902.7 L1471.4,902.7 L1473.1,902.7 L1475.5,902.7 L1477.1,902.7 L1479.0,902.7 L1481.4,902.7 L1483.3,902.7 L1485.7,902.7 L1488.6,902.7 L1491.0,902.7 L1493.8,902.7 L1496.2,902.7 L1498.1,902.7 L1500.0,902.7 L1502.4,902.7 L1504.0,902.7 L1505.7,902.7 L1507.6,902.7 L1509.3,902.7 L1511.2,902.7 L1512.9,902.7 L1515.2,902.7 L1517.6,901.4 L1519.5,899.0 L1521.4,902.7 L1523.8,899.0 L1526.2,902.7 L1529.0,902.7 L1531.0,902.7 L1533.1,902.7 L1535.0,902.7 L1537.4,902.7 L1539.8,902.7 L1542.1,902.7 L1543.8,902.7 L1546.2,902.7 L1548.6,902.7 L1550.5,902.7 L1552.9,902.7 L1554.3,902.7 L1555.7,902.7 L1557.6,902.7 L1560.0,902.7 L1562.4,902.7 L1564.8,902.7 L1566.7,902.7 L1569.0,902.7 L1571.4,902.7 L1573.8,902.7 L1576.2,902.7 L1578.6,902.7 L1581.0,902.7 L1582.6,902.7 L1584.3,902.7 L1586.7,902.7 L1589.0,902.7 L1590.5,902.7 L1592.9,902.7 L1594.5,902.7 L1596.2,902.7 L1598.1,902.7 L1600.5,902.7 L1602.4,902.7 L1604.0,902.7 L1606.4,902.7 L1608.8,902.7 L1611.2,902.7 L1612.9,902.7 L1615.2,902.7 L1617.6,902.7 L1620.0,902.7 L1622.4,902.7 L1625.5,902.7 L1627.9,902.7 L1629.5,902.7 L1631.9,902.7 L1633.8,902.7 L1636.2,902.7 L1638.6,902.7 L1641.0,899.0 L1642.9,887.1 L1644.5,884.8 L1646.9,872.9 L1649.3,891.9 L1651.7,884.8 L1654.0,896.7 L1656.4,902.7 L1658.8,902.7 L1661.2,902.7 L1663.6,902.7 L1665.2,902.7 L1667.1,902.7 L1669.0,902.7 L1671.4,902.7 L1673.8,902.7 L1675.5,902.7 L1677.9,902.7 L1680.2,902.7 L1682.6,902.7 L1685.0,902.7 L1687.4,902.7 L1689.8,902.7 L1691.4,902.7 L1693.3,902.7 L1695.7,902.7 L1698.1,902.7 L1700.0,902.7 L1702.9,902.7 L1705.2,902.7 L1707.6,902.7 L1710.0,902.7 L1712.4,902.7 L1714.8,902.7 L1717.1,902.7 L1720.0,902.7 L1721.9,902.7 L1723.8,902.7 L1726.2,902.7 L1728.6,902.7 L1731.0,902.7 L1733.3,902.7 L1735.7,902.7 L1738.1,902.7 L1740.5,902.7 L1742.9,902.7 L1744.8,902.7 L1747.6,902.7 L1750.0,902.7 L1752.9,902.7 L1756.4,902.7 L1758.8,902.7 L1760.0,902.7 L1761.4,902.7 L1763.8,902.7 L1766.2,902.7 L1768.6,902.7 L1770.2,902.7 L1771.9,902.7 L1773.8,902.7 L1776.2,902.7 L1778.1,902.7 L1779.8,902.7 L1781.4,902.7 L1783.3,902.7 L1785.2,902.7 L1786.9,902.7 L1788.6,902.7 L1790.5,902.7 L1792.4,902.7 L1794.0,902.7 L1795.7,884.8 L1797.6,881.2 L1799.5,899.0 L1801.9,896.7 L1804.3,902.7 L1806.7,902.7 L1809.0,902.7 L1811.4,902.7 L1813.8,902.7 L1816.2,902.7 L1818.6,902.7 L1821.0,902.7 L1822.6,896.7 L1824.3,902.7 L1826.7,902.7 L1829.0,902.7 L1831.4,902.7 L1833.3,902.7 L1835.7,902.7 L1838.1,902.7 L1840.5,902.7 L1842.4,902.7 L1844.8,902.7 L1847.6,902.7 L1850.0,902.7 L1852.4,902.7 L1854.8,902.7 L1857.1,902.7 L1859.5,902.7 L1861.9,902.7 L1864.3,902.7 L1866.7,902.7 L1869.0,902.7 L1871.4,902.7 L1873.8,902.7 L1875.7,902.7 L1878.1,902.7 L1880.5,902.7 L1882.9,902.7 L1884.8,902.7 L1886.9,902.7 L1889.3,902.7 L1891.7,902.7 L1894.0,902.7 L1896.4,902.7 L1898.8,902.7 L1901.2,902.7 L1903.6,902.7 L1906.0,902.7 L1908.3,902.7 L1910.0,902.7 L1911.9,902.7 L1913.8,902.7 L1915.5,902.7 L1917.9,902.7 L1920.2,902.7 L1922.6,902.7 L1925.0,902.7 L1927.4,902.7 L1929.8,902.7 L1932.1,902.7 L1934.5,902.7 L1936.9,902.7 L1939.3,902.7 L1941.7,902.7 L1944.0,902.7 L1946.4,902.7 L1948.8,902.7 L1951.2,902.7 L1953.6,902.7 L1955.2,902.7 L1957.6,902.7 L1960.0,902.7 L1961.9,902.7 L1964.3,902.7 L1966.7,902.7 L1969.0,902.7 L1971.4,902.7 L1973.8,902.7 L1976.2,902.7 L1978.6,902.7 L1981.0,902.7 L1983.3,902.7 L1985.7,902.7 L1988.1,902.7 L1990.5,902.7 L1992.9,902.7 L1995.2,902.7 L1997.6,902.7 L2000.0,902.7 L2002.4,902.7 L2004.8,902.7 L2007.1,902.7 L2009.5,902.7 L2011.4,902.7 L2013.8,902.7 L2016.2,902.7 L2018.6,902.7 L2020.2,902.7 L2022.6,902.7 L2025.0,902.7 L2027.4,902.7 L2029.8,902.7 L2032.1,902.7 L2034.5,902.7 L2036.9,902.7 L2039.3,902.7 L2041.7,902.7 L2044.0,902.7 L2046.4,902.7 L2048.8,902.7 L2050.0,902.7 L2051.1,902.7 L2052.8,902.7 L2054.7,902.7 L2056.7,902.7 L2059.2,902.7 L2060.9,902.7 L2063.4,902.7 L2065.8,902.7 L2067.5,902.7 L2069.5,902.7 L2072.0,902.7 L2073.9,902.7 L2076.4,902.7 L2078.8,902.7 L2081.3,902.7 L2083.0,902.7 L2085.5,902.7 L2087.2,879.0 L2089.2,902.7 L2091.6,902.7 L2093.6,902.7 L2095.3,902.7 L2097.8,902.7 L2099.5,902.7 L2101.5,902.7 L2103.9,902.7 L2106.4,902.7 L2108.8,902.7 L2111.3,902.7 L2113.3,902.7 L2115.0,902.7 L2116.7,902.7 L2118.2,902.7 L2119.9,902.7 L2121.6,902.7 L2123.6,902.7 L2126.0,902.7 L2128.5,902.7 L2131.0,902.7 L2132.9,902.7 L2134.6,902.7 L2137.1,902.7 L2139.6,902.7 L2142.0,902.7 L2144.5,902.7 L2146.9,902.7 L2149.4,902.7 L2151.8,902.7 L2154.3,902.7 L2156.8,902.7 L2159.2,902.7 L2161.7,902.7 L2164.1,902.7 L2165.9,902.7 L2168.3,902.7 L2170.3,902.7 L2172.7,902.7 L2175.2,902.7 L2177.7,902.7 L2180.1,902.7 L2182.6,902.7 L2185.0,902.7 L2187.5,902.7 L2190.0,902.7 L2192.4,902.7 L2194.4,902.7 L2196.8,902.7 L2199.3,902.7 L2201.8,902.7 L2204.2,902.7 L2206.7,902.7 L2209.1,902.7 L2211.6,902.7 L2214.0,902.7 L2216.5,902.7 L2219.0,902.7 L2221.4,902.7 L2223.1,902.7 L2225.6,902.7 L2228.1,902.7 L2230.5,902.7 L2232.2,902.7 L2234.7,902.7 L2237.9,902.7 L2240.3,902.7 L2242.8,896.2 L2244.5,847.0 L2246.5,827.4 L2248.9,847.0 L2251.4,837.2 L2253.4,852.0 L2255.8,859.3 L2258.3,864.2 L2260.0,902.7 L2262.5,902.7 L2264.9,902.7 L2267.4,902.7 L2269.8,901.1 L2272.3,902.7 L2274.8,902.7 L2277.2,902.7 L2279.7,896.2 L2282.1,902.7 L2284.6,898.7 L2287.1,901.1 L2289.5,898.7 L2292.0,886.4 L2293.7,879.0 L2295.7,902.7 L2298.1,902.7 L2300.6,902.7 L2302.5,902.7 L2302.5,902.7 L15.2,902.7 Z" fill="url(#gob)"/>
<path d="M15.2,1066.3 L16.7,1070.5 L18.3,1066.3 L20.0,1075.2 L21.4,1066.3 L23.1,1066.3 L24.3,1066.3 L26.2,1066.3 L27.9,1066.3 L29.5,1066.3 L31.4,1066.3 L32.6,1066.3 L34.3,1083.6 L36.2,1066.3 L38.6,1066.3 L40.5,1066.3 L42.1,1066.3 L44.5,1066.3 L46.9,1066.3 L48.6,1066.3 L50.5,1066.3 L52.9,1066.3 L55.2,1066.3 L57.1,1066.3 L59.5,1066.3 L61.2,1066.3 L62.9,1066.3 L65.2,1066.3 L67.6,1066.3 L69.5,1066.3 L71.9,1066.3 L74.3,1066.3 L76.2,1066.3 L77.9,1066.3 L79.5,1074.0 L81.4,1066.3 L83.8,1066.3 L86.2,1066.3 L89.8,1066.3 L93.3,1066.3 L95.7,1066.3 L97.6,1066.3 L99.3,1066.3 L101.0,1066.3 L102.9,1066.3 L105.2,1066.3 L107.6,1066.3 L109.5,1066.3 L111.2,1066.3 L113.6,1066.3 L115.2,1068.1 L118.3,1080.0 L121.9,1094.3 L124.3,1101.4 L126.2,1122.9 L127.9,1096.7 L129.5,1108.6 L131.4,1066.3 L133.8,1066.3 L136.2,1066.3 L138.6,1066.3 L141.0,1066.3 L143.3,1066.3 L145.7,1066.3 L148.1,1066.3 L150.5,1066.3 L152.9,1066.3 L155.7,1066.3 L158.8,1066.3 L161.2,1066.3 L163.6,1066.3 L166.0,1066.3 L169.0,1066.3 L172.4,1066.3 L174.8,1066.3 L176.7,1066.3 L179.0,1066.3 L181.4,1066.3 L183.8,1066.3 L186.2,1066.3 L188.1,1066.3 L190.5,1066.3 L193.3,1066.3 L196.9,1066.3 L200.5,1066.3 L202.9,1066.3 L205.2,1066.3 L207.6,1066.3 L210.0,1066.3 L212.4,1066.3 L214.8,1066.3 L217.1,1066.3 L219.5,1066.3 L222.4,1066.3 L225.5,1066.3 L227.9,1066.3 L229.5,1066.3 L231.4,1066.3 L233.8,1066.3 L236.2,1066.3 L238.6,1066.3 L241.4,1066.3 L244.5,1066.3 L246.2,1066.3 L249.3,1066.3 L251.7,1066.3 L254.8,1066.3 L257.1,1066.3 L259.5,1066.3 L261.9,1066.3 L264.3,1066.3 L267.1,1066.3 L269.5,1066.3 L271.9,1066.3 L274.8,1066.3 L277.9,1066.3 L280.2,1066.3 L283.3,1066.3 L286.2,1066.3 L288.6,1066.3 L291.0,1066.3 L292.9,1066.3 L295.7,1066.3 L297.6,1066.3 L300.0,1066.3 L302.4,1066.3 L305.2,1066.3 L308.1,1066.3 L310.0,1066.3 L311.9,1066.3 L313.8,1066.3 L315.5,1066.3 L317.1,1066.3 L319.0,1066.3 L321.4,1066.3 L323.3,1066.3 L325.0,1075.2 L326.7,1066.3 L328.6,1066.3 L330.5,1066.3 L332.9,1066.3 L335.7,1066.3 L337.6,1066.3 L339.3,1066.3 L341.0,1066.3 L342.9,1066.3 L344.8,1066.3 L346.4,1066.3 L348.8,1066.3 L351.2,1066.3 L353.6,1066.3 L356.0,1066.3 L358.3,1066.3 L360.7,1066.3 L363.1,1066.3 L365.5,1066.3 L367.9,1066.3 L370.2,1066.3 L372.6,1066.3 L375.0,1066.3 L377.4,1066.3 L379.8,1066.3 L382.1,1066.3 L383.8,1066.3 L386.2,1066.3 L388.6,1066.3 L390.0,1066.3 L392.9,1066.3 L395.7,1066.3 L397.6,1066.3 L400.0,1066.3 L401.9,1066.3 L403.6,1066.3 L406.0,1066.3 L408.3,1066.3 L410.7,1066.3 L413.1,1066.3 L415.5,1066.3 L417.9,1066.3 L420.2,1066.3 L421.9,1066.3 L423.8,1066.3 L425.7,1066.3 L427.4,1066.3 L429.8,1066.3 L432.1,1066.3 L434.5,1066.3 L436.9,1066.3 L439.3,1066.3 L441.7,1066.3 L444.0,1066.3 L446.4,1066.3 L448.8,1066.3 L451.2,1066.3 L452.9,1066.3 L454.8,1066.3 L457.1,1066.3 L459.0,1066.3 L461.9,1066.3 L464.3,1066.3 L466.7,1066.3 L469.5,1066.3 L471.9,1066.3 L473.8,1066.3 L476.2,1066.3 L478.6,1066.3 L481.0,1066.3 L483.3,1066.3 L485.7,1066.3 L487.6,1066.3 L489.3,1066.3 L491.7,1066.3 L494.0,1066.3 L496.4,1066.3 L498.8,1066.3 L501.2,1066.3 L503.6,1066.3 L506.0,1066.3 L508.3,1066.3 L510.7,1066.3 L513.1,1066.3 L515.5,1066.3 L517.9,1066.3 L520.2,1066.3 L522.6,1066.3 L525.0,1066.3 L527.4,1066.3 L529.8,1066.3 L532.1,1066.3 L534.5,1066.3 L536.9,1066.3 L539.3,1066.3 L541.7,1066.3 L544.0,1066.3 L546.4,1066.3 L548.8,1066.3 L551.2,1066.3 L553.6,1066.3 L556.0,1066.3 L558.3,1066.3 L560.7,1066.3 L563.1,1066.3 L565.5,1066.3 L567.9,1066.3 L569.0,1066.3 L571.4,1066.3 L573.8,1066.3 L576.2,1066.3 L578.6,1066.3 L581.0,1066.3 L583.3,1066.3 L585.7,1066.3 L588.1,1066.3 L590.5,1066.3 L592.9,1066.3 L595.2,1066.3 L598.1,1066.3 L600.0,1066.3 L603.1,1066.3 L605.5,1066.3 L607.1,1066.3 L609.5,1066.3 L611.4,1066.3 L613.8,1066.3 L616.2,1066.3 L618.1,1066.3 L619.8,1066.3 L622.1,1066.3 L623.8,1066.3 L625.7,1066.3 L628.1,1066.3 L630.0,1066.3 L632.4,1066.3 L634.0,1066.3 L635.7,1066.3 L637.6,1066.3 L639.5,1066.3 L641.9,1066.3 L643.6,1066.3 L646.0,1070.5 L648.3,1066.3 L650.7,1066.3 L653.1,1066.3 L655.5,1068.1 L657.9,1072.9 L660.2,1082.4 L662.6,1089.5 L664.3,1103.8 L666.2,1072.9 L668.6,1075.2 L670.5,1082.4 L672.1,1066.3 L674.5,1066.3 L676.2,1066.3 L678.6,1066.3 L681.0,1066.3 L684.0,1066.3 L685.7,1066.3 L688.1,1066.3 L691.2,1066.3 L693.6,1066.3 L695.2,1066.3 L697.6,1066.3 L700.0,1066.3 L702.4,1066.3 L704.3,1066.3 L706.7,1066.3 L709.0,1066.3 L711.4,1066.3 L713.8,1066.3 L715.7,1066.3 L717.4,1066.3 L719.8,1066.3 L722.1,1066.3 L725.2,1066.3 L727.6,1066.3 L730.0,1066.3 L732.1,1066.3 L734.0,1066.3 L736.4,1066.3 L738.8,1066.3 L741.2,1066.3 L743.6,1066.3 L745.2,1066.3 L747.1,1066.3 L749.5,1066.3 L751.4,1066.3 L753.8,1066.3 L756.2,1066.3 L759.0,1066.3 L761.9,1066.3 L765.0,1066.3 L766.7,1066.3 L769.0,1066.3 L771.0,1066.3 L772.9,1066.3 L775.2,1066.3 L778.1,1066.3 L780.5,1066.3 L783.3,1066.3 L785.7,1066.3 L787.6,1066.3 L790.0,1066.3 L792.4,1066.3 L794.8,1066.3 L797.1,1066.3 L799.5,1066.3 L801.9,1082.4 L804.3,1111.0 L806.7,1125.2 L809.0,1106.2 L811.4,1118.1 L814.3,1120.5 L817.4,1096.7 L819.8,1066.3 L822.1,1066.3 L824.5,1066.3 L826.9,1066.3 L829.3,1066.3 L831.7,1066.3 L834.0,1066.3 L836.4,1066.3 L838.8,1066.3 L841.2,1066.3 L844.3,1066.3 L846.7,1066.3 L849.0,1066.3 L851.4,1066.3 L853.1,1066.3 L854.8,1066.3 L856.7,1066.3 L859.0,1066.3 L861.4,1066.3 L863.3,1066.3 L865.7,1066.3 L868.1,1066.3 L870.5,1066.3 L872.9,1066.3 L875.7,1066.3 L878.1,1066.3 L880.5,1066.3 L882.4,1066.3 L884.8,1066.3 L887.6,1066.3 L890.0,1066.3 L891.9,1066.3 L894.3,1066.3 L896.7,1066.3 L898.6,1066.3 L901.0,1066.3 L903.3,1066.3 L905.7,1066.3 L909.0,1066.3 L911.0,1066.3 L913.8,1066.3 L916.2,1066.3 L918.6,1066.3 L921.0,1066.3 L923.3,1066.3 L925.7,1066.3 L927.6,1066.3 L928.8,1066.3 L930.5,1066.3 L932.9,1066.3 L935.2,1066.3 L937.6,1066.3 L940.0,1066.3 L941.9,1066.3 L943.8,1066.3 L946.2,1066.3 L948.6,1066.3 L951.0,1066.3 L952.6,1066.3 L954.3,1066.3 L957.4,1066.3 L959.8,1066.3 L962.1,1066.3 L964.5,1066.3 L966.2,1066.3 L968.1,1066.3 L969.3,1066.3 L971.7,1066.3 L974.0,1066.3 L976.4,1066.3 L978.1,1066.3 L980.0,1066.3 L982.4,1066.3 L984.8,1066.3 L987.1,1066.3 L989.0,1066.3 L991.4,1066.3 L993.8,1066.3 L996.7,1066.3 L999.0,1066.3 L1001.0,1066.3 L1003.3,1066.3 L1005.7,1066.3 L1008.1,1066.3 L1010.5,1066.3 L1012.9,1066.3 L1015.2,1066.3 L1017.6,1066.3 L1020.5,1066.3 L1022.9,1066.3 L1025.2,1066.3 L1027.6,1070.5 L1029.5,1091.9 L1031.9,1082.4 L1034.3,1066.3 L1036.7,1066.3 L1038.3,1066.3 L1040.0,1066.3 L1041.9,1066.3 L1044.3,1066.3 L1046.7,1066.3 L1049.0,1066.3 L1051.4,1066.3 L1053.8,1066.3 L1056.2,1066.3 L1059.0,1066.3 L1061.0,1066.3 L1063.3,1066.3 L1066.2,1066.3 L1068.6,1066.3 L1071.0,1066.3 L1074.0,1066.3 L1077.1,1066.3 L1081.2,1066.3 L1083.6,1066.3 L1087.1,1066.3 L1089.5,1066.3 L1091.9,1066.3 L1094.3,1066.3 L1096.7,1066.3 L1099.5,1066.3 L1101.9,1066.3 L1103.8,1066.3 L1105.7,1066.3 L1108.1,1066.3 L1109.8,1068.1 L1112.1,1070.5 L1114.5,1075.2 L1116.2,1089.5 L1118.1,1068.1 L1120.0,1066.3 L1122.9,1066.3 L1125.2,1066.3 L1127.6,1066.3 L1130.0,1066.3 L1132.4,1066.3 L1134.3,1066.3 L1136.0,1066.3 L1137.6,1066.3 L1139.5,1066.3 L1141.9,1066.3 L1144.3,1066.3 L1146.7,1066.3 L1149.0,1066.3 L1151.4,1066.3 L1153.8,1066.3 L1156.7,1066.3 L1158.6,1066.3 L1161.0,1066.3 L1163.3,1066.3 L1165.7,1066.3 L1168.1,1066.3 L1171.0,1066.3 L1173.3,1066.3 L1175.7,1066.3 L1177.6,1066.3 L1179.5,1066.3 L1180.5,1066.3 L1182.4,1066.3 L1183.8,1066.3 L1186.2,1066.3 L1188.6,1066.3 L1191.0,1066.3 L1193.3,1066.3 L1195.0,1066.3 L1196.7,1066.3 L1198.6,1066.3 L1200.5,1066.3 L1202.9,1066.3 L1205.2,1066.3 L1206.2,1066.3 L1208.6,1066.3 L1211.0,1066.3 L1212.9,1066.3 L1215.2,1066.3 L1217.6,1066.3 L1220.0,1066.3 L1222.4,1066.3 L1224.3,1066.3 L1226.7,1066.3 L1229.0,1066.3 L1231.4,1066.3 L1233.1,1066.3 L1234.8,1066.3 L1236.7,1066.3 L1239.0,1066.3 L1241.4,1066.3 L1243.8,1066.3 L1246.2,1066.3 L1248.6,1066.3 L1251.0,1066.3 L1252.9,1066.3 L1255.2,1066.3 L1257.6,1066.3 L1260.0,1077.6 L1262.9,1094.3 L1265.2,1084.8 L1267.6,1089.5 L1270.0,1066.3 L1272.4,1066.3 L1274.8,1066.3 L1277.1,1066.3 L1279.5,1066.3 L1281.9,1066.3 L1284.3,1066.3 L1286.7,1066.3 L1289.0,1066.3 L1291.4,1066.3 L1293.8,1066.3 L1296.2,1066.3 L1298.6,1066.3 L1301.4,1066.3 L1303.8,1066.3 L1306.2,1066.3 L1308.6,1066.3 L1311.0,1066.3 L1312.9,1066.3 L1315.2,1066.3 L1317.1,1066.3 L1319.5,1066.3 L1321.9,1066.3 L1324.3,1066.3 L1326.7,1066.3 L1329.5,1066.3 L1331.9,1066.3 L1334.3,1091.9 L1336.7,1111.0 L1339.0,1103.8 L1341.0,1108.6 L1342.6,1070.5 L1346.2,1066.3 L1348.6,1066.3 L1351.0,1066.3 L1353.3,1066.3 L1356.2,1066.3 L1358.6,1066.3 L1361.9,1066.3 L1364.0,1066.3 L1366.4,1066.3 L1368.8,1066.3 L1371.2,1066.3 L1373.6,1066.3 L1376.0,1066.3 L1378.3,1066.3 L1380.7,1066.3 L1383.1,1080.0 L1385.5,1066.3 L1387.9,1070.5 L1389.0,1087.1 L1391.4,1070.5 L1393.8,1066.3 L1396.2,1086.0 L1398.6,1066.3 L1401.0,1066.3 L1403.8,1066.3 L1405.7,1066.3 L1408.6,1066.3 L1410.5,1066.3 L1412.9,1066.3 L1415.2,1066.3 L1417.6,1066.3 L1420.0,1066.3 L1422.4,1066.3 L1424.8,1066.3 L1427.1,1066.3 L1429.5,1066.3 L1431.9,1066.3 L1434.3,1066.3 L1436.7,1066.3 L1439.5,1066.3 L1441.9,1066.3 L1444.3,1066.3 L1447.4,1066.3 L1449.8,1066.3 L1452.1,1066.3 L1455.2,1066.3 L1458.1,1066.3 L1460.5,1066.3 L1463.3,1066.3 L1466.4,1066.3 L1468.8,1066.3 L1470.0,1066.3 L1471.4,1066.3 L1473.1,1066.3 L1475.5,1066.3 L1477.1,1066.3 L1479.0,1066.3 L1481.4,1066.3 L1483.3,1066.3 L1485.7,1066.3 L1488.6,1066.3 L1491.0,1066.3 L1493.8,1066.3 L1496.2,1066.3 L1498.1,1066.3 L1500.0,1066.3 L1502.4,1066.3 L1504.0,1066.3 L1505.7,1066.3 L1507.6,1066.3 L1509.3,1066.3 L1511.2,1066.3 L1512.9,1066.3 L1515.2,1066.3 L1517.6,1066.3 L1519.5,1066.3 L1521.4,1066.3 L1523.8,1066.3 L1526.2,1066.3 L1529.0,1066.3 L1531.0,1066.3 L1533.1,1066.3 L1535.0,1066.3 L1537.4,1066.3 L1539.8,1066.3 L1542.1,1066.3 L1543.8,1066.3 L1546.2,1066.3 L1548.6,1066.3 L1550.5,1066.3 L1552.9,1066.3 L1554.3,1066.3 L1555.7,1066.3 L1557.6,1066.3 L1560.0,1066.3 L1562.4,1066.3 L1564.8,1066.3 L1566.7,1066.3 L1569.0,1066.3 L1571.4,1066.3 L1573.8,1066.3 L1576.2,1066.3 L1578.6,1066.3 L1581.0,1066.3 L1582.6,1066.3 L1584.3,1066.3 L1586.7,1066.3 L1589.0,1066.3 L1590.5,1066.3 L1592.9,1066.3 L1594.5,1066.3 L1596.2,1066.3 L1598.1,1066.3 L1600.5,1066.3 L1602.4,1066.3 L1604.0,1066.3 L1606.4,1066.3 L1608.8,1066.3 L1611.2,1066.3 L1612.9,1066.3 L1615.2,1066.3 L1617.6,1066.3 L1620.0,1066.3 L1622.4,1066.3 L1625.5,1066.3 L1627.9,1066.3 L1629.5,1066.3 L1631.9,1066.3 L1633.8,1066.3 L1636.2,1066.3 L1638.6,1066.3 L1641.0,1066.3 L1642.9,1066.3 L1644.5,1066.3 L1646.9,1066.3 L1649.3,1066.3 L1651.7,1066.3 L1654.0,1066.3 L1656.4,1066.3 L1658.8,1066.3 L1661.2,1066.3 L1663.6,1066.3 L1665.2,1066.3 L1667.1,1066.3 L1669.0,1066.3 L1671.4,1066.3 L1673.8,1066.3 L1675.5,1066.3 L1677.9,1066.3 L1680.2,1066.3 L1682.6,1066.3 L1685.0,1066.3 L1687.4,1066.3 L1689.8,1066.3 L1691.4,1066.3 L1693.3,1066.3 L1695.7,1066.3 L1698.1,1066.3 L1700.0,1066.3 L1702.9,1066.3 L1705.2,1066.3 L1707.6,1066.3 L1710.0,1066.3 L1712.4,1066.3 L1714.8,1066.3 L1717.1,1066.3 L1720.0,1066.3 L1721.9,1066.3 L1723.8,1066.3 L1726.2,1066.3 L1728.6,1066.3 L1731.0,1066.3 L1733.3,1066.3 L1735.7,1066.3 L1738.1,1066.3 L1740.5,1066.3 L1742.9,1066.3 L1744.8,1066.3 L1747.6,1066.3 L1750.0,1066.3 L1752.9,1066.3 L1756.4,1066.3 L1758.8,1066.3 L1760.0,1066.3 L1761.4,1066.3 L1763.8,1066.3 L1766.2,1066.3 L1768.6,1066.3 L1770.2,1066.3 L1771.9,1066.3 L1773.8,1066.3 L1776.2,1066.3 L1778.1,1066.3 L1779.8,1066.3 L1781.4,1066.3 L1783.3,1066.3 L1785.2,1066.3 L1786.9,1066.3 L1788.6,1066.3 L1790.5,1066.3 L1792.4,1066.3 L1794.0,1066.3 L1795.7,1066.3 L1797.6,1066.3 L1799.5,1066.3 L1801.9,1066.3 L1804.3,1066.3 L1806.7,1066.3 L1809.0,1066.3 L1811.4,1066.3 L1813.8,1066.3 L1816.2,1066.3 L1818.6,1066.3 L1821.0,1066.3 L1822.6,1066.3 L1824.3,1066.3 L1826.7,1066.3 L1829.0,1066.3 L1831.4,1066.3 L1833.3,1066.3 L1835.7,1066.3 L1838.1,1066.3 L1840.5,1066.3 L1842.4,1066.3 L1844.8,1066.3 L1847.6,1066.3 L1850.0,1066.3 L1852.4,1066.3 L1854.8,1066.3 L1857.1,1066.3 L1859.5,1066.3 L1861.9,1066.3 L1864.3,1066.3 L1866.7,1066.3 L1869.0,1066.3 L1871.4,1066.3 L1873.8,1066.3 L1875.7,1066.3 L1878.1,1066.3 L1880.5,1066.3 L1882.9,1066.3 L1884.8,1066.3 L1886.9,1066.3 L1889.3,1066.3 L1891.7,1066.3 L1894.0,1066.3 L1896.4,1066.3 L1898.8,1066.3 L1901.2,1066.3 L1903.6,1066.3 L1906.0,1066.3 L1908.3,1066.3 L1910.0,1066.3 L1911.9,1066.3 L1913.8,1066.3 L1915.5,1066.3 L1917.9,1066.3 L1920.2,1066.3 L1922.6,1066.3 L1925.0,1066.3 L1927.4,1066.3 L1929.8,1066.3 L1932.1,1066.3 L1934.5,1066.3 L1936.9,1066.3 L1939.3,1066.3 L1941.7,1066.3 L1944.0,1066.3 L1946.4,1066.3 L1948.8,1066.3 L1951.2,1066.3 L1953.6,1066.3 L1955.2,1066.3 L1957.6,1066.3 L1960.0,1066.3 L1961.9,1066.3 L1964.3,1066.3 L1966.7,1066.3 L1969.0,1066.3 L1971.4,1066.3 L1973.8,1066.3 L1976.2,1066.3 L1978.6,1066.3 L1981.0,1066.3 L1983.3,1066.3 L1985.7,1066.3 L1988.1,1066.3 L1990.5,1066.3 L1992.9,1066.3 L1995.2,1066.3 L1997.6,1066.3 L2000.0,1066.3 L2002.4,1066.3 L2004.8,1066.3 L2007.1,1066.3 L2009.5,1066.3 L2011.4,1066.3 L2013.8,1066.3 L2016.2,1066.3 L2018.6,1066.3 L2020.2,1066.3 L2022.6,1066.3 L2025.0,1066.3 L2027.4,1066.3 L2029.8,1066.3 L2032.1,1066.3 L2034.5,1066.3 L2036.9,1066.3 L2039.3,1066.3 L2041.7,1066.3 L2044.0,1066.3 L2046.4,1066.3 L2048.8,1066.3 L2050.0,1066.3 L2051.1,1066.3 L2052.8,1066.3 L2054.7,1066.3 L2056.7,1066.3 L2059.2,1066.3 L2060.9,1066.3 L2063.4,1066.3 L2065.8,1066.3 L2067.5,1066.3 L2069.5,1066.3 L2072.0,1066.3 L2073.9,1066.3 L2076.4,1066.3 L2078.8,1066.3 L2081.3,1066.3 L2083.0,1066.3 L2085.5,1066.3 L2087.2,1066.3 L2089.2,1066.3 L2091.6,1066.3 L2093.6,1066.3 L2095.3,1066.3 L2097.8,1066.3 L2099.5,1066.3 L2101.5,1066.3 L2103.9,1066.3 L2106.4,1066.3 L2108.8,1066.3 L2111.3,1066.3 L2113.3,1066.3 L2115.0,1066.3 L2116.7,1066.3 L2118.2,1066.3 L2119.9,1066.3 L2121.6,1137.1 L2123.6,1117.4 L2126.0,1112.5 L2128.5,1119.9 L2131.0,1119.9 L2132.9,1124.8 L2134.6,1105.2 L2137.1,1095.3 L2139.6,1090.4 L2142.0,1085.5 L2144.5,1066.3 L2146.9,1066.3 L2149.4,1066.3 L2151.8,1066.3 L2154.3,1066.3 L2156.8,1066.3 L2159.2,1068.3 L2161.7,1070.7 L2164.1,1075.7 L2165.9,1066.3 L2168.3,1070.7 L2170.3,1110.1 L2172.7,1124.8 L2175.2,1090.4 L2177.7,1073.2 L2180.1,1078.1 L2182.6,1066.3 L2185.0,1066.3 L2187.5,1066.3 L2190.0,1066.3 L2192.4,1066.3 L2194.4,1066.3 L2196.8,1066.3 L2199.3,1066.3 L2201.8,1066.3 L2204.2,1066.3 L2206.7,1066.3 L2209.1,1066.3 L2211.6,1066.3 L2214.0,1066.3 L2216.5,1066.3 L2219.0,1066.3 L2221.4,1066.3 L2223.1,1066.3 L2225.6,1066.3 L2228.1,1066.3 L2230.5,1066.3 L2232.2,1066.3 L2234.7,1066.3 L2237.9,1066.3 L2240.3,1066.3 L2242.8,1066.3 L2244.5,1066.3 L2246.5,1066.3 L2248.9,1066.3 L2251.4,1066.3 L2253.4,1066.3 L2255.8,1066.3 L2258.3,1066.3 L2260.0,1066.3 L2262.5,1066.3 L2264.9,1066.3 L2267.4,1066.3 L2269.8,1066.3 L2272.3,1066.3 L2274.8,1066.3 L2277.2,1066.3 L2279.7,1066.3 L2282.1,1066.3 L2284.6,1066.3 L2287.1,1066.3 L2289.5,1066.3 L2292.0,1066.3 L2293.7,1066.3 L2295.7,1066.3 L2298.1,1066.3 L2300.6,1066.3 L2302.5,1066.3 L2302.5,1066.3 L15.2,1066.3 Z" fill="url(#gos)"/>
<path d="M15.2,1063.3 L16.7,1070.5 L18.3,1046.7 L20.0,1075.2 L21.4,1034.8 L23.1,1025.2 L24.3,1011.0 L26.2,1027.6 L27.9,1011.0 L29.5,1006.2 L31.4,991.9 L32.6,1032.4 L34.3,1083.6 L36.2,1058.6 L38.6,1053.8 L40.5,1034.8 L42.1,1009.8 L44.5,1025.2 L46.9,1034.8 L48.6,1027.6 L50.5,1053.8 L52.9,1049.0 L55.2,1039.5 L57.1,1049.0 L59.5,1022.9 L61.2,1049.0 L62.9,996.7 L65.2,991.9 L67.6,977.6 L69.5,991.9 L71.9,975.2 L74.3,982.4 L76.2,996.7 L77.9,1032.4 L79.5,1074.0 L81.4,1037.1 L83.8,1058.6 L86.2,1049.0 L89.8,1049.0 L93.3,1049.0 L95.7,1051.4 L97.6,1020.5 L99.3,1003.8 L101.0,1015.7 L102.9,1025.2 L105.2,1018.1 L107.6,965.7 L109.5,961.0 L111.2,1001.4 L113.6,1039.5 L115.2,1068.1 L118.3,1080.0 L121.9,1094.3 L124.3,1101.4 L126.2,1122.9 L127.9,1096.7 L129.5,1108.6 L131.4,1039.5 L133.8,1041.9 L136.2,1020.5 L138.6,1037.1 L141.0,1061.0 L143.3,1018.1 L145.7,1008.6 L148.1,977.6 L150.5,982.4 L152.9,977.6 L155.7,982.4 L158.8,975.2 L161.2,984.8 L163.6,1003.8 L166.0,991.9 L169.0,996.7 L172.4,1015.7 L174.8,982.4 L176.7,953.8 L179.0,972.9 L181.4,956.2 L183.8,972.9 L186.2,944.3 L188.1,932.4 L190.5,913.3 L193.3,913.3 L196.9,901.4 L200.5,908.6 L202.9,908.6 L205.2,937.1 L207.6,961.0 L210.0,949.0 L212.4,963.3 L214.8,984.8 L217.1,1011.0 L219.5,982.4 L222.4,956.2 L225.5,953.8 L227.9,949.0 L229.5,934.8 L231.4,984.8 L233.8,999.0 L236.2,1003.8 L238.6,1013.3 L241.4,1006.2 L244.5,1006.2 L246.2,996.7 L249.3,977.6 L251.7,991.9 L254.8,1041.9 L257.1,984.8 L259.5,1015.7 L261.9,1039.5 L264.3,1051.4 L267.1,1065.7 L269.5,1011.0 L271.9,1018.1 L274.8,996.7 L277.9,1020.5 L280.2,1018.1 L283.3,999.0 L286.2,1011.0 L288.6,1003.8 L291.0,1018.1 L292.9,991.9 L295.7,991.9 L297.6,1011.0 L300.0,953.8 L302.4,972.9 L305.2,977.6 L308.1,953.8 L310.0,951.4 L311.9,972.9 L313.8,965.7 L315.5,975.2 L317.1,987.1 L319.0,1020.5 L321.4,1034.8 L323.3,1044.3 L325.0,1075.2 L326.7,1039.5 L328.6,1058.6 L330.5,1041.9 L332.9,1039.5 L335.7,1041.9 L337.6,982.4 L339.3,970.5 L341.0,977.6 L342.9,958.6 L344.8,963.3 L346.4,930.0 L348.8,908.6 L351.2,903.8 L353.6,899.0 L356.0,889.5 L358.3,889.5 L360.7,901.4 L363.1,927.6 L365.5,934.8 L367.9,946.7 L370.2,937.1 L372.6,922.9 L375.0,937.1 L377.4,925.2 L379.8,930.0 L382.1,934.8 L383.8,970.5 L386.2,953.8 L388.6,951.4 L390.0,970.5 L392.9,946.7 L395.7,939.5 L397.6,972.9 L400.0,961.0 L401.9,965.7 L403.6,1013.3 L406.0,1020.5 L408.3,1030.0 L410.7,1046.7 L413.1,1027.6 L415.5,1041.9 L417.9,1046.7 L420.2,1053.8 L421.9,1001.4 L423.8,996.7 L425.7,991.9 L427.4,1025.2 L429.8,991.9 L432.1,984.8 L434.5,980.0 L436.9,977.6 L439.3,972.9 L441.7,977.6 L444.0,1022.9 L446.4,996.7 L448.8,982.4 L451.2,1011.0 L452.9,1032.4 L454.8,996.7 L457.1,999.0 L459.0,965.7 L461.9,963.3 L464.3,958.6 L466.7,946.7 L469.5,961.0 L471.9,946.7 L473.8,982.4 L476.2,994.3 L478.6,958.6 L481.0,932.4 L483.3,925.2 L485.7,915.7 L487.6,859.8 L489.3,920.5 L491.7,913.3 L494.0,918.1 L496.4,915.7 L498.8,930.0 L501.2,927.6 L503.6,901.4 L506.0,889.5 L508.3,894.3 L510.7,887.1 L513.1,915.7 L515.5,911.0 L517.9,918.1 L520.2,899.0 L522.6,877.6 L525.0,901.4 L527.4,901.4 L529.8,906.2 L532.1,937.1 L534.5,932.4 L536.9,949.0 L539.3,956.2 L541.7,944.3 L544.0,951.4 L546.4,972.9 L548.8,951.4 L551.2,937.1 L553.6,958.6 L556.0,953.8 L558.3,991.9 L560.7,956.2 L563.1,963.3 L565.5,1046.7 L567.9,1039.5 L569.0,1061.0 L571.4,1046.7 L573.8,1032.4 L576.2,1011.0 L578.6,1027.6 L581.0,1001.4 L583.3,987.1 L585.7,1013.3 L588.1,1006.2 L590.5,970.5 L592.9,968.1 L595.2,982.4 L598.1,927.6 L600.0,946.7 L603.1,963.3 L605.5,941.9 L607.1,958.6 L609.5,984.8 L611.4,996.7 L613.8,1013.3 L616.2,1006.2 L618.1,1001.4 L619.8,1015.7 L622.1,987.1 L623.8,972.9 L625.7,999.0 L628.1,996.7 L630.0,991.9 L632.4,972.9 L634.0,984.8 L635.7,1011.0 L637.6,1003.8 L639.5,1022.9 L641.9,1027.6 L643.6,1063.3 L646.0,1070.5 L648.3,1056.2 L650.7,1061.0 L653.1,1061.0 L655.5,1068.1 L657.9,1072.9 L660.2,1082.4 L662.6,1089.5 L664.3,1103.8 L666.2,1072.9 L668.6,1075.2 L670.5,1082.4 L672.1,1061.0 L674.5,1044.3 L676.2,1013.3 L678.6,1034.8 L681.0,1013.3 L684.0,1015.7 L685.7,1020.5 L688.1,994.3 L691.2,987.1 L693.6,1008.6 L695.2,1022.9 L697.6,982.4 L700.0,944.3 L702.4,939.5 L704.3,901.4 L706.7,889.5 L709.0,884.8 L711.4,887.1 L713.8,875.2 L715.7,866.9 L717.4,908.6 L719.8,984.8 L722.1,1063.3 L725.2,1056.2 L727.6,1022.9 L730.0,1020.5 L732.1,1051.4 L734.0,1025.2 L736.4,1011.0 L738.8,1015.7 L741.2,1006.2 L743.6,1020.5 L745.2,1006.2 L747.1,1018.1 L749.5,1011.0 L751.4,984.8 L753.8,991.9 L756.2,982.4 L759.0,953.8 L761.9,939.5 L765.0,930.0 L766.7,896.7 L769.0,890.7 L771.0,884.8 L772.9,903.8 L775.2,934.8 L778.1,980.0 L780.5,959.8 L783.3,965.7 L785.7,984.8 L787.6,972.9 L790.0,1001.4 L792.4,1039.5 L794.8,1027.6 L797.1,1053.8 L799.5,1065.7 L801.9,1082.4 L804.3,1111.0 L806.7,1125.2 L809.0,1106.2 L811.4,1118.1 L814.3,1120.5 L817.4,1096.7 L819.8,1058.6 L822.1,1025.2 L824.5,1049.0 L826.9,1053.8 L829.3,1037.1 L831.7,1013.3 L834.0,1015.7 L836.4,1027.6 L838.8,1063.3 L841.2,1032.4 L844.3,1039.5 L846.7,996.7 L849.0,999.0 L851.4,1011.0 L853.1,1025.2 L854.8,1037.1 L856.7,1013.3 L859.0,1020.5 L861.4,1034.8 L863.3,1049.0 L865.7,1056.2 L868.1,1037.1 L870.5,982.4 L872.9,970.5 L875.7,945.5 L878.1,953.8 L880.5,991.9 L882.4,982.4 L884.8,972.9 L887.6,991.9 L890.0,1018.1 L891.9,996.7 L894.3,994.3 L896.7,1015.7 L898.6,1034.8 L901.0,1003.8 L903.3,1001.4 L905.7,977.6 L909.0,963.3 L911.0,972.9 L913.8,982.4 L916.2,984.8 L918.6,975.2 L921.0,977.6 L923.3,972.9 L925.7,987.1 L927.6,1011.0 L928.8,1020.5 L930.5,996.7 L932.9,996.7 L935.2,982.4 L937.6,1003.8 L940.0,984.8 L941.9,963.3 L943.8,949.0 L946.2,972.9 L948.6,963.3 L951.0,963.3 L952.6,987.1 L954.3,958.6 L957.4,931.2 L959.8,944.3 L962.1,963.3 L964.5,987.1 L966.2,996.7 L968.1,994.3 L969.3,1020.5 L971.7,996.7 L974.0,1001.4 L976.4,1018.1 L978.1,1027.6 L980.0,1018.1 L982.4,1027.6 L984.8,941.9 L987.1,949.0 L989.0,946.7 L991.4,958.6 L993.8,941.9 L996.7,956.2 L999.0,941.9 L1001.0,932.4 L1003.3,949.0 L1005.7,937.1 L1008.1,907.4 L1010.5,932.4 L1012.9,1018.1 L1015.2,1020.5 L1017.6,1027.6 L1020.5,1034.8 L1022.9,1006.2 L1025.2,1020.5 L1027.6,1070.5 L1029.5,1091.9 L1031.9,1082.4 L1034.3,1049.0 L1036.7,1065.7 L1038.3,1015.7 L1040.0,1022.9 L1041.9,1003.8 L1044.3,1034.8 L1046.7,1018.1 L1049.0,1008.6 L1051.4,987.1 L1053.8,972.9 L1056.2,958.6 L1059.0,987.1 L1061.0,958.6 L1063.3,941.9 L1066.2,925.2 L1068.6,932.4 L1071.0,934.8 L1074.0,927.6 L1077.1,925.2 L1081.2,922.9 L1083.6,939.5 L1087.1,937.1 L1089.5,925.2 L1091.9,941.9 L1094.3,980.0 L1096.7,1049.0 L1099.5,1001.4 L1101.9,1006.2 L1103.8,1053.8 L1105.7,1003.8 L1108.1,1039.5 L1109.8,1068.1 L1112.1,1070.5 L1114.5,1075.2 L1116.2,1089.5 L1118.1,1068.1 L1120.0,1065.7 L1122.9,1037.1 L1125.2,1039.5 L1127.6,1022.9 L1130.0,1022.9 L1132.4,1015.7 L1134.3,1032.4 L1136.0,1003.8 L1137.6,1037.1 L1139.5,1056.2 L1141.9,999.0 L1144.3,1003.8 L1146.7,999.0 L1149.0,1001.4 L1151.4,1018.1 L1153.8,994.3 L1156.7,958.6 L1158.6,980.0 L1161.0,958.6 L1163.3,956.2 L1165.7,963.3 L1168.1,972.9 L1171.0,987.1 L1173.3,975.2 L1175.7,961.0 L1177.6,922.9 L1179.5,894.3 L1180.5,894.3 L1182.4,901.4 L1183.8,932.4 L1186.2,920.5 L1188.6,908.6 L1191.0,920.5 L1193.3,932.4 L1195.0,958.6 L1196.7,963.3 L1198.6,987.1 L1200.5,961.0 L1202.9,965.7 L1205.2,968.1 L1206.2,999.0 L1208.6,982.4 L1211.0,977.6 L1212.9,972.9 L1215.2,991.9 L1217.6,1020.5 L1220.0,1025.2 L1222.4,1053.8 L1224.3,1065.7 L1226.7,1039.5 L1229.0,991.9 L1231.4,965.7 L1233.1,987.1 L1234.8,999.0 L1236.7,970.5 L1239.0,968.1 L1241.4,982.4 L1243.8,968.1 L1246.2,963.3 L1248.6,975.2 L1251.0,1039.5 L1252.9,1001.4 L1255.2,1058.6 L1257.6,1065.7 L1260.0,1077.6 L1262.9,1094.3 L1265.2,1084.8 L1267.6,1089.5 L1270.0,1020.5 L1272.4,1003.8 L1274.8,982.4 L1277.1,987.1 L1279.5,961.0 L1281.9,949.0 L1284.3,958.6 L1286.7,944.3 L1289.0,951.4 L1291.4,953.8 L1293.8,972.9 L1296.2,949.0 L1298.6,963.3 L1301.4,963.3 L1303.8,968.1 L1306.2,965.7 L1308.6,982.4 L1311.0,994.3 L1312.9,991.9 L1315.2,996.7 L1317.1,1003.8 L1319.5,982.4 L1321.9,972.9 L1324.3,1011.0 L1326.7,994.3 L1329.5,1008.6 L1331.9,1032.4 L1334.3,1091.9 L1336.7,1111.0 L1339.0,1103.8 L1341.0,1108.6 L1342.6,1070.5 L1346.2,1058.6 L1348.6,1025.2 L1351.0,996.7 L1353.3,1003.8 L1356.2,1039.5 L1358.6,1015.7 L1361.9,996.7 L1364.0,1018.1 L1366.4,1058.6 L1368.8,1034.8 L1371.2,1032.4 L1373.6,1022.9 L1376.0,1037.1 L1378.3,1041.9 L1380.7,1058.6 L1383.1,1080.0 L1385.5,1061.0 L1387.9,1070.5 L1389.0,1087.1 L1391.4,1070.5 L1393.8,1051.4 L1396.2,1086.0 L1398.6,1006.2 L1401.0,999.0 L1403.8,977.6 L1405.7,1001.4 L1408.6,1013.3 L1410.5,996.7 L1412.9,959.8 L1415.2,972.9 L1417.6,970.5 L1420.0,1001.4 L1422.4,984.8 L1424.8,975.2 L1427.1,980.0 L1429.5,996.7 L1431.9,980.0 L1434.3,977.6 L1436.7,975.2 L1439.5,970.5 L1441.9,982.4 L1444.3,989.5 L1447.4,1001.4 L1449.8,994.3 L1452.1,987.1 L1455.2,970.5 L1458.1,980.0 L1460.5,1006.2 L1463.3,1011.0 L1466.4,1027.6 L1468.8,996.7 L1470.0,991.9 L1471.4,994.3 L1473.1,1013.3 L1475.5,1008.6 L1477.1,1006.2 L1479.0,972.9 L1481.4,968.1 L1483.3,982.4 L1485.7,963.3 L1488.6,956.2 L1491.0,968.1 L1493.8,965.7 L1496.2,968.1 L1498.1,961.0 L1500.0,991.9 L1502.4,975.2 L1504.0,963.3 L1505.7,908.6 L1507.6,932.4 L1509.3,951.4 L1511.2,939.5 L1512.9,951.4 L1515.2,920.5 L1517.6,901.4 L1519.5,899.0 L1521.4,913.3 L1523.8,899.0 L1526.2,906.2 L1529.0,915.7 L1531.0,941.9 L1533.1,1001.4 L1535.0,965.7 L1537.4,953.8 L1539.8,958.6 L1542.1,949.0 L1543.8,965.7 L1546.2,956.2 L1548.6,932.4 L1550.5,922.9 L1552.9,930.0 L1554.3,915.7 L1555.7,951.4 L1557.6,977.6 L1560.0,949.0 L1562.4,1001.4 L1564.8,994.3 L1566.7,1011.0 L1569.0,991.9 L1571.4,977.6 L1573.8,958.6 L1576.2,949.0 L1578.6,944.3 L1581.0,946.7 L1582.6,949.0 L1584.3,1008.6 L1586.7,1034.8 L1589.0,1022.9 L1590.5,1008.6 L1592.9,932.4 L1594.5,951.4 L1596.2,941.9 L1598.1,949.0 L1600.5,991.9 L1602.4,934.8 L1604.0,949.0 L1606.4,972.9 L1608.8,984.8 L1611.2,987.1 L1612.9,996.7 L1615.2,1018.1 L1617.6,1011.0 L1620.0,1015.7 L1622.4,1013.3 L1625.5,996.7 L1627.9,1003.8 L1629.5,982.4 L1631.9,1008.6 L1633.8,968.1 L1636.2,953.8 L1638.6,946.7 L1641.0,899.0 L1642.9,887.1 L1644.5,884.8 L1646.9,872.9 L1649.3,891.9 L1651.7,884.8 L1654.0,896.7 L1656.4,908.6 L1658.8,906.2 L1661.2,911.0 L1663.6,956.2 L1665.2,949.0 L1667.1,968.1 L1669.0,987.1 L1671.4,968.1 L1673.8,977.6 L1675.5,991.9 L1677.9,961.0 L1680.2,982.4 L1682.6,972.9 L1685.0,984.8 L1687.4,996.7 L1689.8,1018.1 L1691.4,1039.5 L1693.3,1008.6 L1695.7,1001.4 L1698.1,999.0 L1700.0,1006.2 L1702.9,956.2 L1705.2,956.2 L1707.6,984.8 L1710.0,1018.1 L1712.4,987.1 L1714.8,956.2 L1717.1,953.8 L1720.0,937.1 L1721.9,963.3 L1723.8,1015.7 L1726.2,968.1 L1728.6,970.5 L1731.0,961.0 L1733.3,965.7 L1735.7,932.4 L1738.1,944.3 L1740.5,946.7 L1742.9,956.2 L1744.8,939.5 L1747.6,958.6 L1750.0,1001.4 L1752.9,984.8 L1756.4,977.6 L1758.8,982.4 L1760.0,987.1 L1761.4,975.2 L1763.8,980.0 L1766.2,1025.2 L1768.6,1030.0 L1770.2,1032.4 L1771.9,1015.7 L1773.8,1018.1 L1776.2,1018.1 L1778.1,1034.8 L1779.8,1030.0 L1781.4,996.7 L1783.3,968.1 L1785.2,968.1 L1786.9,1006.2 L1788.6,968.1 L1790.5,977.6 L1792.4,956.2 L1794.0,937.1 L1795.7,884.8 L1797.6,881.2 L1799.5,899.0 L1801.9,896.7 L1804.3,911.0 L1806.7,906.2 L1809.0,918.1 L1811.4,920.5 L1813.8,930.0 L1816.2,941.9 L1818.6,922.9 L1821.0,906.2 L1822.6,896.7 L1824.3,939.5 L1826.7,951.4 L1829.0,946.7 L1831.4,951.4 L1833.3,975.2 L1835.7,963.3 L1838.1,965.7 L1840.5,968.1 L1842.4,982.4 L1844.8,968.1 L1847.6,968.1 L1850.0,977.6 L1852.4,982.4 L1854.8,1039.5 L1857.1,1022.9 L1859.5,1025.2 L1861.9,1018.1 L1864.3,1006.2 L1866.7,982.4 L1869.0,972.9 L1871.4,975.2 L1873.8,958.6 L1875.7,939.5 L1878.1,953.8 L1880.5,941.9 L1882.9,944.3 L1884.8,963.3 L1886.9,1013.3 L1889.3,1003.8 L1891.7,999.0 L1894.0,1003.8 L1896.4,1037.1 L1898.8,1032.4 L1901.2,996.7 L1903.6,996.7 L1906.0,982.4 L1908.3,961.0 L1910.0,965.7 L1911.9,996.7 L1913.8,968.1 L1915.5,1015.7 L1917.9,963.3 L1920.2,913.3 L1922.6,930.0 L1925.0,932.4 L1927.4,980.0 L1929.8,972.9 L1932.1,972.9 L1934.5,927.6 L1936.9,906.2 L1939.3,932.4 L1941.7,958.6 L1944.0,999.0 L1946.4,1011.0 L1948.8,987.1 L1951.2,984.8 L1953.6,970.5 L1955.2,968.1 L1957.6,965.7 L1960.0,984.8 L1961.9,1001.4 L1964.3,987.1 L1966.7,999.0 L1969.0,987.1 L1971.4,989.5 L1973.8,987.1 L1976.2,996.7 L1978.6,1011.0 L1981.0,1018.1 L1983.3,975.2 L1985.7,982.4 L1988.1,1034.8 L1990.5,1037.1 L1992.9,1034.8 L1995.2,1039.5 L1997.6,1046.7 L2000.0,1039.5 L2002.4,1049.0 L2004.8,1044.3 L2007.1,1034.8 L2009.5,1032.4 L2011.4,1039.5 L2013.8,1058.6 L2016.2,1001.4 L2018.6,987.1 L2020.2,999.0 L2022.6,1039.5 L2025.0,1064.5 L2027.4,1020.5 L2029.8,996.7 L2032.1,1001.4 L2034.5,989.5 L2036.9,1006.2 L2039.3,1001.4 L2041.7,996.7 L2044.0,987.1 L2046.4,972.9 L2048.8,961.0 L2050.0,961.0 L2051.1,961.3 L2052.8,992.1 L2054.7,1011.7 L2056.7,972.4 L2059.2,982.2 L2060.9,1011.7 L2063.4,982.2 L2065.8,972.4 L2067.5,960.1 L2069.5,952.7 L2072.0,955.2 L2073.9,950.3 L2076.4,947.8 L2078.8,955.2 L2081.3,977.3 L2083.0,962.6 L2085.5,903.6 L2087.2,879.0 L2089.2,911.0 L2091.6,923.2 L2093.6,950.3 L2095.3,918.3 L2097.8,935.5 L2099.5,950.3 L2101.5,955.2 L2103.9,957.7 L2106.4,967.5 L2108.8,972.4 L2111.3,992.1 L2113.3,994.5 L2115.0,977.3 L2116.7,965.0 L2118.2,992.1 L2119.9,1053.5 L2121.6,1137.1 L2123.6,1117.4 L2126.0,1112.5 L2128.5,1119.9 L2131.0,1119.9 L2132.9,1124.8 L2134.6,1105.2 L2137.1,1095.3 L2139.6,1090.4 L2142.0,1085.5 L2144.5,1060.9 L2146.9,1056.0 L2149.4,1058.4 L2151.8,1056.0 L2154.3,1041.2 L2156.8,1053.5 L2159.2,1068.3 L2161.7,1070.7 L2164.1,1075.7 L2165.9,1058.4 L2168.3,1070.7 L2170.3,1110.1 L2172.7,1124.8 L2175.2,1090.4 L2177.7,1073.2 L2180.1,1078.1 L2182.6,1065.8 L2185.0,1051.1 L2187.5,1006.8 L2190.0,977.3 L2192.4,967.5 L2194.4,950.3 L2196.8,984.7 L2199.3,967.5 L2201.8,977.3 L2204.2,965.0 L2206.7,989.6 L2209.1,967.5 L2211.6,967.5 L2214.0,977.3 L2216.5,970.0 L2219.0,957.7 L2221.4,977.3 L2223.1,1004.4 L2225.6,972.4 L2228.1,984.7 L2230.5,947.8 L2232.2,935.5 L2234.7,947.8 L2237.9,938.0 L2240.3,923.2 L2242.8,896.2 L2244.5,847.0 L2246.5,827.4 L2248.9,847.0 L2251.4,837.2 L2253.4,852.0 L2255.8,859.3 L2258.3,864.2 L2260.0,923.2 L2262.5,920.8 L2264.9,913.4 L2267.4,903.6 L2269.8,901.1 L2272.3,935.5 L2274.8,923.2 L2277.2,908.5 L2279.7,896.2 L2282.1,918.3 L2284.6,898.7 L2287.1,901.1 L2289.5,898.7 L2292.0,886.4 L2293.7,879.0 L2295.7,923.2 L2298.1,928.2 L2300.6,940.5 L2302.5,936.8" fill="none" stroke="#7e57c2" stroke-width="1.6" stroke-linejoin="round"/>
<path d="M15.2,1077.6 C16.0,1076.4 18.0,1074.0 19.5,1070.5 C21.0,1066.9 22.7,1060.6 24.3,1056.2 C25.9,1051.8 27.7,1047.3 29.0,1044.3 C30.4,1041.3 31.0,1039.7 32.6,1038.3 C34.2,1036.9 36.8,1037.1 38.6,1036.0 C40.4,1034.8 41.7,1031.4 43.3,1031.2 C44.9,1031.0 46.3,1033.0 48.1,1034.8 C49.9,1036.5 52.1,1041.9 54.0,1041.9 C56.0,1041.9 58.0,1036.3 60.0,1034.8 C62.0,1033.2 64.0,1035.2 66.0,1032.4 C67.9,1029.6 69.9,1022.7 71.9,1018.1 C73.9,1013.5 75.9,1006.2 77.9,1005.0 C79.8,1003.8 81.6,1007.2 83.8,1011.0 C86.0,1014.7 88.6,1021.9 91.0,1027.6 C93.3,1033.4 95.9,1043.9 98.1,1045.5 C100.3,1047.1 102.5,1040.1 104.0,1037.1 C105.6,1034.2 106.2,1030.8 107.6,1027.6 C109.0,1024.4 110.8,1018.9 112.4,1018.1 C114.0,1017.3 115.6,1019.3 117.1,1022.9 C118.7,1026.4 120.3,1033.6 121.9,1039.5 C123.5,1045.5 125.3,1053.0 126.7,1058.6 C128.1,1064.1 129.0,1069.5 130.2,1072.9 C131.4,1076.2 132.4,1078.8 133.8,1078.8 C135.2,1078.8 136.8,1076.2 138.6,1072.9 C140.4,1069.5 142.5,1065.3 144.5,1058.6 C146.5,1051.8 148.7,1040.3 150.5,1032.4 C152.3,1024.4 153.7,1016.9 155.2,1011.0 C156.8,1005.0 158.2,1001.0 160.0,996.7 C161.8,992.3 163.6,986.0 166.0,984.8 C168.3,983.6 171.7,989.5 174.3,989.5 C176.9,989.5 179.4,986.7 181.4,984.8 C183.4,982.8 184.6,982.4 186.2,977.6 C187.8,972.9 189.0,962.5 191.0,956.2 C192.9,949.8 196.1,943.9 198.1,939.5 C200.1,935.2 201.3,933.0 202.9,930.0 C204.4,927.0 206.0,922.5 207.6,921.7 C209.2,920.9 210.8,921.9 212.4,925.2 C214.0,928.6 215.6,936.0 217.1,941.9 C218.7,947.9 219.7,956.6 221.9,961.0 C224.1,965.3 227.9,964.9 230.2,968.1 C232.6,971.3 234.2,977.2 236.2,980.0 C238.2,982.8 240.2,982.4 242.1,984.8 C244.1,987.1 245.9,991.1 248.1,994.3 C250.3,997.5 253.3,1002.2 255.2,1003.8 C257.2,1005.4 258.0,1001.4 260.0,1003.8 C262.0,1006.2 265.0,1014.7 267.1,1018.1 C269.3,1021.5 271.5,1023.5 273.1,1024.0 C274.7,1024.6 275.3,1021.5 276.7,1021.7 C278.1,1021.9 279.8,1025.8 281.4,1025.2 C283.0,1024.6 284.6,1020.7 286.2,1018.1 C287.8,1015.5 289.0,1011.9 291.0,1009.8 C292.9,1007.6 295.7,1008.4 298.1,1005.0 C300.5,1001.6 303.3,993.5 305.2,989.5 C307.2,985.6 308.9,983.2 310.0,981.2 C311.1,979.2 310.6,979.0 311.9,977.6 C313.2,976.2 316.1,971.3 317.9,972.9 C319.6,974.4 321.0,982.0 322.6,987.1 C324.2,992.3 325.8,998.3 327.4,1003.8 C329.0,1009.4 330.4,1015.9 332.1,1020.5 C333.9,1025.0 336.3,1031.2 338.1,1031.2 C339.9,1031.2 341.3,1027.8 342.9,1020.5 C344.4,1013.1 346.0,998.3 347.6,987.1 C349.2,976.0 350.6,964.5 352.4,953.8 C354.2,943.1 356.2,930.2 358.3,922.9 C360.5,915.5 363.3,911.0 365.5,909.8 C367.7,908.6 369.2,912.7 371.4,915.7 C373.6,918.7 376.2,923.7 378.6,927.6 C381.0,931.6 382.9,936.7 385.7,939.5 C388.5,942.3 392.5,941.5 395.2,944.3 C398.0,947.1 400.4,951.8 402.4,956.2 C404.4,960.6 405.2,965.3 407.1,970.5 C409.1,975.6 412.1,979.6 414.3,987.1 C416.5,994.7 418.5,1009.2 420.2,1015.7 C422.0,1022.3 423.4,1025.6 425.0,1026.4 C426.6,1027.2 428.0,1023.5 429.8,1020.5 C431.5,1017.5 433.5,1012.9 435.7,1008.6 C437.9,1004.2 440.7,996.9 442.9,994.3 C445.0,991.7 446.4,992.3 448.8,993.1 C451.2,993.9 454.2,1000.0 457.1,999.0 C460.1,998.1 463.5,991.5 466.7,987.1 C469.8,982.8 473.0,978.8 476.2,972.9 C479.4,966.9 482.5,957.8 485.7,951.4 C488.9,945.1 492.5,939.9 495.2,934.8 C498.0,929.6 500.0,924.6 502.4,920.5 C504.8,916.3 506.7,911.7 509.5,909.8 C512.3,907.8 516.3,910.4 519.0,908.6 C521.8,906.8 523.8,899.4 526.2,899.0 C528.6,898.7 531.0,902.6 533.3,906.2 C535.7,909.8 538.1,915.3 540.5,920.5 C542.9,925.6 545.2,932.0 547.6,937.1 C550.0,942.3 552.4,947.5 554.8,951.4 C557.1,955.4 559.9,956.6 561.9,961.0 C563.9,965.3 564.7,970.1 566.7,977.6 C568.7,985.2 571.6,999.4 573.8,1006.2 C576.0,1012.9 577.8,1015.3 579.8,1018.1 C581.7,1020.9 583.5,1025.2 585.7,1022.9 C587.9,1020.5 590.5,1010.2 592.9,1003.8 C595.2,997.5 598.5,989.1 600.0,984.8 C601.5,980.4 600.1,980.6 601.9,977.6 C603.7,974.6 608.6,967.3 611.0,966.9 C613.3,966.5 614.1,971.9 616.2,975.2 C618.3,978.6 621.2,983.6 623.3,987.1 C625.5,990.7 627.1,995.3 629.3,996.7 C631.5,998.1 634.2,994.7 636.4,995.5 C638.6,996.3 640.2,997.3 642.4,1001.4 C644.6,1005.6 647.1,1013.7 649.5,1020.5 C651.9,1027.2 654.3,1033.6 656.7,1041.9 C659.0,1050.2 661.4,1064.9 663.8,1070.5 C666.2,1076.0 668.6,1076.0 671.0,1075.2 C673.3,1074.4 675.7,1070.9 678.1,1065.7 C680.5,1060.6 682.9,1051.8 685.2,1044.3 C687.6,1036.7 690.0,1028.4 692.4,1020.5 C694.8,1012.5 697.1,1005.4 699.5,996.7 C701.9,987.9 704.5,977.6 706.7,968.1 C708.8,958.6 710.6,948.5 712.6,939.5 C714.6,930.6 716.8,915.7 718.6,914.5 C720.4,913.3 721.7,924.2 723.3,932.4 C724.9,940.5 726.5,953.8 728.1,963.3 C729.7,972.9 731.3,980.4 732.9,989.5 C734.4,998.7 736.0,1011.0 737.6,1018.1 C739.2,1025.2 740.8,1032.0 742.4,1032.4 C744.0,1032.8 745.2,1024.0 747.1,1020.5 C749.1,1016.9 751.9,1014.9 754.3,1011.0 C756.7,1007.0 759.0,1003.8 761.4,996.7 C763.8,989.5 766.2,979.2 768.6,968.1 C771.0,957.0 773.7,936.9 775.7,930.0 C777.7,923.1 778.5,924.8 780.5,926.4 C782.5,928.0 785.2,931.8 787.6,939.5 C790.0,947.3 792.4,959.4 794.8,972.9 C797.1,986.3 799.5,1006.2 801.9,1020.5 C804.3,1034.8 806.9,1046.7 809.0,1058.6 C811.2,1070.5 813.4,1084.8 815.0,1091.9 C816.6,1099.0 817.0,1101.4 818.6,1101.4 C820.2,1101.4 822.5,1097.5 824.5,1091.9 C826.5,1086.3 828.3,1076.8 830.5,1068.1 C832.7,1059.4 835.2,1044.7 837.6,1039.5 C840.0,1034.4 842.4,1039.7 844.8,1037.1 C847.1,1034.6 849.1,1026.4 851.9,1024.0 C854.7,1021.7 858.7,1022.3 861.4,1022.9 C864.2,1023.5 866.2,1029.2 868.6,1027.6 C871.0,1026.0 873.3,1018.1 875.7,1013.3 C878.1,1008.6 880.5,1004.6 882.9,999.0 C885.2,993.5 888.7,983.2 890.0,980.0 C891.3,976.8 889.6,978.0 890.7,980.0 C891.8,982.0 894.7,988.3 896.7,991.9 C898.7,995.5 900.6,1000.4 902.6,1001.4 C904.6,1002.4 906.4,999.8 908.6,997.9 C910.8,995.9 913.3,992.1 915.7,989.5 C918.1,986.9 920.9,984.0 922.9,982.4 C924.8,980.8 925.6,979.0 927.6,980.0 C929.6,981.0 932.6,986.3 934.8,988.3 C936.9,990.3 938.7,992.1 940.7,991.9 C942.7,991.7 944.5,989.5 946.7,987.1 C948.8,984.8 951.8,981.2 953.8,977.6 C955.8,974.0 957.0,969.1 958.6,965.7 C960.2,962.3 961.3,956.6 963.3,957.4 C965.3,958.2 968.1,966.3 970.5,970.5 C972.9,974.6 975.4,977.2 977.6,982.4 C979.8,987.5 981.6,1000.2 983.6,1001.4 C985.6,1002.6 987.3,994.3 989.5,989.5 C991.7,984.8 994.3,978.8 996.7,972.9 C999.0,966.9 1001.4,958.8 1003.8,953.8 C1006.2,948.8 1008.6,941.5 1011.0,943.1 C1013.3,944.7 1015.7,955.2 1018.1,963.3 C1020.5,971.5 1023.3,983.2 1025.2,991.9 C1027.2,1000.6 1028.2,1006.8 1030.0,1015.7 C1031.8,1024.6 1034.0,1040.9 1036.0,1045.5 C1037.9,1050.0 1039.9,1043.1 1041.9,1043.1 C1043.9,1043.1 1045.9,1049.2 1047.9,1045.5 C1049.8,1041.7 1051.6,1028.6 1053.8,1020.5 C1056.0,1012.3 1058.6,1005.4 1061.0,996.7 C1063.3,987.9 1065.7,976.8 1068.1,968.1 C1070.5,959.4 1072.9,950.2 1075.2,944.3 C1077.6,938.3 1080.0,934.4 1082.4,932.4 C1084.8,930.4 1087.3,930.4 1089.5,932.4 C1091.7,934.4 1093.5,938.3 1095.5,944.3 C1097.5,950.2 1099.2,959.0 1101.4,968.1 C1103.6,977.2 1106.2,987.9 1108.6,999.0 C1111.0,1010.2 1113.5,1026.0 1115.7,1034.8 C1117.9,1043.5 1119.7,1047.9 1121.7,1051.4 C1123.7,1055.0 1125.6,1057.0 1127.6,1056.2 C1129.6,1055.4 1131.6,1050.6 1133.6,1046.7 C1135.6,1042.7 1137.3,1036.7 1139.5,1032.4 C1141.7,1028.0 1144.3,1024.0 1146.7,1020.5 C1149.0,1016.9 1151.4,1016.1 1153.8,1011.0 C1156.2,1005.8 1158.2,995.5 1161.0,989.5 C1163.7,983.6 1167.3,980.8 1170.5,975.2 C1173.7,969.7 1178.1,960.2 1180.0,956.2 C1181.9,952.2 1180.6,954.2 1181.9,951.4 C1183.2,948.7 1185.9,943.3 1187.9,939.5 C1189.8,935.8 1192.0,930.4 1193.8,928.8 C1195.6,927.2 1196.6,926.6 1198.6,930.0 C1200.6,933.4 1203.3,943.1 1205.7,949.0 C1208.1,955.0 1210.5,959.8 1212.9,965.7 C1215.2,971.7 1217.6,976.8 1220.0,984.8 C1222.4,992.7 1224.8,1008.6 1227.1,1013.3 C1229.5,1018.1 1231.9,1016.1 1234.3,1013.3 C1236.7,1010.6 1238.8,1002.2 1241.4,996.7 C1244.0,991.1 1247.0,979.2 1249.8,980.0 C1252.5,980.8 1255.5,992.3 1258.1,1001.4 C1260.7,1010.6 1263.3,1025.2 1265.2,1034.8 C1267.2,1044.3 1268.0,1057.0 1270.0,1058.6 C1272.0,1060.2 1274.8,1053.8 1277.1,1044.3 C1279.5,1034.8 1281.9,1014.1 1284.3,1001.4 C1286.7,988.7 1288.8,975.4 1291.4,968.1 C1294.0,960.8 1297.0,957.8 1299.8,957.4 C1302.5,957.0 1305.1,961.9 1308.1,965.7 C1311.1,969.5 1314.8,976.8 1317.6,980.0 C1320.4,983.2 1322.4,979.6 1324.8,984.8 C1327.1,989.9 1329.5,1001.8 1331.9,1011.0 C1334.3,1020.1 1336.7,1030.4 1339.0,1039.5 C1341.4,1048.7 1344.2,1060.4 1346.2,1065.7 C1348.2,1071.1 1349.0,1073.3 1351.0,1071.7 C1352.9,1070.1 1355.7,1063.1 1358.1,1056.2 C1360.5,1049.2 1362.9,1035.6 1365.2,1030.0 C1367.6,1024.4 1370.0,1022.9 1372.4,1022.9 C1374.8,1022.9 1377.1,1026.0 1379.5,1030.0 C1381.9,1034.0 1383.9,1041.1 1386.7,1046.7 C1389.4,1052.2 1393.0,1064.5 1396.2,1063.3 C1399.4,1062.1 1402.9,1047.5 1405.7,1039.5 C1408.5,1031.6 1410.5,1024.4 1412.9,1015.7 C1415.2,1007.0 1417.6,992.3 1420.0,987.1 C1422.4,982.0 1424.8,985.6 1427.1,984.8 C1429.5,984.0 1431.5,982.6 1434.3,982.4 C1437.1,982.2 1440.6,983.2 1443.8,983.6 C1447.0,984.0 1450.6,984.4 1453.3,984.8 C1456.1,985.2 1457.7,983.6 1460.5,986.0 C1463.3,988.3 1467.7,996.5 1470.0,999.0 C1472.3,1001.6 1472.8,1000.2 1474.3,1001.4 C1475.8,1002.6 1477.5,1007.0 1479.0,1006.2 C1480.6,1005.4 1481.8,1000.6 1483.8,996.7 C1485.8,992.7 1488.6,986.7 1491.0,982.4 C1493.3,978.0 1496.1,972.9 1498.1,970.5 C1500.1,968.1 1501.3,969.7 1502.9,968.1 C1504.4,966.5 1505.6,963.3 1507.6,961.0 C1509.6,958.6 1512.4,958.2 1514.8,953.8 C1517.1,949.4 1519.5,940.7 1521.9,934.8 C1524.3,928.8 1527.1,920.1 1529.0,918.1 C1531.0,916.1 1531.8,919.7 1533.8,922.9 C1535.8,926.0 1538.6,932.4 1541.0,937.1 C1543.3,941.9 1545.7,949.0 1548.1,951.4 C1550.5,953.8 1552.9,951.0 1555.2,951.4 C1557.6,951.8 1560.0,951.4 1562.4,953.8 C1564.8,956.2 1567.1,962.1 1569.5,965.7 C1571.9,969.3 1574.7,974.2 1576.7,975.2 C1578.7,976.2 1579.4,970.9 1581.4,971.7 C1583.4,972.5 1586.2,979.0 1588.6,980.0 C1591.0,981.0 1593.3,977.6 1595.7,977.6 C1598.1,977.6 1600.9,980.4 1602.9,980.0 C1604.8,979.6 1605.8,977.6 1607.6,975.2 C1609.4,972.9 1611.6,964.5 1613.6,965.7 C1615.6,966.9 1617.3,977.6 1619.5,982.4 C1621.7,987.1 1624.5,991.5 1626.7,994.3 C1628.8,997.1 1630.6,1000.2 1632.6,999.0 C1634.6,997.9 1636.4,995.9 1638.6,987.1 C1640.8,978.4 1643.3,957.4 1645.7,946.7 C1648.1,936.0 1650.3,931.0 1652.9,922.9 C1655.4,914.7 1658.8,898.3 1661.2,897.9 C1663.6,897.5 1665.0,913.1 1667.1,920.5 C1669.3,927.8 1671.5,933.6 1674.3,941.9 C1677.1,950.2 1681.0,962.9 1683.8,970.5 C1686.6,978.0 1688.6,982.2 1691.0,987.1 C1693.3,992.1 1695.7,998.3 1698.1,1000.2 C1700.5,1002.2 1702.9,1000.0 1705.2,999.0 C1707.6,998.1 1709.6,998.7 1712.4,994.3 C1715.2,989.9 1719.1,976.0 1721.9,972.9 C1724.7,969.7 1726.7,976.8 1729.0,975.2 C1731.4,973.7 1733.4,966.9 1736.2,963.3 C1739.0,959.8 1742.9,954.6 1745.7,953.8 C1748.5,953.0 1750.5,956.2 1752.9,958.6 C1755.2,961.0 1758.1,965.3 1760.0,968.1 C1761.9,970.9 1762.4,970.5 1764.3,975.2 C1766.2,980.0 1769.0,990.7 1771.4,996.7 C1773.8,1002.6 1776.2,1008.6 1778.6,1011.0 C1781.0,1013.3 1783.5,1015.7 1785.7,1011.0 C1787.9,1006.2 1789.7,992.3 1791.7,982.4 C1793.7,972.5 1795.6,960.6 1797.6,951.4 C1799.6,942.3 1801.6,933.2 1803.6,927.6 C1805.6,922.1 1807.7,920.9 1809.5,918.1 C1811.3,915.3 1812.7,911.3 1814.3,911.0 C1815.9,910.6 1817.1,913.3 1819.0,915.7 C1821.0,918.1 1823.8,921.7 1826.2,925.2 C1828.6,928.8 1831.2,933.6 1833.3,937.1 C1835.5,940.7 1837.3,942.3 1839.3,946.7 C1841.3,951.0 1843.3,959.4 1845.2,963.3 C1847.2,967.3 1849.2,967.3 1851.2,970.5 C1853.2,973.7 1855.2,978.0 1857.1,982.4 C1859.1,986.7 1860.7,993.9 1863.1,996.7 C1865.5,999.4 1868.8,1001.0 1871.4,999.0 C1874.0,997.1 1876.2,990.7 1878.6,984.8 C1881.0,978.8 1883.3,965.7 1885.7,963.3 C1888.1,961.0 1890.7,966.9 1892.9,970.5 C1895.0,974.0 1896.6,979.2 1898.8,984.8 C1901.0,990.3 1903.4,1001.4 1906.0,1003.8 C1908.5,1006.2 1912.1,1001.0 1914.3,999.0 C1916.5,997.1 1917.1,997.5 1919.0,991.9 C1921.0,986.3 1923.8,970.5 1926.2,965.7 C1928.6,961.0 1931.0,966.5 1933.3,963.3 C1935.7,960.2 1938.1,946.3 1940.5,946.7 C1942.9,947.1 1945.2,962.1 1947.6,965.7 C1950.0,969.3 1952.4,964.9 1954.8,968.1 C1957.1,971.3 1959.5,982.0 1961.9,984.8 C1964.3,987.5 1966.7,984.0 1969.0,984.8 C1971.4,985.6 1973.8,987.5 1976.2,989.5 C1978.6,991.5 1981.0,993.5 1983.3,996.7 C1985.7,999.8 1987.7,1004.6 1990.5,1008.6 C1993.3,1012.5 1997.2,1015.3 2000.0,1020.5 C2002.8,1025.6 2004.8,1036.0 2007.1,1039.5 C2009.5,1043.1 2011.5,1043.3 2014.3,1041.9 C2017.1,1040.5 2021.0,1034.8 2023.8,1031.2 C2026.6,1027.6 2028.6,1024.2 2031.0,1020.5 C2033.3,1016.7 2035.7,1012.5 2038.1,1008.6 C2040.5,1004.6 2043.3,999.4 2045.2,996.7 C2047.2,993.9 2049.0,993.1 2050.0,991.9 C2051.0,990.7 2049.9,990.4 2051.1,989.6 C2052.3,988.8 2055.0,988.8 2057.2,987.2 C2059.5,985.5 2062.1,981.4 2064.6,979.8 C2067.0,978.1 2069.5,979.4 2072.0,977.3 C2074.4,975.3 2076.9,973.2 2079.3,967.5 C2081.8,961.8 2084.2,948.6 2086.7,942.9 C2089.2,937.2 2091.2,935.5 2094.1,933.1 C2096.9,930.6 2101.0,925.7 2103.9,928.2 C2106.8,930.6 2109.0,942.1 2111.3,947.8 C2113.5,953.6 2115.6,954.0 2117.4,962.6 C2119.3,971.2 2120.5,986.3 2122.4,999.4 C2124.2,1012.6 2126.4,1028.5 2128.5,1041.2 C2130.5,1053.9 2133.0,1065.8 2134.6,1075.7 C2136.3,1085.5 2137.1,1094.3 2138.3,1100.2 C2139.6,1106.2 2140.4,1112.9 2142.0,1111.3 C2143.7,1109.7 2145.9,1097.2 2148.2,1090.4 C2150.4,1083.6 2153.5,1075.2 2155.5,1070.7 C2157.6,1066.2 2158.6,1065.2 2160.5,1063.4 C2162.3,1061.5 2164.8,1058.0 2166.6,1059.7 C2168.4,1061.3 2169.7,1069.3 2171.5,1073.2 C2173.4,1077.1 2175.8,1080.8 2177.7,1083.0 C2179.5,1085.3 2180.9,1087.1 2182.6,1086.7 C2184.2,1086.3 2185.9,1085.7 2187.5,1080.6 C2189.1,1075.4 2190.6,1065.8 2192.4,1056.0 C2194.3,1046.2 2196.5,1032.2 2198.6,1021.6 C2200.6,1010.9 2202.9,1000.1 2204.7,992.1 C2206.5,984.1 2207.6,976.9 2209.6,973.6 C2211.7,970.4 2214.9,972.4 2217.0,972.4 C2219.0,972.4 2220.1,973.0 2221.9,973.6 C2223.8,974.3 2226.0,977.1 2228.1,976.1 C2230.1,975.1 2231.9,971.4 2234.2,967.5 C2236.5,963.6 2239.5,961.8 2241.6,952.7 C2243.6,943.7 2244.9,924.9 2246.5,913.4 C2248.1,901.9 2249.8,891.3 2251.4,883.9 C2253.0,876.5 2254.7,872.4 2256.3,869.2 C2258.0,865.9 2259.6,863.8 2261.2,864.2 C2262.9,864.7 2264.5,867.5 2266.2,871.6 C2267.8,875.7 2269.2,882.3 2271.1,888.8 C2272.9,895.4 2275.4,906.4 2277.2,911.0 C2279.1,915.5 2280.3,915.5 2282.1,915.9 C2284.0,916.3 2286.0,914.6 2288.3,913.4 C2290.5,912.2 2293.8,909.1 2295.7,908.5 C2297.5,907.9 2298.2,908.7 2299.3,909.7 C2300.5,910.7 2302.0,913.8 2302.5,914.6" fill="none" stroke="#fdd835" stroke-width="1.6" stroke-linejoin="round"/>
<line x1="16" y1="526.3" x2="2231" y2="526.3" stroke="#2962ff" stroke-width="1.2" stroke-dasharray="1.5,3"/>
<path d="M2235.2,513 H2318.8 V540 H2235.2 Q2232.2,540 2232.2,537 V516 Q2232.2,513 2235.2,513 Z" fill="#2962ff"/>
<path d="M2320.1,513 H2406.9 Q2409.9,513 2409.9,516 V537 Q2409.9,540 2406.9,540 H2320.1 Z" fill="#2962ff"/>
<text x="2276.3" y="533" font-size="18" fill="#fff" stroke="#fff" stroke-width="0.6" text-anchor="middle" textLength="73" lengthAdjust="spacingAndGlyphs">ETHUSDT</text>
<text x="2367" y="533" font-size="18" fill="#fff" stroke="#fff" stroke-width="0.6" text-anchor="middle" textLength="67.4" lengthAdjust="spacingAndGlyphs">3,053.51</text>
<rect x="2325" y="47.3" width="84.5" height="37.5" rx="6" fill="#fff" stroke="#e9ebf0" stroke-width="1"/>
<text x="2338.8" y="71.8" font-size="17.5" fill="#131722" textLength="41.4" lengthAdjust="spacingAndGlyphs">USDT</text>
<circle cx="2302.4" cy="768.4" r="14.6" fill="#fff" stroke="#9c27b0" stroke-width="2.1"/>
<path d="M2307.3,761 L2303.2,766.4 L2308.6,766.4 L2297.8,776.6 L2301.8,770.2 L2296.3,770.2 Z" fill="#9c27b0" stroke="#9c27b0" stroke-width="1" stroke-linejoin="round"/>
<path d="M18,1245.2 H35.6 V1267.1 H27.1 V1253.7 H18 Z" fill="#131722"/>
<circle cx="43.7" cy="1249.4" r="4.3" fill="#131722"/>
<path d="M53.3,1245.2 H62.4 L53.8,1267.1 H44.2 Z" fill="#131722"/>
<text x="73.6" y="1267.1" font-size="32.5" fill="#131722" font-weight="bold" textLength="181.5" lengthAdjust="spacingAndGlyphs">TradingView</text>
<text x="15.3" y="29.2" font-size="18.5" fill="#131722" text-anchor="start" font-weight="normal" textLength="551.7" lengthAdjust="spacingAndGlyphs" stroke="#131722" stroke-width="0.35">mccallisaiah created with TradingView.com, Dec 03, 2025 09:27 UTC</text>
<text x="27.1" y="69.6" font-size="18.5" fill="#131722" text-anchor="start" font-weight="normal" textLength="286.5" lengthAdjust="spacingAndGlyphs" stroke="#131722" stroke-width="0.35">Ethereum / TetherUS · 30 · Binance</text>
<text x="325.8" y="69.6" font-size="18" fill="#2962ff" text-anchor="start" font-weight="normal" textLength="67.5" lengthAdjust="spacingAndGlyphs" stroke="#2962ff" stroke-width="0.35">3,053.51</text>
<text x="406.2" y="69.6" font-size="18" fill="#2962ff" text-anchor="start" font-weight="normal" textLength="116.9" lengthAdjust="spacingAndGlyphs" stroke="#2962ff" stroke-width="0.35">+2.74 (+0.09%)</text>
<text x="27.1" y="95.6" font-size="18.5" fill="#131722" text-anchor="start" font-weight="normal" textLength="121.6" lengthAdjust="spacingAndGlyphs" stroke="#131722" stroke-width="0.35">SMA (20, close)</text>
<text x="161.3" y="95.6" font-size="18" fill="#00bcd4" text-anchor="start" font-weight="normal" textLength="68.4" lengthAdjust="spacingAndGlyphs" stroke="#00bcd4" stroke-width="0.35">3,039.77</text>
<text x="27.1" y="121.6" font-size="18.5" fill="#131722" text-anchor="start" font-weight="normal" textLength="130.9" lengthAdjust="spacingAndGlyphs" stroke="#131722" stroke-width="0.35">SMA (200, close)</text>
<text x="170.2" y="121.6" font-size="18" fill="#f23645" text-anchor="start" font-weight="normal" textLength="68.4" lengthAdjust="spacingAndGlyphs" stroke="#f23645" stroke-width="0.35">2,933.43</text>
<text x="27.1" y="147.4" font-size="18.5" fill="#131722" text-anchor="start" font-weight="normal" textLength="175.3" lengthAdjust="spacingAndGlyphs" stroke="#131722" stroke-width="0.35">BB (20, SMA, close, 2)</text>
<text x="215.3" y="147.4" font-size="18" fill="#2962ff" text-anchor="start" font-weight="normal" textLength="68.3" lengthAdjust="spacingAndGlyphs" stroke="#2962ff" stroke-width="0.35">3,039.77</text>
<text x="295.8" y="147.4" font-size="18" fill="#f23645" text-anchor="start" font-weight="normal" textLength="68.6" lengthAdjust="spacingAndGlyphs" stroke="#f23645" stroke-width="0.35">3,088.70</text>
<text x="376.2" y="147.4" font-size="18" fill="#089981" text-anchor="start" font-weight="normal" textLength="68.3" lengthAdjust="spacingAndGlyphs" stroke="#089981" stroke-width="0.35">2,990.85</text>
<text x="27.7" y="817.8" font-size="18.5" fill="#131722" text-anchor="start" font-weight="normal" textLength="112.9" lengthAdjust="spacingAndGlyphs" stroke="#131722" stroke-width="0.35">RSI (14, close)</text>
<text x="152.9" y="817.8" font-size="18" fill="#7e57c2" text-anchor="start" font-weight="normal" textLength="42.9" lengthAdjust="spacingAndGlyphs" stroke="#7e57c2" stroke-width="0.35">61.53</text>
<text x="208.1" y="817.8" font-size="18" fill="#fdd835" text-anchor="start" font-weight="normal" textLength="43.4" lengthAdjust="spacingAndGlyphs" stroke="#fdd835" stroke-width="0.35">66.86</text>
<text x="2333.7" y="121.28" font-size="18" fill="#131722" text-anchor="start" font-weight="normal" textLength="68.6" lengthAdjust="spacingAndGlyphs" stroke="#131722" stroke-width="0.35">3,900.00</text>
<text x="2333.7" y="169.7" font-size="18" fill="#131722" text-anchor="start" font-weight="normal" textLength="68.6" lengthAdjust="spacingAndGlyphs" stroke="#131722" stroke-width="0.35">3,800.00</text>
<text x="2333.7" y="218.12" font-size="18" fill="#131722" text-anchor="start" font-weight="normal" textLength="68.6" lengthAdjust="spacingAndGlyphs" stroke="#131722" stroke-width="0.35">3,700.00</text>
<text x="2333.7" y="266.54" font-size="18" fill="#131722" text-anchor="start" font-weight="normal" textLength="68.6" lengthAdjust="spacingAndGlyphs" stroke="#131722" stroke-width="0.35">3,600.00</text>
<text x="2333.7" y="314.96" font-size="18" fill="#131722" text-anchor="start" font-weight="normal" textLength="68.6" lengthAdjust="spacingAndGlyphs" stroke="#131722" stroke-width="0.35">3,500.00</text>
<text x="2333.7" y="363.38" font-size="18" fill="#131722" text-anchor="start" font-weight="normal" textLength="68.6" lengthAdjust="spacingAndGlyphs" stroke="#131722" stroke-width="0.35">3,400.00</text>
<text x="2333.7" y="411.8" font-size="18" fill="#131722" text-anchor="start" font-weight="normal" textLength="68.6" lengthAdjust="spacingAndGlyphs" stroke="#131722" stroke-width="0.35">3,300.00</text>
<text x="2333.7" y="460.22" font-size="18" fill="#131722" text-anchor="start" font-weight="normal" textLength="68.6" lengthAdjust="spacingAndGlyphs" stroke="#131722" stroke-width="0.35">3,200.00</text>
<text x="2333.7" y="508.64" font-size="18" fill="#131722" text-anchor="start" font-weight="normal" textLength="68.6" lengthAdjust="spacingAndGlyphs" stroke="#131722" stroke-width="0.35">3,100.00</text>
<text x="2333.7" y="557.0600000000001" font-size="18" fill="#131722" text-anchor="start" font-weight="normal" textLength="68.6" lengthAdjust="spacingAndGlyphs" stroke="#131722" stroke-width="0.35">3,000.00</text>
<text x="2333.7" y="605.48" font-size="18" fill="#131722" text-anchor="start" font-weight="normal" textLength="68.6" lengthAdjust="spacingAndGlyphs" stroke="#131722" stroke-width="0.35">2,900.00</text>
<text x="2333.7" y="653.9000000000001" font-size="18" fill="#131722" text-anchor="start" font-weight="normal" textLength="68.6" lengthAdjust="spacingAndGlyphs" stroke="#131722" stroke-width="0.35">2,800.00</text>
<text x="2333.7" y="702.32" font-size="18" fill="#131722" text-anchor="start" font-weight="normal" textLength="68.6" lengthAdjust="spacingAndGlyphs" stroke="#131722" stroke-width="0.35">2,700.00</text>
<text x="2333.7" y="750.7400000000001" font-size="18" fill="#131722" text-anchor="start" font-weight="normal" textLength="68.6" lengthAdjust="spacingAndGlyphs" stroke="#131722" stroke-width="0.35">2,600.00</text>
<text x="2333.4" y="867.3000000000001" font-size="18" fill="#131722" text-anchor="start" font-weight="normal" textLength="43.2" lengthAdjust="spacingAndGlyphs" stroke="#131722" stroke-width="0.35">80.00</text>
<text x="2333.4" y="949.1" font-size="18" fill="#131722" text-anchor="start" font-weight="normal" textLength="43.2" lengthAdjust="spacingAndGlyphs" stroke="#131722" stroke-width="0.35">60.00</text>
<text x="2333.4" y="1030.9" font-size="18" fill="#131722" text-anchor="start" font-weight="normal" textLength="43.2" lengthAdjust="spacingAndGlyphs" stroke="#131722" stroke-width="0.35">40.00</text>
<text x="2333.4" y="1112.7" font-size="18" fill="#131722" text-anchor="start" font-weight="normal" textLength="43.2" lengthAdjust="spacingAndGlyphs" stroke="#131722" stroke-width="0.35">20.00</text>
<text x="62.5" y="1197.8" font-size="18" fill="#131722" text-anchor="middle" font-weight="normal" stroke="#131722" stroke-width="0.35">4</text>
<text x="215.5" y="1197.8" font-size="18" fill="#131722" text-anchor="middle" font-weight="normal" stroke="#131722" stroke-width="0.35">6</text>
<text x="367.5" y="1197.8" font-size="18" fill="#131722" text-anchor="middle" font-weight="normal" stroke="#131722" stroke-width="0.35">8</text>
<text x="520.5" y="1197.8" font-size="18" fill="#131722" text-anchor="middle" font-weight="normal" stroke="#131722" stroke-width="0.35">10</text>
<text x="672.5" y="1197.8" font-size="18" fill="#131722" text-anchor="middle" font-weight="normal" stroke="#131722" stroke-width="0.35">12</text>
<text x="825.5" y="1197.8" font-size="18" fill="#131722" text-anchor="middle" font-weight="normal" stroke="#131722" stroke-width="0.35">14</text>
<text x="977.5" y="1197.8" font-size="18" fill="#131722" text-anchor="middle" font-weight="normal" stroke="#131722" stroke-width="0.35">16</text>
<text x="1130.5" y="1197.8" font-size="18" fill="#131722" text-anchor="middle" font-weight="normal" stroke="#131722" stroke-width="0.35">18</text>
<text x="1282.5" y="1197.8" font-size="18" fill="#131722" text-anchor="middle" font-weight="normal" stroke="#131722" stroke-width="0.35">20</text>
<text x="1435.5" y="1197.8" font-size="18" fill="#131722" text-anchor="middle" font-weight="normal" stroke="#131722" stroke-width="0.35">22</text>
<text x="1587.5" y="1197.8" font-size="18" fill="#131722" text-anchor="middle" font-weight="normal" stroke="#131722" stroke-width="0.35">24</text>
<text x="1740.5" y="1197.8" font-size="18" fill="#131722" text-anchor="middle" font-weight="normal" stroke="#131722" stroke-width="0.35">26</text>
<text x="1892.5" y="1197.8" font-size="18" fill="#131722" text-anchor="middle" font-weight="normal" stroke="#131722" stroke-width="0.35">28</text>
<text x="2121.5" y="1197.8" font-size="18" fill="#131722" text-anchor="middle" font-weight="bold" textLength="29.5" lengthAdjust="spacingAndGlyphs">Dec</text>
<text x="2274.5" y="1197.8" font-size="18" fill="#131722" text-anchor="middle" font-weight="normal" stroke="#131722" stroke-width="0.35">3</text>
</svg>
</body></html>
